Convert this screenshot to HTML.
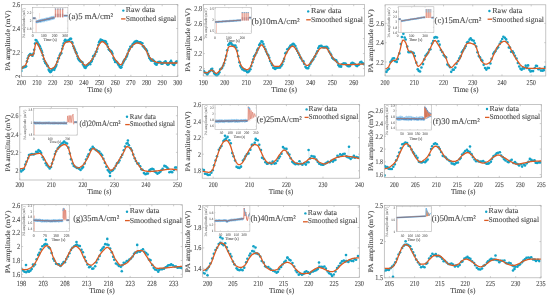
<!DOCTYPE html>
<html><head><meta charset="utf-8"><style>
html,body{margin:0;padding:0;background:#fff;width:550px;height:297px;overflow:hidden}
svg{display:block;will-change:transform}
text{font-family:"Liberation Serif",serif;stroke-width:0.1px;text-rendering:geometricPrecision}
</style></head><body>
<svg width="550" height="297" viewBox="0 0 550 297">
<rect width="550" height="297" fill="#fff"/>
<clipPath id="c1"><rect x="21.4" y="4.1" width="156.4" height="72.8"/></clipPath>
<path d="M21.4 76.4v-1.6M21.4 4.6v1.6M37.04 76.4v-1.6M37.04 4.6v1.6M52.68 76.4v-1.6M52.68 4.6v1.6M68.32 76.4v-1.6M68.32 4.6v1.6M83.96 76.4v-1.6M83.96 4.6v1.6M99.6 76.4v-1.6M99.6 4.6v1.6M115.24 76.4v-1.6M115.24 4.6v1.6M130.88 76.4v-1.6M130.88 4.6v1.6M146.52 76.4v-1.6M146.52 4.6v1.6M162.16 76.4v-1.6M162.16 4.6v1.6M177.8 76.4v-1.6M177.8 4.6v1.6M21.4 76.4h1.6M177.8 76.4h-1.6M21.4 52.47h1.6M177.8 52.47h-1.6M21.4 28.53h1.6M177.8 28.53h-1.6M21.4 4.6h1.6M177.8 4.6h-1.6" stroke="#adadad" stroke-width="0.6" fill="none"/>
<text x="21.4" y="84.7" font-size="7.52" text-anchor="middle" fill="#484848" stroke="#484848" textLength="9.21" lengthAdjust="spacingAndGlyphs">200</text>
<text x="37.04" y="84.7" font-size="7.52" text-anchor="middle" fill="#484848" stroke="#484848" textLength="9.21" lengthAdjust="spacingAndGlyphs">210</text>
<text x="52.68" y="84.7" font-size="7.52" text-anchor="middle" fill="#484848" stroke="#484848" textLength="9.21" lengthAdjust="spacingAndGlyphs">220</text>
<text x="68.32" y="84.7" font-size="7.52" text-anchor="middle" fill="#484848" stroke="#484848" textLength="9.21" lengthAdjust="spacingAndGlyphs">230</text>
<text x="83.96" y="84.7" font-size="7.52" text-anchor="middle" fill="#484848" stroke="#484848" textLength="9.21" lengthAdjust="spacingAndGlyphs">240</text>
<text x="99.6" y="84.7" font-size="7.52" text-anchor="middle" fill="#484848" stroke="#484848" textLength="9.21" lengthAdjust="spacingAndGlyphs">250</text>
<text x="115.24" y="84.7" font-size="7.52" text-anchor="middle" fill="#484848" stroke="#484848" textLength="9.21" lengthAdjust="spacingAndGlyphs">260</text>
<text x="130.88" y="84.7" font-size="7.52" text-anchor="middle" fill="#484848" stroke="#484848" textLength="9.21" lengthAdjust="spacingAndGlyphs">270</text>
<text x="146.52" y="84.7" font-size="7.52" text-anchor="middle" fill="#484848" stroke="#484848" textLength="9.21" lengthAdjust="spacingAndGlyphs">280</text>
<text x="162.16" y="84.7" font-size="7.52" text-anchor="middle" fill="#484848" stroke="#484848" textLength="9.21" lengthAdjust="spacingAndGlyphs">290</text>
<text x="177.8" y="84.7" font-size="7.52" text-anchor="middle" fill="#484848" stroke="#484848" textLength="9.21" lengthAdjust="spacingAndGlyphs">300</text>
<text x="20.2" y="76.4" font-size="6.77" text-anchor="middle" fill="#484848" stroke="#484848" transform="rotate(-90 20.2 76.4)">2</text>
<text x="20.1" y="55.03" font-size="7.52" text-anchor="end" fill="#484848" stroke="#484848" textLength="7.67" lengthAdjust="spacingAndGlyphs">2.2</text>
<text x="20.1" y="31.09" font-size="7.52" text-anchor="end" fill="#484848" stroke="#484848" textLength="7.67" lengthAdjust="spacingAndGlyphs">2.4</text>
<text x="20.1" y="7.16" font-size="7.52" text-anchor="end" fill="#484848" stroke="#484848" textLength="7.67" lengthAdjust="spacingAndGlyphs">2.6</text>
<text x="99.6" y="91.8" font-size="7.6" text-anchor="middle" fill="#484848" stroke="#484848" textLength="24.8" lengthAdjust="spacingAndGlyphs">Time (s)</text>
<text x="9.6" y="40.6" font-size="7" text-anchor="middle" fill="#484848" stroke="#484848" textLength="60.5" lengthAdjust="spacingAndGlyphs" transform="rotate(-90 9.6 40.6)">PA amplitude (mV)</text>
<g clip-path="url(#c1)"><polyline points="21.37,70.89 22.27,67.99 22.84,67.49 23.74,66.68 24.49,67.23 25.27,66.69 26.1,66.33 26.95,61.39 27.77,58.31 28.61,56.02 29.37,54.98 30.26,54.03 30.91,54.72 31.92,55.11 32.45,55.74 33.45,53.53 34.17,49.83 35.02,43.61 35.68,40.01 36.5,40.44 37.5,42.3 38.35,44.35 38.94,44.79 39.86,46.18 40.72,48.46 41.53,50.46 42.07,52.39 42.85,55.32 43.69,58.95 44.72,61.28 45.27,62.88 46.17,63.67 47.15,65.38 47.81,66.17 48.66,69.63 49.34,71.1 50.26,72.11 51.11,71.59 51.65,70.22 52.68,69.56 53.56,68.61 54.28,69.83 54.93,68.12 55.89,66.41 56.47,64.8 57.38,61.82 58.33,58.29 58.93,57.93 59.73,55.26 60.48,53.66 61.25,53.14 62.26,48.81 62.91,45.69 63.72,43.29 64.6,40.85 65.26,39.9 66.22,41.14 66.89,40.87 67.83,41.37 68.66,40.12 69.27,39.97 70.17,38.85 71.06,38.81 71.77,42.03 72.46,42.89 73.41,46.23 74.25,48.27 75,50.08 75.94,52.13 76.63,53.62 77.53,56.34 78.08,58.55 78.88,59.83 79.9,60.88 80.57,61.26 81.29,61.69 82.34,62.19 82.95,64.49 83.88,66.03 84.67,67.51 85.52,67.95 86.24,66.58 87.08,65.35 87.75,64.9 88.53,64.04 89.53,63.28 90.18,64.2 91.15,61.92 91.85,60.98 92.64,59 93.28,56.13 94.34,55.98 94.98,54.2 95.83,52.03 96.57,51.67 97.32,48.72 98.33,45.03 99.02,42.4 99.64,41.37 100.64,39.44 101.34,40.4 102.21,40.3 103.12,40.98 103.75,41.51 104.73,41.06 105.44,41.37 106.05,42.11 107.14,44.04 107.86,46.78 108.76,49.29 109.3,49.86 110.08,50.83 111.14,51.14 111.86,52.41 112.46,53.69 113.48,58.1 114.28,59.7 115.14,62 115.87,61.59 116.48,61.92 117.25,62.61 118.05,64.01 118.85,65.15 119.72,66.85 120.72,67.64 121.41,67.17 122.22,64.77 123.11,62.75 123.68,61.2 124.53,59.84 125.43,59.07 126.35,57.07 127.02,55.75 127.65,53.8 128.7,50.84 129.31,49.4 130.3,46.75 130.96,46.69 131.92,46.61 132.68,44.37 133.42,43.81 134.08,42.73 134.86,41.79 135.68,41.89 136.45,41.16 137.27,41.4 138.11,42.62 139.07,42.31 139.82,42.89 140.44,42.33 141.26,42.97 142.35,43.35 143.02,46.28 143.71,46.56 144.52,47.92 145.48,48.99 146.1,49.52 147.03,51.05 147.95,53.72 148.71,55.71 149.32,57.91 150.2,59.11 151.04,60.4 151.91,60.46 152.49,59.58 153.25,60.64 154.06,61 155,63.35 155.83,64.21 156.62,64.68 157.34,63.02 158.36,62.02 159.03,62.31 159.76,61.74 160.62,62.36 161.48,63.64 162.25,63.64 162.92,63.21 163.66,62.76 164.56,62.26 165.44,61.41 166.11,62.54 167.08,63.93 167.66,64.58 168.52,64.36 169.5,62.95 170.1,62.27 171.04,60.88 171.81,62.43 172.74,63.88 173.32,64.19 174.06,64.97 175.08,63.29 175.89,62.03 176.73,61.5 177.54,61.64" fill="none" stroke="#9dd6ea" stroke-width="0.35" opacity="0.7"/><g fill="#12a2c6"><circle cx="21.37" cy="70.89" r="1.3"/><circle cx="22.27" cy="67.99" r="1.3"/><circle cx="22.84" cy="67.49" r="1.3"/><circle cx="23.74" cy="66.68" r="1.3"/><circle cx="24.49" cy="67.23" r="1.3"/><circle cx="25.27" cy="66.69" r="1.3"/><circle cx="26.1" cy="66.33" r="1.3"/><circle cx="26.95" cy="61.39" r="1.3"/><circle cx="27.77" cy="58.31" r="1.3"/><circle cx="28.61" cy="56.02" r="1.3"/><circle cx="29.37" cy="54.98" r="1.3"/><circle cx="30.26" cy="54.03" r="1.3"/><circle cx="30.91" cy="54.72" r="1.3"/><circle cx="31.92" cy="55.11" r="1.3"/><circle cx="32.45" cy="55.74" r="1.3"/><circle cx="33.45" cy="53.53" r="1.3"/><circle cx="34.17" cy="49.83" r="1.3"/><circle cx="35.02" cy="43.61" r="1.3"/><circle cx="35.68" cy="40.01" r="1.3"/><circle cx="36.5" cy="40.44" r="1.3"/><circle cx="37.5" cy="42.3" r="1.3"/><circle cx="38.35" cy="44.35" r="1.3"/><circle cx="38.94" cy="44.79" r="1.3"/><circle cx="39.86" cy="46.18" r="1.3"/><circle cx="40.72" cy="48.46" r="1.3"/><circle cx="41.53" cy="50.46" r="1.3"/><circle cx="42.07" cy="52.39" r="1.3"/><circle cx="42.85" cy="55.32" r="1.3"/><circle cx="43.69" cy="58.95" r="1.3"/><circle cx="44.72" cy="61.28" r="1.3"/><circle cx="45.27" cy="62.88" r="1.3"/><circle cx="46.17" cy="63.67" r="1.3"/><circle cx="47.15" cy="65.38" r="1.3"/><circle cx="47.81" cy="66.17" r="1.3"/><circle cx="48.66" cy="69.63" r="1.3"/><circle cx="49.34" cy="71.1" r="1.3"/><circle cx="50.26" cy="72.11" r="1.3"/><circle cx="51.11" cy="71.59" r="1.3"/><circle cx="51.65" cy="70.22" r="1.3"/><circle cx="52.68" cy="69.56" r="1.3"/><circle cx="53.56" cy="68.61" r="1.3"/><circle cx="54.28" cy="69.83" r="1.3"/><circle cx="54.93" cy="68.12" r="1.3"/><circle cx="55.89" cy="66.41" r="1.3"/><circle cx="56.47" cy="64.8" r="1.3"/><circle cx="57.38" cy="61.82" r="1.3"/><circle cx="58.33" cy="58.29" r="1.3"/><circle cx="58.93" cy="57.93" r="1.3"/><circle cx="59.73" cy="55.26" r="1.3"/><circle cx="60.48" cy="53.66" r="1.3"/><circle cx="61.25" cy="53.14" r="1.3"/><circle cx="62.26" cy="48.81" r="1.3"/><circle cx="62.91" cy="45.69" r="1.3"/><circle cx="63.72" cy="43.29" r="1.3"/><circle cx="64.6" cy="40.85" r="1.3"/><circle cx="65.26" cy="39.9" r="1.3"/><circle cx="66.22" cy="41.14" r="1.3"/><circle cx="66.89" cy="40.87" r="1.3"/><circle cx="67.83" cy="41.37" r="1.3"/><circle cx="68.66" cy="40.12" r="1.3"/><circle cx="69.27" cy="39.97" r="1.3"/><circle cx="70.17" cy="38.85" r="1.3"/><circle cx="71.06" cy="38.81" r="1.3"/><circle cx="71.77" cy="42.03" r="1.3"/><circle cx="72.46" cy="42.89" r="1.3"/><circle cx="73.41" cy="46.23" r="1.3"/><circle cx="74.25" cy="48.27" r="1.3"/><circle cx="75" cy="50.08" r="1.3"/><circle cx="75.94" cy="52.13" r="1.3"/><circle cx="76.63" cy="53.62" r="1.3"/><circle cx="77.53" cy="56.34" r="1.3"/><circle cx="78.08" cy="58.55" r="1.3"/><circle cx="78.88" cy="59.83" r="1.3"/><circle cx="79.9" cy="60.88" r="1.3"/><circle cx="80.57" cy="61.26" r="1.3"/><circle cx="81.29" cy="61.69" r="1.3"/><circle cx="82.34" cy="62.19" r="1.3"/><circle cx="82.95" cy="64.49" r="1.3"/><circle cx="83.88" cy="66.03" r="1.3"/><circle cx="84.67" cy="67.51" r="1.3"/><circle cx="85.52" cy="67.95" r="1.3"/><circle cx="86.24" cy="66.58" r="1.3"/><circle cx="87.08" cy="65.35" r="1.3"/><circle cx="87.75" cy="64.9" r="1.3"/><circle cx="88.53" cy="64.04" r="1.3"/><circle cx="89.53" cy="63.28" r="1.3"/><circle cx="90.18" cy="64.2" r="1.3"/><circle cx="91.15" cy="61.92" r="1.3"/><circle cx="91.85" cy="60.98" r="1.3"/><circle cx="92.64" cy="59" r="1.3"/><circle cx="93.28" cy="56.13" r="1.3"/><circle cx="94.34" cy="55.98" r="1.3"/><circle cx="94.98" cy="54.2" r="1.3"/><circle cx="95.83" cy="52.03" r="1.3"/><circle cx="96.57" cy="51.67" r="1.3"/><circle cx="97.32" cy="48.72" r="1.3"/><circle cx="98.33" cy="45.03" r="1.3"/><circle cx="99.02" cy="42.4" r="1.3"/><circle cx="99.64" cy="41.37" r="1.3"/><circle cx="100.64" cy="39.44" r="1.3"/><circle cx="101.34" cy="40.4" r="1.3"/><circle cx="102.21" cy="40.3" r="1.3"/><circle cx="103.12" cy="40.98" r="1.3"/><circle cx="103.75" cy="41.51" r="1.3"/><circle cx="104.73" cy="41.06" r="1.3"/><circle cx="105.44" cy="41.37" r="1.3"/><circle cx="106.05" cy="42.11" r="1.3"/><circle cx="107.14" cy="44.04" r="1.3"/><circle cx="107.86" cy="46.78" r="1.3"/><circle cx="108.76" cy="49.29" r="1.3"/><circle cx="109.3" cy="49.86" r="1.3"/><circle cx="110.08" cy="50.83" r="1.3"/><circle cx="111.14" cy="51.14" r="1.3"/><circle cx="111.86" cy="52.41" r="1.3"/><circle cx="112.46" cy="53.69" r="1.3"/><circle cx="113.48" cy="58.1" r="1.3"/><circle cx="114.28" cy="59.7" r="1.3"/><circle cx="115.14" cy="62" r="1.3"/><circle cx="115.87" cy="61.59" r="1.3"/><circle cx="116.48" cy="61.92" r="1.3"/><circle cx="117.25" cy="62.61" r="1.3"/><circle cx="118.05" cy="64.01" r="1.3"/><circle cx="118.85" cy="65.15" r="1.3"/><circle cx="119.72" cy="66.85" r="1.3"/><circle cx="120.72" cy="67.64" r="1.3"/><circle cx="121.41" cy="67.17" r="1.3"/><circle cx="122.22" cy="64.77" r="1.3"/><circle cx="123.11" cy="62.75" r="1.3"/><circle cx="123.68" cy="61.2" r="1.3"/><circle cx="124.53" cy="59.84" r="1.3"/><circle cx="125.43" cy="59.07" r="1.3"/><circle cx="126.35" cy="57.07" r="1.3"/><circle cx="127.02" cy="55.75" r="1.3"/><circle cx="127.65" cy="53.8" r="1.3"/><circle cx="128.7" cy="50.84" r="1.3"/><circle cx="129.31" cy="49.4" r="1.3"/><circle cx="130.3" cy="46.75" r="1.3"/><circle cx="130.96" cy="46.69" r="1.3"/><circle cx="131.92" cy="46.61" r="1.3"/><circle cx="132.68" cy="44.37" r="1.3"/><circle cx="133.42" cy="43.81" r="1.3"/><circle cx="134.08" cy="42.73" r="1.3"/><circle cx="134.86" cy="41.79" r="1.3"/><circle cx="135.68" cy="41.89" r="1.3"/><circle cx="136.45" cy="41.16" r="1.3"/><circle cx="137.27" cy="41.4" r="1.3"/><circle cx="138.11" cy="42.62" r="1.3"/><circle cx="139.07" cy="42.31" r="1.3"/><circle cx="139.82" cy="42.89" r="1.3"/><circle cx="140.44" cy="42.33" r="1.3"/><circle cx="141.26" cy="42.97" r="1.3"/><circle cx="142.35" cy="43.35" r="1.3"/><circle cx="143.02" cy="46.28" r="1.3"/><circle cx="143.71" cy="46.56" r="1.3"/><circle cx="144.52" cy="47.92" r="1.3"/><circle cx="145.48" cy="48.99" r="1.3"/><circle cx="146.1" cy="49.52" r="1.3"/><circle cx="147.03" cy="51.05" r="1.3"/><circle cx="147.95" cy="53.72" r="1.3"/><circle cx="148.71" cy="55.71" r="1.3"/><circle cx="149.32" cy="57.91" r="1.3"/><circle cx="150.2" cy="59.11" r="1.3"/><circle cx="151.04" cy="60.4" r="1.3"/><circle cx="151.91" cy="60.46" r="1.3"/><circle cx="152.49" cy="59.58" r="1.3"/><circle cx="153.25" cy="60.64" r="1.3"/><circle cx="154.06" cy="61" r="1.3"/><circle cx="155" cy="63.35" r="1.3"/><circle cx="155.83" cy="64.21" r="1.3"/><circle cx="156.62" cy="64.68" r="1.3"/><circle cx="157.34" cy="63.02" r="1.3"/><circle cx="158.36" cy="62.02" r="1.3"/><circle cx="159.03" cy="62.31" r="1.3"/><circle cx="159.76" cy="61.74" r="1.3"/><circle cx="160.62" cy="62.36" r="1.3"/><circle cx="161.48" cy="63.64" r="1.3"/><circle cx="162.25" cy="63.64" r="1.3"/><circle cx="162.92" cy="63.21" r="1.3"/><circle cx="163.66" cy="62.76" r="1.3"/><circle cx="164.56" cy="62.26" r="1.3"/><circle cx="165.44" cy="61.41" r="1.3"/><circle cx="166.11" cy="62.54" r="1.3"/><circle cx="167.08" cy="63.93" r="1.3"/><circle cx="167.66" cy="64.58" r="1.3"/><circle cx="168.52" cy="64.36" r="1.3"/><circle cx="169.5" cy="62.95" r="1.3"/><circle cx="170.1" cy="62.27" r="1.3"/><circle cx="171.04" cy="60.88" r="1.3"/><circle cx="171.81" cy="62.43" r="1.3"/><circle cx="172.74" cy="63.88" r="1.3"/><circle cx="173.32" cy="64.19" r="1.3"/><circle cx="174.06" cy="64.97" r="1.3"/><circle cx="175.08" cy="63.29" r="1.3"/><circle cx="175.89" cy="62.03" r="1.3"/><circle cx="176.73" cy="61.5" r="1.3"/><circle cx="177.54" cy="61.64" r="1.3"/></g><polyline points="21.4,69.5 21.92,68.25 22.45,67.56 22.97,67.06 23.49,66.67 24.02,66.33 24.54,65.96 25.06,65.5 25.58,64.87 26.11,63.91 26.63,62.5 27.15,60.85 27.68,59.17 28.2,57.68 28.72,56.52 29.25,55.43 29.77,55 30.29,55 30.82,55 31.34,55 31.86,55 32.38,55 32.91,55 33.43,54.4 33.95,52.42 34.48,49.65 35,46.73 35.52,44.3 36.05,42.98 36.57,42.98 37.09,43.37 37.62,44.02 38.14,44.88 38.66,45.9 39.18,47.02 39.71,48.2 40.23,49.38 40.75,50.5 41.28,51.57 41.8,52.74 42.32,54.02 42.85,55.36 43.37,56.73 43.89,58.09 44.42,59.39 44.94,60.6 45.46,61.69 45.98,62.62 46.51,63.55 47.03,64.5 47.55,65.43 48.08,66.31 48.6,67.12 49.12,67.8 49.65,68.33 50.17,68.67 50.69,68.8 51.22,68.75 51.74,68.59 52.26,68.35 52.78,68.05 53.31,67.7 53.83,67.32 54.35,66.89 54.88,66.28 55.4,65.5 55.92,64.58 56.45,63.53 56.97,62.39 57.49,61.18 58.02,59.91 58.54,58.63 59.06,57.34 59.58,56.07 60.11,54.85 60.63,53.67 61.15,52.34 61.68,50.88 62.2,49.36 62.72,47.84 63.25,46.4 63.77,45.11 64.29,44.04 64.82,43.25 65.34,42.81 65.86,42.49 66.38,42.2 66.91,41.96 67.43,41.77 67.95,41.65 68.48,41.6 69,41.63 69.52,41.71 70.05,41.83 70.57,41.99 71.09,42.19 71.62,42.69 72.14,43.5 72.66,44.55 73.18,45.8 73.71,47.18 74.23,48.63 74.75,50.08 75.28,51.48 75.8,52.76 76.32,53.87 76.85,54.8 77.37,55.7 77.89,56.57 78.42,57.41 78.94,58.21 79.46,58.99 79.98,59.72 80.51,60.42 81.03,61.07 81.55,61.68 82.08,62.31 82.6,62.97 83.12,63.6 83.65,64.18 84.17,64.66 84.69,65.01 85.22,65.19 85.74,65.17 86.26,65 86.78,64.72 87.31,64.34 87.83,63.89 88.35,63.4 88.88,62.89 89.4,62.39 89.92,61.89 90.45,61.34 90.97,60.73 91.49,60.07 92.02,59.36 92.54,58.61 93.06,57.82 93.58,56.99 94.11,56.13 94.63,55.19 95.15,54.06 95.68,52.77 96.2,51.39 96.72,49.97 97.25,48.57 97.77,47.25 98.29,46.06 98.82,45.07 99.34,44.32 99.86,43.63 100.38,42.97 100.91,42.39 101.43,41.93 101.95,41.66 102.48,41.61 103,41.75 103.52,42.03 104.05,42.42 104.57,42.9 105.09,43.44 105.62,44.02 106.14,44.6 106.66,45.18 107.18,45.83 107.71,46.59 108.23,47.42 108.75,48.3 109.28,49.23 109.8,50.17 110.32,51.1 110.85,52.01 111.37,52.88 111.89,53.78 112.42,54.71 112.94,55.65 113.46,56.6 113.98,57.52 114.51,58.4 115.03,59.21 115.55,59.95 116.08,60.59 116.6,61.21 117.12,61.84 117.65,62.46 118.17,63.04 118.69,63.57 119.22,64.03 119.74,64.38 120.26,64.61 120.78,64.7 121.31,64.53 121.83,64.05 122.35,63.33 122.88,62.45 123.4,61.49 123.92,60.51 124.45,59.59 124.97,58.7 125.49,57.72 126.02,56.68 126.54,55.61 127.06,54.52 127.58,53.45 128.11,52.42 128.63,51.46 129.15,50.57 129.68,49.67 130.2,48.76 130.72,47.87 131.25,47.03 131.77,46.28 132.29,45.64 132.82,45.14 133.34,44.77 133.86,44.43 134.38,44.1 134.91,43.8 135.43,43.53 135.95,43.29 136.48,43.11 137,42.98 137.52,42.91 138.05,42.91 138.57,42.99 139.09,43.14 139.62,43.35 140.14,43.62 140.66,43.94 141.18,44.3 141.71,44.7 142.23,45.12 142.75,45.56 143.28,46.01 143.8,46.49 144.32,47.15 144.85,47.97 145.37,48.91 145.89,49.95 146.42,51.05 146.94,52.18 147.46,53.3 147.98,54.38 148.51,55.4 149.03,56.31 149.55,57.08 150.08,57.69 150.6,58.25 151.12,58.79 151.65,59.29 152.17,59.77 152.69,60.21 153.22,60.6 153.74,60.95 154.26,61.25 154.78,61.49 155.31,61.7 155.83,61.9 156.35,62.09 156.88,62.27 157.4,62.42 157.92,62.56 158.45,62.66 158.97,62.75 159.49,62.79 160.02,62.82 160.54,62.84 161.06,62.86 161.58,62.88 162.11,62.9 162.63,62.92 163.15,62.93 163.68,62.95 164.2,62.96 164.72,62.97 165.25,62.98 165.77,62.99 166.29,62.99 166.82,63 167.34,63 167.86,63 168.38,63 168.91,63 169.43,63 169.95,63 170.48,63 171,63 171.52,63 172.05,63 172.57,63 173.09,63 173.62,63 174.14,63 174.66,63 175.18,63 175.71,63 176.23,63 176.75,63 177.28,63 177.8,63" fill="none" stroke="#dc5a22" stroke-width="1.3" stroke-linejoin="round"/></g>
<rect x="21.4" y="4.6" width="156.4" height="71.8" fill="none" stroke="#adadad" stroke-width="0.7"/>
<circle cx="123.3" cy="10.6" r="1.2" fill="#12a2c6"/>
<path d="M121.1 18.9H125.5" stroke="#dc5a22" stroke-width="1.3"/>
<text x="125.7" y="12.2" font-size="7.6" text-anchor="start" fill="#484848" stroke="#484848" textLength="29.4" lengthAdjust="spacingAndGlyphs">Raw data</text>
<text x="125.7" y="20.7" font-size="7.6" text-anchor="start" fill="#484848" stroke="#484848" textLength="50.5" lengthAdjust="spacingAndGlyphs">Smoothed signal</text>
<text x="68.6" y="19.3" font-size="8.6" fill="#484848" stroke="#484848" textLength="44.5" lengthAdjust="spacingAndGlyphs">(a)5 mA/cm²</text>
<rect x="32.6" y="7.3" width="35.3" height="25.5" fill="#fff"/>
<clipPath id="ic1"><rect x="32.6" y="7.3" width="35.3" height="25.5"/></clipPath>
<text x="32.8" y="36.9" font-size="4.18" text-anchor="middle" fill="#6a6a6a" stroke="#6a6a6a" textLength="1.9" lengthAdjust="spacingAndGlyphs">0</text>
<text x="43.9" y="36.9" font-size="4.18" text-anchor="middle" fill="#6a6a6a" stroke="#6a6a6a" textLength="5.7" lengthAdjust="spacingAndGlyphs">100</text>
<text x="54.6" y="36.9" font-size="4.18" text-anchor="middle" fill="#6a6a6a" stroke="#6a6a6a" textLength="5.7" lengthAdjust="spacingAndGlyphs">200</text>
<text x="65.2" y="36.9" font-size="4.18" text-anchor="middle" fill="#6a6a6a" stroke="#6a6a6a" textLength="5.7" lengthAdjust="spacingAndGlyphs">300</text>
<text x="31.4" y="14.08" font-size="3.76" text-anchor="end" fill="#6a6a6a" stroke="#6a6a6a" textLength="4.28" lengthAdjust="spacingAndGlyphs">2.2</text>
<text x="31.4" y="22.38" font-size="3.76" text-anchor="end" fill="#6a6a6a" stroke="#6a6a6a" textLength="1.71" lengthAdjust="spacingAndGlyphs">2</text>
<text x="31.4" y="29.58" font-size="3.76" text-anchor="end" fill="#6a6a6a" stroke="#6a6a6a" textLength="4.28" lengthAdjust="spacingAndGlyphs">1.8</text>
<path d="M32.8 32.8v-1M32.8 7.3v1M43.9 32.8v-1M43.9 7.3v1M54.6 32.8v-1M54.6 7.3v1M65.2 32.8v-1M65.2 7.3v1M32.6 12.7h1M67.9 12.7h-1M32.6 21h1M67.9 21h-1M32.6 28.2h1M67.9 28.2h-1" stroke="#b0b0b0" stroke-width="0.4" fill="none"/>
<text x="50.1" y="41" font-size="4.2" text-anchor="middle" fill="#6a6a6a" stroke="#6a6a6a" textLength="13.4" lengthAdjust="spacingAndGlyphs">Time (s)</text>
<text x="24.7" y="23.05" font-size="3.6" text-anchor="middle" fill="#8a8a8a" stroke="#8a8a8a" textLength="30" lengthAdjust="spacingAndGlyphs" transform="rotate(-90 24.7 23.05)">PA amplitude (mV)</text>
<g clip-path="url(#ic1)"><polyline points="32.6,18.2 32.9,18.2 33.2,18.2 33.5,18.2 33.8,18.2 34.1,18.2 34.4,18.2 34.7,18.2 35,18.2 35.3,18.2 35.6,18.2" fill="none" stroke="#a6d2f0" stroke-width="2.46" stroke-linejoin="round"/><polyline points="32.6,18.2 32.9,18.2 33.2,18.2 33.5,18.2 33.8,18.2 34.1,18.2 34.4,18.2 34.7,18.2 35,18.2 35.3,18.2 35.6,18.2" fill="none" stroke="#5a9ad6" stroke-width="1.36" stroke-linejoin="round"/><polyline points="32.6,18.6 32.9,18.6 33.2,18.6 33.5,18.6 33.8,18.6 34.1,18.6 34.4,18.6 34.7,18.6 35,18.6 35.3,18.6 35.6,18.6" fill="none" stroke="#4d6688" stroke-width="0.3" opacity="0.5"/><polyline points="32.6,18.1 32.9,18.1 33.2,18.1 33.5,18.1 33.8,18.1 34.1,18.1 34.4,18.1 34.7,18.1 35,18.1 35.3,18.1 35.6,18.1" fill="none" stroke="#d46a42" stroke-width="0.7" opacity="0.9"/><path d="M36.1 18.2V32.5" stroke="#eaa898" stroke-width="0.6"/><path d="M39.6 13V18.5" stroke="#f0c0b0" stroke-width="0.4"/><polyline points="36,21.37 36.3,21.44 36.6,21.63 36.9,21.69 37.2,21.57 37.5,21.5 37.8,21.59 38.1,21.34 38.4,21.41 38.7,21.26 39,20.99 39.3,20.85 39.6,20.74 39.9,21.02 40.2,20.81 40.5,21.24 40.8,20.76 41.1,21.13 41.4,20.31 41.7,20.54 42,20.14 42.3,20.35 42.6,20.54 42.9,20.17 43.2,20.14 43.5,20.24 43.8,20.55 44.1,19.78 44.4,19.68 44.7,19.71 45,19.77 45.3,19.54 45.6,19.73 45.9,19.78 46.2,19.22 46.5,19.85 46.8,19.03 47.1,19.4 47.4,19.28 47.7,19.63 48,18.95 48.3,19.03 48.6,19.07 48.9,19.09 49.2,18.76 49.5,19.18 49.8,18.38 50.1,18.37 50.4,18.54 50.7,18.24 51,18.01 51.3,18.65 51.6,18.45 51.9,17.61 52.2,18.32 52.5,18.3 52.8,17.68 53.1,18.19 53.4,17.43 53.7,17.61 54,17.62 54.3,17.71 54.6,17.62" fill="none" stroke="#a6d2f0" stroke-width="3.19" stroke-linejoin="round"/><polyline points="36,21.83 36.3,21.6 36.6,21.89 36.9,21.69 37.2,21.44 37.5,21.37 37.8,21.6 38.1,21.41 38.4,21.11 38.7,21.12 39,21.26 39.3,20.75 39.6,20.84 39.9,21.01 40.2,20.65 40.5,21.01 40.8,20.53 41.1,20.42 41.4,20.36 41.7,20.5 42,20.36 42.3,20.24 42.6,20.3 42.9,20.09 43.2,20.18 43.5,20.17 43.8,20.06 44.1,19.78 44.4,20 44.7,19.82 45,19.86 45.3,19.81 45.6,19.53 45.9,19.64 46.2,19.35 46.5,19.47 46.8,19.07 47.1,19.35 47.4,19.18 47.7,18.86 48,19.09 48.3,18.89 48.6,19.22 48.9,18.86 49.2,19.11 49.5,18.81 49.8,18.5 50.1,18.6 50.4,18.53 50.7,18.55 51,18.12 51.3,18.24 51.6,18.13 51.9,18.18 52.2,18.1 52.5,18.06 52.8,18.04 53.1,17.84 53.4,17.92 53.7,17.67 54,17.6 54.3,17.64 54.6,17.55" fill="none" stroke="#5a9ad6" stroke-width="1.76" stroke-linejoin="round"/><polyline points="36,22.2 36.3,22.13 36.6,22.06 36.9,21.99 37.2,21.92 37.5,21.86 37.8,21.79 38.1,21.72 38.4,21.65 38.7,21.58 39,21.51 39.3,21.44 39.6,21.37 39.9,21.3 40.2,21.23 40.5,21.17 40.8,21.1 41.1,21.03 41.4,20.96 41.7,20.89 42,20.82 42.3,20.75 42.6,20.68 42.9,20.61 43.2,20.54 43.5,20.48 43.8,20.41 44.1,20.34 44.4,20.27 44.7,20.2 45,20.13 45.3,20.06 45.6,19.99 45.9,19.92 46.2,19.85 46.5,19.79 46.8,19.72 47.1,19.65 47.4,19.58 47.7,19.51 48,19.44 48.3,19.37 48.6,19.3 48.9,19.23 49.2,19.16 49.5,19.1 49.8,19.03 50.1,18.96 50.4,18.89 50.7,18.82 51,18.75 51.3,18.68 51.6,18.61 51.9,18.54 52.2,18.47 52.5,18.41 52.8,18.34 53.1,18.27 53.4,18.2 53.7,18.13 54,18.06 54.3,17.99 54.6,17.92" fill="none" stroke="#4d6688" stroke-width="0.3" opacity="0.5"/><polyline points="36,21.7 36.3,21.63 36.6,21.56 36.9,21.49 37.2,21.42 37.5,21.36 37.8,21.29 38.1,21.22 38.4,21.15 38.7,21.08 39,21.01 39.3,20.94 39.6,20.87 39.9,20.8 40.2,20.73 40.5,20.67 40.8,20.6 41.1,20.53 41.4,20.46 41.7,20.39 42,20.32 42.3,20.25 42.6,20.18 42.9,20.11 43.2,20.04 43.5,19.98 43.8,19.91 44.1,19.84 44.4,19.77 44.7,19.7 45,19.63 45.3,19.56 45.6,19.49 45.9,19.42 46.2,19.35 46.5,19.29 46.8,19.22 47.1,19.15 47.4,19.08 47.7,19.01 48,18.94 48.3,18.87 48.6,18.8 48.9,18.73 49.2,18.66 49.5,18.6 49.8,18.53 50.1,18.46 50.4,18.39 50.7,18.32 51,18.25 51.3,18.18 51.6,18.11 51.9,18.04 52.2,17.97 52.5,17.91 52.8,17.84 53.1,17.77 53.4,17.7 53.7,17.63 54,17.56 54.3,17.49 54.6,17.42" fill="none" stroke="#d46a42" stroke-width="0.7" opacity="0.9"/><polygon points="54.85,17.3 54.85,8.6 56.32,8.6 56.32,17.3" fill="#e69c8c" opacity="0.75"/><polygon points="54.85,17.3 54.85,13.82 56.32,13.82 56.32,17.3" fill="#9a6a78" opacity="0.54"/><path d="M55.37 8.6V17.3" stroke="#d9705e" stroke-width="0.45"/><path d="M55.59 8.5V9.5" stroke="#4aa6dc" stroke-width="0.9"/><polygon points="57.23,17.3 57.23,8.6 58.7,8.6 58.7,17.3" fill="#e69c8c" opacity="0.75"/><polygon points="57.23,17.3 57.23,13.82 58.7,13.82 58.7,17.3" fill="#9a6a78" opacity="0.54"/><path d="M57.74 8.6V17.3" stroke="#d9705e" stroke-width="0.45"/><path d="M57.96 8.5V9.5" stroke="#4aa6dc" stroke-width="0.9"/><polygon points="59.6,17.3 59.6,8.6 61.07,8.6 61.07,17.3" fill="#e69c8c" opacity="0.75"/><polygon points="59.6,17.3 59.6,13.82 61.07,13.82 61.07,17.3" fill="#9a6a78" opacity="0.54"/><path d="M60.12 8.6V17.3" stroke="#d9705e" stroke-width="0.45"/><path d="M60.34 8.5V9.5" stroke="#4aa6dc" stroke-width="0.9"/><polygon points="61.98,17.3 61.98,8.6 63.45,8.6 63.45,17.3" fill="#e69c8c" opacity="0.75"/><polygon points="61.98,17.3 61.98,13.82 63.45,13.82 63.45,17.3" fill="#9a6a78" opacity="0.54"/><path d="M62.49 8.6V17.3" stroke="#d9705e" stroke-width="0.45"/><path d="M62.71 8.5V9.5" stroke="#4aa6dc" stroke-width="0.9"/><polyline points="63.8,15.6 64.1,15.6 64.4,15.6 64.7,15.6 65,15.6 65.3,15.6 65.6,15.6 65.9,15.6 66.2,15.6 66.5,15.6 66.8,15.6 67.1,15.6 67.4,15.6 67.7,15.6" fill="none" stroke="#a6d2f0" stroke-width="2.32" stroke-linejoin="round"/><polyline points="63.8,15.6 64.1,15.6 64.4,15.6 64.7,15.6 65,15.6 65.3,15.6 65.6,15.6 65.9,15.6 66.2,15.6 66.5,15.6 66.8,15.6 67.1,15.6 67.4,15.6 67.7,15.6" fill="none" stroke="#5a9ad6" stroke-width="1.28" stroke-linejoin="round"/><polyline points="63.8,16 64.1,16 64.4,16 64.7,16 65,16 65.3,16 65.6,16 65.9,16 66.2,16 66.5,16 66.8,16 67.1,16 67.4,16 67.7,16" fill="none" stroke="#4d6688" stroke-width="0.3" opacity="0.5"/><polyline points="63.8,15.5 64.1,15.5 64.4,15.5 64.7,15.5 65,15.5 65.3,15.5 65.6,15.5 65.9,15.5 66.2,15.5 66.5,15.5 66.8,15.5 67.1,15.5 67.4,15.5 67.7,15.5" fill="none" stroke="#d46a42" stroke-width="0.7" opacity="0.9"/></g>
<rect x="32.6" y="7.3" width="35.3" height="25.5" fill="none" stroke="#a8a8a8" stroke-width="0.5"/>
<clipPath id="c2"><rect x="203.3" y="4.1" width="161.2" height="72.4"/></clipPath>
<path d="M203.3 76v-1.6M203.3 4.6v1.6M224.79 76v-1.6M224.79 4.6v1.6M246.28 76v-1.6M246.28 4.6v1.6M267.77 76v-1.6M267.77 4.6v1.6M289.26 76v-1.6M289.26 4.6v1.6M310.75 76v-1.6M310.75 4.6v1.6M332.24 76v-1.6M332.24 4.6v1.6M353.73 76v-1.6M353.73 4.6v1.6M203.3 68.6h1.6M364.5 68.6h-1.6M203.3 53.6h1.6M364.5 53.6h-1.6M203.3 38.6h1.6M364.5 38.6h-1.6M203.3 23.6h1.6M364.5 23.6h-1.6M203.3 8.6h1.6M364.5 8.6h-1.6" stroke="#adadad" stroke-width="0.6" fill="none"/>
<text x="203.3" y="84.7" font-size="7.52" text-anchor="middle" fill="#484848" stroke="#484848" textLength="9.21" lengthAdjust="spacingAndGlyphs">190</text>
<text x="224.79" y="84.7" font-size="7.52" text-anchor="middle" fill="#484848" stroke="#484848" textLength="9.21" lengthAdjust="spacingAndGlyphs">200</text>
<text x="246.28" y="84.7" font-size="7.52" text-anchor="middle" fill="#484848" stroke="#484848" textLength="9.21" lengthAdjust="spacingAndGlyphs">210</text>
<text x="267.77" y="84.7" font-size="7.52" text-anchor="middle" fill="#484848" stroke="#484848" textLength="9.21" lengthAdjust="spacingAndGlyphs">220</text>
<text x="289.26" y="84.7" font-size="7.52" text-anchor="middle" fill="#484848" stroke="#484848" textLength="9.21" lengthAdjust="spacingAndGlyphs">230</text>
<text x="310.75" y="84.7" font-size="7.52" text-anchor="middle" fill="#484848" stroke="#484848" textLength="9.21" lengthAdjust="spacingAndGlyphs">240</text>
<text x="332.24" y="84.7" font-size="7.52" text-anchor="middle" fill="#484848" stroke="#484848" textLength="9.21" lengthAdjust="spacingAndGlyphs">250</text>
<text x="353.73" y="84.7" font-size="7.52" text-anchor="middle" fill="#484848" stroke="#484848" textLength="9.21" lengthAdjust="spacingAndGlyphs">260</text>
<text x="202" y="71.16" font-size="7.52" text-anchor="end" fill="#484848" stroke="#484848" textLength="3.07" lengthAdjust="spacingAndGlyphs">2</text>
<text x="202" y="56.16" font-size="7.52" text-anchor="end" fill="#484848" stroke="#484848" textLength="7.67" lengthAdjust="spacingAndGlyphs">2.2</text>
<text x="202" y="41.16" font-size="7.52" text-anchor="end" fill="#484848" stroke="#484848" textLength="7.67" lengthAdjust="spacingAndGlyphs">2.4</text>
<text x="202" y="26.16" font-size="7.52" text-anchor="end" fill="#484848" stroke="#484848" textLength="7.67" lengthAdjust="spacingAndGlyphs">2.6</text>
<text x="202" y="11.16" font-size="7.52" text-anchor="end" fill="#484848" stroke="#484848" textLength="7.67" lengthAdjust="spacingAndGlyphs">2.8</text>
<text x="284.2" y="91.8" font-size="7.6" text-anchor="middle" fill="#484848" stroke="#484848" textLength="25.8" lengthAdjust="spacingAndGlyphs">Time (s)</text>
<text x="190.2" y="40" font-size="7" text-anchor="middle" fill="#484848" stroke="#484848" textLength="63.5" lengthAdjust="spacingAndGlyphs" transform="rotate(-90 190.2 40)">PA amplitude (mV)</text>
<g clip-path="url(#c2)"><polyline points="203.27,70.92 204.11,71.45 205.32,72.86 206.27,73.11 207.27,74.57 208.23,73.09 209.18,71.61 210.35,71.01 211.22,69.31 212.21,68.85 213.35,71.19 214.31,73.16 215.15,74.32 216.31,75.5 217.17,75.5 218.41,74 219.44,72.34 220.3,69.27 221.44,68.57 222.13,67.79 223.3,65.47 224.13,63.22 225.27,59.82 226.14,55.89 227.15,50.26 228.34,45.01 229.19,43.87 230.14,43.17 231.19,43.42 232.24,44.84 233.29,45.72 234.18,45.84 235.36,45.51 236.29,47.5 237.3,50.85 238.25,56.22 239.42,62.27 240.33,65.73 241.16,67.4 242.38,69.35 243.49,69.22 244.3,70.55 245.46,70.13 246.24,70.87 247.33,72.14 248.27,71.93 249.27,71.01 250.41,69.21 251.31,66.11 252.48,62.21 253.32,59.27 254.13,56.28 255.25,54.79 256.44,52.7 257.26,50.16 258.11,48.58 259.2,45.05 260.13,43.59 261.5,41.41 262.49,41.81 263.42,44.12 264.34,46.83 265.41,49.22 266.17,51.52 267.22,53.87 268.31,55.37 269.24,57.77 270.12,61.06 271.49,63.56 272.28,65.18 273.3,67.8 274.23,68.14 275.2,69.02 276.25,67.98 277.43,67.64 278.39,67.45 279.25,67.36 280.11,67.38 281.42,65.8 282.21,64.2 283.33,61.33 284.11,58.88 285.36,53.33 286.26,52.67 287.3,49.33 288.27,48.96 289.24,47.43 290.32,45.92 291.49,45.33 292.15,44.48 293.23,43.91 294.12,44.56 295.4,45.95 296.36,48.67 297.19,50.84 298.27,52.89 299.36,55.06 300.36,57.29 301.17,58.46 302.45,60.69 303.41,61.2 304.15,63.87 305.45,66.83 306.4,67.95 307.42,68.3 308.32,68.08 309.19,65.76 310.47,63.66 311.34,61.75 312.24,60.55 313.21,59.36 314.47,57.11 315.27,56.07 316.32,53.54 317.34,51.35 318.43,48.14 319.35,46.36 320.17,46 321.34,45.88 322.3,46.78 323.32,47.22 324.38,47.14 325.2,47.25 326.17,46.83 327.14,47.07 328.21,48.45 329.1,51.57 330.35,53.49 331.22,55.09 332.17,57.75 333.14,58.76 334.21,59.48 335.19,60.11 336.21,60.3 337.29,62.2 338.32,65.12 339.44,66.39 340.5,65.82 341.12,66.69 342.19,64.32 343.36,63.48 344.16,63.61 345.45,63.55 346.19,64.6 347.4,65.86 348.36,66.1 349.42,66.24 350.11,65.49 351.19,63.56 352.38,62.9 353.14,63.26 354.11,63.7 355.24,64.46 356.34,65.82 357.12,66.11 358.13,64.93 359.12,64.54 360.26,62.3 361.37,61.88 362.18,63.11 363.45,63.65 364.27,64.35" fill="none" stroke="#9dd6ea" stroke-width="0.35" opacity="0.7"/><g fill="#12a2c6"><circle cx="203.27" cy="70.92" r="1.3"/><circle cx="204.11" cy="71.45" r="1.3"/><circle cx="205.32" cy="72.86" r="1.3"/><circle cx="206.27" cy="73.11" r="1.3"/><circle cx="207.27" cy="74.57" r="1.3"/><circle cx="208.23" cy="73.09" r="1.3"/><circle cx="209.18" cy="71.61" r="1.3"/><circle cx="210.35" cy="71.01" r="1.3"/><circle cx="211.22" cy="69.31" r="1.3"/><circle cx="212.21" cy="68.85" r="1.3"/><circle cx="213.35" cy="71.19" r="1.3"/><circle cx="214.31" cy="73.16" r="1.3"/><circle cx="215.15" cy="74.32" r="1.3"/><circle cx="216.31" cy="75.5" r="1.3"/><circle cx="217.17" cy="75.5" r="1.3"/><circle cx="218.41" cy="74" r="1.3"/><circle cx="219.44" cy="72.34" r="1.3"/><circle cx="220.3" cy="69.27" r="1.3"/><circle cx="221.44" cy="68.57" r="1.3"/><circle cx="222.13" cy="67.79" r="1.3"/><circle cx="223.3" cy="65.47" r="1.3"/><circle cx="224.13" cy="63.22" r="1.3"/><circle cx="225.27" cy="59.82" r="1.3"/><circle cx="226.14" cy="55.89" r="1.3"/><circle cx="227.15" cy="50.26" r="1.3"/><circle cx="228.34" cy="45.01" r="1.3"/><circle cx="229.19" cy="43.87" r="1.3"/><circle cx="230.14" cy="43.17" r="1.3"/><circle cx="231.19" cy="43.42" r="1.3"/><circle cx="232.24" cy="44.84" r="1.3"/><circle cx="233.29" cy="45.72" r="1.3"/><circle cx="234.18" cy="45.84" r="1.3"/><circle cx="235.36" cy="45.51" r="1.3"/><circle cx="236.29" cy="47.5" r="1.3"/><circle cx="237.3" cy="50.85" r="1.3"/><circle cx="238.25" cy="56.22" r="1.3"/><circle cx="239.42" cy="62.27" r="1.3"/><circle cx="240.33" cy="65.73" r="1.3"/><circle cx="241.16" cy="67.4" r="1.3"/><circle cx="242.38" cy="69.35" r="1.3"/><circle cx="243.49" cy="69.22" r="1.3"/><circle cx="244.3" cy="70.55" r="1.3"/><circle cx="245.46" cy="70.13" r="1.3"/><circle cx="246.24" cy="70.87" r="1.3"/><circle cx="247.33" cy="72.14" r="1.3"/><circle cx="248.27" cy="71.93" r="1.3"/><circle cx="249.27" cy="71.01" r="1.3"/><circle cx="250.41" cy="69.21" r="1.3"/><circle cx="251.31" cy="66.11" r="1.3"/><circle cx="252.48" cy="62.21" r="1.3"/><circle cx="253.32" cy="59.27" r="1.3"/><circle cx="254.13" cy="56.28" r="1.3"/><circle cx="255.25" cy="54.79" r="1.3"/><circle cx="256.44" cy="52.7" r="1.3"/><circle cx="257.26" cy="50.16" r="1.3"/><circle cx="258.11" cy="48.58" r="1.3"/><circle cx="259.2" cy="45.05" r="1.3"/><circle cx="260.13" cy="43.59" r="1.3"/><circle cx="261.5" cy="41.41" r="1.3"/><circle cx="262.49" cy="41.81" r="1.3"/><circle cx="263.42" cy="44.12" r="1.3"/><circle cx="264.34" cy="46.83" r="1.3"/><circle cx="265.41" cy="49.22" r="1.3"/><circle cx="266.17" cy="51.52" r="1.3"/><circle cx="267.22" cy="53.87" r="1.3"/><circle cx="268.31" cy="55.37" r="1.3"/><circle cx="269.24" cy="57.77" r="1.3"/><circle cx="270.12" cy="61.06" r="1.3"/><circle cx="271.49" cy="63.56" r="1.3"/><circle cx="272.28" cy="65.18" r="1.3"/><circle cx="273.3" cy="67.8" r="1.3"/><circle cx="274.23" cy="68.14" r="1.3"/><circle cx="275.2" cy="69.02" r="1.3"/><circle cx="276.25" cy="67.98" r="1.3"/><circle cx="277.43" cy="67.64" r="1.3"/><circle cx="278.39" cy="67.45" r="1.3"/><circle cx="279.25" cy="67.36" r="1.3"/><circle cx="280.11" cy="67.38" r="1.3"/><circle cx="281.42" cy="65.8" r="1.3"/><circle cx="282.21" cy="64.2" r="1.3"/><circle cx="283.33" cy="61.33" r="1.3"/><circle cx="284.11" cy="58.88" r="1.3"/><circle cx="285.36" cy="53.33" r="1.3"/><circle cx="286.26" cy="52.67" r="1.3"/><circle cx="287.3" cy="49.33" r="1.3"/><circle cx="288.27" cy="48.96" r="1.3"/><circle cx="289.24" cy="47.43" r="1.3"/><circle cx="290.32" cy="45.92" r="1.3"/><circle cx="291.49" cy="45.33" r="1.3"/><circle cx="292.15" cy="44.48" r="1.3"/><circle cx="293.23" cy="43.91" r="1.3"/><circle cx="294.12" cy="44.56" r="1.3"/><circle cx="295.4" cy="45.95" r="1.3"/><circle cx="296.36" cy="48.67" r="1.3"/><circle cx="297.19" cy="50.84" r="1.3"/><circle cx="298.27" cy="52.89" r="1.3"/><circle cx="299.36" cy="55.06" r="1.3"/><circle cx="300.36" cy="57.29" r="1.3"/><circle cx="301.17" cy="58.46" r="1.3"/><circle cx="302.45" cy="60.69" r="1.3"/><circle cx="303.41" cy="61.2" r="1.3"/><circle cx="304.15" cy="63.87" r="1.3"/><circle cx="305.45" cy="66.83" r="1.3"/><circle cx="306.4" cy="67.95" r="1.3"/><circle cx="307.42" cy="68.3" r="1.3"/><circle cx="308.32" cy="68.08" r="1.3"/><circle cx="309.19" cy="65.76" r="1.3"/><circle cx="310.47" cy="63.66" r="1.3"/><circle cx="311.34" cy="61.75" r="1.3"/><circle cx="312.24" cy="60.55" r="1.3"/><circle cx="313.21" cy="59.36" r="1.3"/><circle cx="314.47" cy="57.11" r="1.3"/><circle cx="315.27" cy="56.07" r="1.3"/><circle cx="316.32" cy="53.54" r="1.3"/><circle cx="317.34" cy="51.35" r="1.3"/><circle cx="318.43" cy="48.14" r="1.3"/><circle cx="319.35" cy="46.36" r="1.3"/><circle cx="320.17" cy="46" r="1.3"/><circle cx="321.34" cy="45.88" r="1.3"/><circle cx="322.3" cy="46.78" r="1.3"/><circle cx="323.32" cy="47.22" r="1.3"/><circle cx="324.38" cy="47.14" r="1.3"/><circle cx="325.2" cy="47.25" r="1.3"/><circle cx="326.17" cy="46.83" r="1.3"/><circle cx="327.14" cy="47.07" r="1.3"/><circle cx="328.21" cy="48.45" r="1.3"/><circle cx="329.1" cy="51.57" r="1.3"/><circle cx="330.35" cy="53.49" r="1.3"/><circle cx="331.22" cy="55.09" r="1.3"/><circle cx="332.17" cy="57.75" r="1.3"/><circle cx="333.14" cy="58.76" r="1.3"/><circle cx="334.21" cy="59.48" r="1.3"/><circle cx="335.19" cy="60.11" r="1.3"/><circle cx="336.21" cy="60.3" r="1.3"/><circle cx="337.29" cy="62.2" r="1.3"/><circle cx="338.32" cy="65.12" r="1.3"/><circle cx="339.44" cy="66.39" r="1.3"/><circle cx="340.5" cy="65.82" r="1.3"/><circle cx="341.12" cy="66.69" r="1.3"/><circle cx="342.19" cy="64.32" r="1.3"/><circle cx="343.36" cy="63.48" r="1.3"/><circle cx="344.16" cy="63.61" r="1.3"/><circle cx="345.45" cy="63.55" r="1.3"/><circle cx="346.19" cy="64.6" r="1.3"/><circle cx="347.4" cy="65.86" r="1.3"/><circle cx="348.36" cy="66.1" r="1.3"/><circle cx="349.42" cy="66.24" r="1.3"/><circle cx="350.11" cy="65.49" r="1.3"/><circle cx="351.19" cy="63.56" r="1.3"/><circle cx="352.38" cy="62.9" r="1.3"/><circle cx="353.14" cy="63.26" r="1.3"/><circle cx="354.11" cy="63.7" r="1.3"/><circle cx="355.24" cy="64.46" r="1.3"/><circle cx="356.34" cy="65.82" r="1.3"/><circle cx="357.12" cy="66.11" r="1.3"/><circle cx="358.13" cy="64.93" r="1.3"/><circle cx="359.12" cy="64.54" r="1.3"/><circle cx="360.26" cy="62.3" r="1.3"/><circle cx="361.37" cy="61.88" r="1.3"/><circle cx="362.18" cy="63.11" r="1.3"/><circle cx="363.45" cy="63.65" r="1.3"/><circle cx="364.27" cy="64.35" r="1.3"/></g><polyline points="203.3,71.7 203.84,72.09 204.38,72.38 204.92,72.57 205.46,72.7 206,72.77 206.53,72.8 207.07,72.77 207.61,72.54 208.15,72.18 208.69,71.76 209.23,71.36 209.77,71.04 210.31,70.69 210.85,70.36 211.39,70.14 211.93,70.14 212.47,70.48 213,71.04 213.54,71.62 214.08,72.05 214.62,72.43 215.16,72.79 215.7,73.1 216.24,73.28 216.78,73.27 217.32,73.02 217.86,72.6 218.4,72.05 218.93,71.42 219.47,70.78 220.01,70.16 220.55,69.5 221.09,68.77 221.63,67.96 222.17,67.07 222.71,66.08 223.25,64.96 223.79,63.59 224.33,62.01 224.87,60.28 225.4,58.47 225.94,56.65 226.48,54.78 227.02,52.47 227.56,50.1 228.1,48.13 228.64,47.05 229.18,46.73 229.72,46.49 230.26,46.31 230.8,46.21 231.33,46.21 231.87,46.25 232.41,46.35 232.95,46.49 233.49,46.67 234.03,46.88 234.57,47.17 235.11,47.8 235.65,48.71 236.19,49.83 236.73,51.06 237.27,52.78 237.8,55.07 238.34,57.51 238.88,59.7 239.42,61.3 239.96,62.71 240.5,64.02 241.04,65.2 241.58,66.18 242.12,66.92 242.66,67.41 243.2,67.84 243.73,68.24 244.27,68.59 244.81,68.91 245.35,69.17 245.89,69.38 246.43,69.52 246.97,69.59 247.51,69.57 248.05,69.36 248.59,69 249.13,68.55 249.67,68.03 250.2,67.32 250.74,66.24 251.28,64.92 251.82,63.47 252.36,62.03 252.9,60.7 253.44,59.46 253.98,58.2 254.52,56.95 255.06,55.71 255.6,54.49 256.13,53.33 256.67,52.16 257.21,51.01 257.75,49.91 258.29,48.94 258.83,48.07 259.37,47.17 259.91,46.31 260.45,45.58 260.99,45.08 261.53,44.9 262.07,45.1 262.6,45.59 263.14,46.27 263.68,47.05 264.22,47.83 264.76,48.68 265.3,49.68 265.84,50.8 266.38,51.97 266.92,53.16 267.46,54.32 268,55.53 268.53,56.82 269.07,58.13 269.61,59.38 270.15,60.52 270.69,61.49 271.23,62.36 271.77,63.25 272.31,64.11 272.85,64.89 273.39,65.54 273.93,66.02 274.47,66.27 275,66.3 275.54,66.3 276.08,66.3 276.62,66.3 277.16,66.3 277.7,66.3 278.24,66.3 278.78,66.3 279.32,66.13 279.86,65.73 280.4,65.16 280.93,64.46 281.47,63.68 282.01,62.87 282.55,62.07 283.09,61.08 283.63,59.88 284.17,58.55 284.71,57.15 285.25,55.76 285.79,54.46 286.33,53.32 286.87,52.4 287.4,51.58 287.94,50.75 288.48,49.92 289.02,49.13 289.56,48.4 290.1,47.73 290.64,47.16 291.18,46.71 291.72,46.38 292.26,46.22 292.8,46.23 293.33,46.42 293.87,46.78 294.41,47.28 294.95,47.89 295.49,48.59 296.03,49.35 296.57,50.16 297.11,50.98 297.65,51.8 298.19,52.58 298.73,53.42 299.27,54.39 299.8,55.46 300.34,56.58 300.88,57.72 301.42,58.82 301.96,59.86 302.5,60.78 303.04,61.55 303.58,62.27 304.12,63.01 304.66,63.72 305.2,64.37 305.73,64.9 306.27,65.29 306.81,65.49 307.35,65.46 307.89,65.27 308.43,64.95 308.97,64.51 309.51,64 310.05,63.44 310.59,62.85 311.13,62.27 311.67,61.6 312.2,60.78 312.74,59.85 313.28,58.85 313.82,57.81 314.36,56.77 314.9,55.78 315.44,54.88 315.98,54.09 316.52,53.33 317.06,52.52 317.6,51.7 318.13,50.9 318.67,50.14 319.21,49.44 319.75,48.83 320.29,48.34 320.83,48 321.37,47.82 321.91,47.8 322.45,47.8 322.99,47.8 323.53,47.8 324.07,47.8 324.6,47.8 325.14,47.8 325.68,47.8 326.22,47.99 326.76,48.43 327.3,49.06 327.84,49.85 328.38,50.73 328.92,51.66 329.46,52.59 330,53.47 330.53,54.25 331.07,54.99 331.61,55.76 332.15,56.56 332.69,57.35 333.23,58.13 333.77,58.88 334.31,59.59 334.85,60.22 335.39,60.79 335.93,61.33 336.47,61.87 337,62.38 337.54,62.86 338.08,63.28 338.62,63.61 339.16,63.84 339.7,63.96 340.24,64.07 340.78,64.16 341.32,64.26 341.86,64.34 342.4,64.41 342.93,64.48 343.47,64.54 344.01,64.59 344.55,64.63 345.09,64.66 345.63,64.68 346.17,64.7 346.71,64.7 347.25,64.7 347.79,64.69 348.33,64.68 348.87,64.67 349.4,64.65 349.94,64.63 350.48,64.61 351.02,64.58 351.56,64.56 352.1,64.54 352.64,64.51 353.18,64.48 353.72,64.46 354.26,64.43 354.8,64.41 355.33,64.39 355.87,64.36 356.41,64.34 356.95,64.31 357.49,64.29 358.03,64.26 358.57,64.23 359.11,64.21 359.65,64.18 360.19,64.15 360.73,64.12 361.27,64.09 361.8,64.06 362.34,64.03 362.88,64 363.42,63.97 363.96,63.93 364.5,63.9" fill="none" stroke="#dc5a22" stroke-width="1.3" stroke-linejoin="round"/></g>
<rect x="203.3" y="4.6" width="161.2" height="71.4" fill="none" stroke="#adadad" stroke-width="0.7"/>
<circle cx="308.2" cy="11.4" r="1.2" fill="#12a2c6"/>
<path d="M306.2 19.8H310.8" stroke="#dc5a22" stroke-width="1.3"/>
<text x="311" y="13" font-size="7.6" text-anchor="start" fill="#484848" stroke="#484848" textLength="30.4" lengthAdjust="spacingAndGlyphs">Raw data</text>
<text x="311" y="22.2" font-size="7.6" text-anchor="start" fill="#484848" stroke="#484848" textLength="52" lengthAdjust="spacingAndGlyphs">Smoothed signal</text>
<text x="251.6" y="24.2" font-size="8.6" fill="#484848" stroke="#484848" textLength="48" lengthAdjust="spacingAndGlyphs">(b)10mA/cm²</text>
<rect x="215" y="7.5" width="36.4" height="25.7" fill="#fff"/>
<clipPath id="ic2"><rect x="215" y="7.5" width="36.4" height="25.7"/></clipPath>
<text x="214.9" y="38.5" font-size="3.96" text-anchor="middle" fill="#6a6a6a" stroke="#6a6a6a" textLength="1.8" lengthAdjust="spacingAndGlyphs">0</text>
<text x="228.8" y="38.5" font-size="3.96" text-anchor="middle" fill="#6a6a6a" stroke="#6a6a6a" textLength="5.4" lengthAdjust="spacingAndGlyphs">100</text>
<text x="242.4" y="38.5" font-size="3.96" text-anchor="middle" fill="#6a6a6a" stroke="#6a6a6a" textLength="5.4" lengthAdjust="spacingAndGlyphs">200</text>
<text x="213.8" y="9.81" font-size="3.56" text-anchor="end" fill="#6a6a6a" stroke="#6a6a6a" textLength="4.05" lengthAdjust="spacingAndGlyphs">2.5</text>
<text x="213.8" y="20.91" font-size="3.56" text-anchor="end" fill="#6a6a6a" stroke="#6a6a6a" textLength="1.62" lengthAdjust="spacingAndGlyphs">2</text>
<text x="213.8" y="32.41" font-size="3.56" text-anchor="end" fill="#6a6a6a" stroke="#6a6a6a" textLength="4.05" lengthAdjust="spacingAndGlyphs">1.5</text>
<path d="M214.9 33.2v-1M214.9 7.5v1M228.8 33.2v-1M228.8 7.5v1M242.4 33.2v-1M242.4 7.5v1M215 8.5h1M251.4 8.5h-1M215 19.6h1M251.4 19.6h-1M215 31.1h1M251.4 31.1h-1" stroke="#b0b0b0" stroke-width="0.4" fill="none"/>
<text x="233.2" y="42.4" font-size="4.2" text-anchor="middle" fill="#6a6a6a" stroke="#6a6a6a" textLength="13.4" lengthAdjust="spacingAndGlyphs">Time (s)</text>
<text x="207.1" y="23.35" font-size="3.6" text-anchor="middle" fill="#8a8a8a" stroke="#8a8a8a" textLength="30" lengthAdjust="spacingAndGlyphs" transform="rotate(-90 207.1 23.35)">PA amplitude (mV)</text>
<g clip-path="url(#ic2)"><path d="M216.5 22V33.2" stroke="#eaa898" stroke-width="0.6"/><polyline points="215,22 215.3,21.98 215.6,21.96 215.9,21.94 216.2,21.92 216.5,21.9 216.8,21.88 217.1,21.86 217.4,21.84 217.7,21.82 218,21.79 218.3,21.77 218.6,21.75 218.9,21.73 219.2,21.71 219.5,21.69 219.8,21.67 220.1,21.65 220.4,21.63 220.7,21.61 221,21.59 221.3,21.57 221.6,21.55 221.9,21.53 222.2,21.51 222.5,21.49 222.8,21.47 223.1,21.45 223.4,21.43 223.7,21.4 224,21.38 224.3,21.36 224.6,21.34 224.9,21.32 225.2,21.3 225.5,21.28 225.8,21.26 226.1,21.24 226.4,21.22 226.7,21.2 227,21.18 227.3,21.16 227.6,21.14 227.9,21.12 228.2,21.1 228.5,21.08 228.8,21.06 229.1,21.03 229.4,21.01 229.7,20.99 230,20.97 230.3,20.95 230.6,20.93 230.9,20.91 231.2,20.89 231.5,20.87 231.8,20.85 232.1,20.83 232.4,20.81 232.7,20.79 233,20.77 233.3,20.75 233.6,20.73 233.9,20.71 234.2,20.69 234.5,20.67 234.8,20.64 235.1,20.62 235.4,20.6 235.7,20.58 236,20.56 236.3,20.54 236.6,20.52 236.9,20.5 237.2,20.48 237.5,20.46 237.8,20.44 238.1,20.42 238.4,20.4 238.7,20.38 239,20.36 239.3,20.34 239.6,20.32 239.9,20.3 240.2,20.28 240.5,20.25 240.8,20.23 241.1,20.21" fill="none" stroke="#a6d2f0" stroke-width="2.32" stroke-linejoin="round"/><polyline points="215,22 215.3,21.98 215.6,21.96 215.9,21.94 216.2,21.92 216.5,21.9 216.8,21.88 217.1,21.86 217.4,21.84 217.7,21.82 218,21.79 218.3,21.77 218.6,21.75 218.9,21.73 219.2,21.71 219.5,21.69 219.8,21.67 220.1,21.65 220.4,21.63 220.7,21.61 221,21.59 221.3,21.57 221.6,21.55 221.9,21.53 222.2,21.51 222.5,21.49 222.8,21.47 223.1,21.45 223.4,21.43 223.7,21.4 224,21.38 224.3,21.36 224.6,21.34 224.9,21.32 225.2,21.3 225.5,21.28 225.8,21.26 226.1,21.24 226.4,21.22 226.7,21.2 227,21.18 227.3,21.16 227.6,21.14 227.9,21.12 228.2,21.1 228.5,21.08 228.8,21.06 229.1,21.03 229.4,21.01 229.7,20.99 230,20.97 230.3,20.95 230.6,20.93 230.9,20.91 231.2,20.89 231.5,20.87 231.8,20.85 232.1,20.83 232.4,20.81 232.7,20.79 233,20.77 233.3,20.75 233.6,20.73 233.9,20.71 234.2,20.69 234.5,20.67 234.8,20.64 235.1,20.62 235.4,20.6 235.7,20.58 236,20.56 236.3,20.54 236.6,20.52 236.9,20.5 237.2,20.48 237.5,20.46 237.8,20.44 238.1,20.42 238.4,20.4 238.7,20.38 239,20.36 239.3,20.34 239.6,20.32 239.9,20.3 240.2,20.28 240.5,20.25 240.8,20.23 241.1,20.21" fill="none" stroke="#5a9ad6" stroke-width="1.28" stroke-linejoin="round"/><polyline points="215,22.4 215.3,22.38 215.6,22.36 215.9,22.34 216.2,22.32 216.5,22.3 216.8,22.28 217.1,22.26 217.4,22.24 217.7,22.22 218,22.19 218.3,22.17 218.6,22.15 218.9,22.13 219.2,22.11 219.5,22.09 219.8,22.07 220.1,22.05 220.4,22.03 220.7,22.01 221,21.99 221.3,21.97 221.6,21.95 221.9,21.93 222.2,21.91 222.5,21.89 222.8,21.87 223.1,21.85 223.4,21.83 223.7,21.8 224,21.78 224.3,21.76 224.6,21.74 224.9,21.72 225.2,21.7 225.5,21.68 225.8,21.66 226.1,21.64 226.4,21.62 226.7,21.6 227,21.58 227.3,21.56 227.6,21.54 227.9,21.52 228.2,21.5 228.5,21.48 228.8,21.46 229.1,21.43 229.4,21.41 229.7,21.39 230,21.37 230.3,21.35 230.6,21.33 230.9,21.31 231.2,21.29 231.5,21.27 231.8,21.25 232.1,21.23 232.4,21.21 232.7,21.19 233,21.17 233.3,21.15 233.6,21.13 233.9,21.11 234.2,21.09 234.5,21.07 234.8,21.04 235.1,21.02 235.4,21 235.7,20.98 236,20.96 236.3,20.94 236.6,20.92 236.9,20.9 237.2,20.88 237.5,20.86 237.8,20.84 238.1,20.82 238.4,20.8 238.7,20.78 239,20.76 239.3,20.74 239.6,20.72 239.9,20.7 240.2,20.68 240.5,20.65 240.8,20.63 241.1,20.61" fill="none" stroke="#4d6688" stroke-width="0.3" opacity="0.5"/><polyline points="215,21.9 215.3,21.88 215.6,21.86 215.9,21.84 216.2,21.82 216.5,21.8 216.8,21.78 217.1,21.76 217.4,21.74 217.7,21.72 218,21.69 218.3,21.67 218.6,21.65 218.9,21.63 219.2,21.61 219.5,21.59 219.8,21.57 220.1,21.55 220.4,21.53 220.7,21.51 221,21.49 221.3,21.47 221.6,21.45 221.9,21.43 222.2,21.41 222.5,21.39 222.8,21.37 223.1,21.35 223.4,21.33 223.7,21.3 224,21.28 224.3,21.26 224.6,21.24 224.9,21.22 225.2,21.2 225.5,21.18 225.8,21.16 226.1,21.14 226.4,21.12 226.7,21.1 227,21.08 227.3,21.06 227.6,21.04 227.9,21.02 228.2,21 228.5,20.98 228.8,20.96 229.1,20.93 229.4,20.91 229.7,20.89 230,20.87 230.3,20.85 230.6,20.83 230.9,20.81 231.2,20.79 231.5,20.77 231.8,20.75 232.1,20.73 232.4,20.71 232.7,20.69 233,20.67 233.3,20.65 233.6,20.63 233.9,20.61 234.2,20.59 234.5,20.57 234.8,20.54 235.1,20.52 235.4,20.5 235.7,20.48 236,20.46 236.3,20.44 236.6,20.42 236.9,20.4 237.2,20.38 237.5,20.36 237.8,20.34 238.1,20.32 238.4,20.3 238.7,20.28 239,20.26 239.3,20.24 239.6,20.22 239.9,20.2 240.2,20.18 240.5,20.15 240.8,20.13 241.1,20.11" fill="none" stroke="#d46a42" stroke-width="0.7" opacity="0.9"/><polygon points="241.68,20.5 241.68,12.2 242.9,12.2 242.9,20.5" fill="#e69c8c" opacity="0.75"/><polygon points="241.68,20.5 241.68,17.18 242.9,17.18 242.9,20.5" fill="#9a6a78" opacity="0.54"/><path d="M242.1 12.2V20.5" stroke="#d9705e" stroke-width="0.45"/><path d="M242.29 12.1V13.1" stroke="#4aa6dc" stroke-width="0.9"/><polygon points="243.65,20.5 243.65,12.2 244.87,12.2 244.87,20.5" fill="#e69c8c" opacity="0.75"/><polygon points="243.65,20.5 243.65,17.18 244.87,17.18 244.87,20.5" fill="#9a6a78" opacity="0.54"/><path d="M244.08 12.2V20.5" stroke="#d9705e" stroke-width="0.45"/><path d="M244.26 12.1V13.1" stroke="#4aa6dc" stroke-width="0.9"/><polygon points="245.63,20.5 245.63,12.2 246.85,12.2 246.85,20.5" fill="#e69c8c" opacity="0.75"/><polygon points="245.63,20.5 245.63,17.18 246.85,17.18 246.85,20.5" fill="#9a6a78" opacity="0.54"/><path d="M246.05 12.2V20.5" stroke="#d9705e" stroke-width="0.45"/><path d="M246.24 12.1V13.1" stroke="#4aa6dc" stroke-width="0.9"/><polygon points="247.6,20.5 247.6,12.2 248.82,12.2 248.82,20.5" fill="#e69c8c" opacity="0.75"/><polygon points="247.6,20.5 247.6,17.18 248.82,17.18 248.82,20.5" fill="#9a6a78" opacity="0.54"/><path d="M248.03 12.2V20.5" stroke="#d9705e" stroke-width="0.45"/><path d="M248.21 12.1V13.1" stroke="#4aa6dc" stroke-width="0.9"/><polyline points="248.9,17.6 249.2,17.6 249.5,17.6 249.8,17.6 250.1,17.6 250.4,17.6 250.7,17.6 251,17.6 251.3,17.6" fill="none" stroke="#a6d2f0" stroke-width="2.32" stroke-linejoin="round"/><polyline points="248.9,17.6 249.2,17.6 249.5,17.6 249.8,17.6 250.1,17.6 250.4,17.6 250.7,17.6 251,17.6 251.3,17.6" fill="none" stroke="#5a9ad6" stroke-width="1.28" stroke-linejoin="round"/><polyline points="248.9,18 249.2,18 249.5,18 249.8,18 250.1,18 250.4,18 250.7,18 251,18 251.3,18" fill="none" stroke="#4d6688" stroke-width="0.3" opacity="0.5"/><polyline points="248.9,17.5 249.2,17.5 249.5,17.5 249.8,17.5 250.1,17.5 250.4,17.5 250.7,17.5 251,17.5 251.3,17.5" fill="none" stroke="#d46a42" stroke-width="0.7" opacity="0.9"/></g>
<rect x="215" y="7.5" width="36.4" height="25.7" fill="none" stroke="#a8a8a8" stroke-width="0.5"/>
<clipPath id="c3"><rect x="385.1" y="4.3" width="160.7" height="72.2"/></clipPath>
<path d="M385.1 76v-1.6M385.1 4.8v1.6M414.32 76v-1.6M414.32 4.8v1.6M443.54 76v-1.6M443.54 4.8v1.6M472.76 76v-1.6M472.76 4.8v1.6M501.98 76v-1.6M501.98 4.8v1.6M531.2 76v-1.6M531.2 4.8v1.6M385.1 62h1.6M545.8 62h-1.6M385.1 42.7h1.6M545.8 42.7h-1.6M385.1 23.4h1.6M545.8 23.4h-1.6" stroke="#adadad" stroke-width="0.6" fill="none"/>
<text x="385.1" y="84.7" font-size="7.52" text-anchor="middle" fill="#484848" stroke="#484848" textLength="9.21" lengthAdjust="spacingAndGlyphs">200</text>
<text x="414.32" y="84.7" font-size="7.52" text-anchor="middle" fill="#484848" stroke="#484848" textLength="9.21" lengthAdjust="spacingAndGlyphs">210</text>
<text x="443.54" y="84.7" font-size="7.52" text-anchor="middle" fill="#484848" stroke="#484848" textLength="9.21" lengthAdjust="spacingAndGlyphs">220</text>
<text x="472.76" y="84.7" font-size="7.52" text-anchor="middle" fill="#484848" stroke="#484848" textLength="9.21" lengthAdjust="spacingAndGlyphs">230</text>
<text x="501.98" y="84.7" font-size="7.52" text-anchor="middle" fill="#484848" stroke="#484848" textLength="9.21" lengthAdjust="spacingAndGlyphs">240</text>
<text x="531.2" y="84.7" font-size="7.52" text-anchor="middle" fill="#484848" stroke="#484848" textLength="9.21" lengthAdjust="spacingAndGlyphs">250</text>
<text x="383.8" y="64.56" font-size="7.52" text-anchor="end" fill="#484848" stroke="#484848" textLength="7.67" lengthAdjust="spacingAndGlyphs">2.2</text>
<text x="383.8" y="45.26" font-size="7.52" text-anchor="end" fill="#484848" stroke="#484848" textLength="7.67" lengthAdjust="spacingAndGlyphs">2.4</text>
<text x="383.8" y="25.96" font-size="7.52" text-anchor="end" fill="#484848" stroke="#484848" textLength="7.67" lengthAdjust="spacingAndGlyphs">2.6</text>
<text x="465.8" y="91.8" font-size="7.6" text-anchor="middle" fill="#484848" stroke="#484848" textLength="25.6" lengthAdjust="spacingAndGlyphs">Time (s)</text>
<text x="373.2" y="41" font-size="7" text-anchor="middle" fill="#484848" stroke="#484848" textLength="63.2" lengthAdjust="spacingAndGlyphs" transform="rotate(-90 373.2 41)">PA amplitude (mV)</text>
<g clip-path="url(#c3)"><polyline points="385.13,71.73 386.51,71.87 387.59,69.93 389.01,68.76 390.5,61.95 391.81,60.33 392.71,58.47 394.05,58.18 395.27,61.3 396.77,61.92 397.86,59.1 399.38,53.39 400.78,44.09 401.88,37.02 403.39,33.8 404.65,37.56 405.65,39.55 407.23,46.62 408.37,52.09 409.76,52.3 410.99,51.87 412.5,52.44 413.67,53.17 414.82,56.05 416.32,62.65 417.75,69.37 418.8,70.88 420.06,71.46 421.44,67.46 423.03,64.12 424.35,59.37 425.49,55.71 426.91,54.15 428.18,52.44 429.24,49.79 430.39,49.27 431.98,43.58 433.23,40.98 434.43,37.64 435.66,36.95 437.05,37.57 438.38,41.2 439.58,44.67 440.89,49.96 442.28,51.98 443.79,55.3 444.94,56.44 446.09,57.39 447.38,64.45 448.78,65.54 449.95,67.12 451.24,71.84 452.71,69.64 453.79,69.77 455.29,67.6 456.53,63.79 458.01,60.96 459.33,58.4 460.6,56.17 461.9,52.14 463.03,50.41 464.49,48.27 465.62,46.13 467.04,42.43 468.21,41.86 469.57,39.62 470.67,38.42 472.07,40.11 473.75,40.81 474.66,43.24 476.2,46.53 477.48,52.25 478.82,55.99 479.99,57.25 481.35,59.91 482.37,60.74 483.68,64.83 485.04,68.06 486.32,69.6 487.59,67.91 488.91,68.05 490.43,63.5 491.54,58.76 493.24,53.71 494.39,52.17 495.62,50.9 497.01,48.54 498.08,47.22 499.72,43.91 500.98,41.47 502.22,38.94 503.39,36.72 504.88,37.81 506.13,39.41 507.38,42.24 508.82,47.44 509.97,47.59 511.13,51.81 512.53,51.34 513.64,52.98 514.94,55.73 516.52,58.6 517.85,62.93 519.25,66.5 520.48,68.77 521.62,69.71 522.69,68.42 524.19,68.39 525.72,65.65 526.95,67.91 528.09,65.41 529.38,69.77 530.55,71.52 531.83,70.98 533.08,71.11 534.8,68.01 535.97,65.75 537.01,66.01 538.46,69.22 539.57,68.57 540.95,70.61 542.52,70.66 543.78,70.16 544.99,67.04" fill="none" stroke="#9dd6ea" stroke-width="0.35" opacity="0.7"/><g fill="#12a2c6"><circle cx="385.13" cy="71.73" r="1.3"/><circle cx="386.51" cy="71.87" r="1.3"/><circle cx="387.59" cy="69.93" r="1.3"/><circle cx="389.01" cy="68.76" r="1.3"/><circle cx="390.5" cy="61.95" r="1.3"/><circle cx="391.81" cy="60.33" r="1.3"/><circle cx="392.71" cy="58.47" r="1.3"/><circle cx="394.05" cy="58.18" r="1.3"/><circle cx="395.27" cy="61.3" r="1.3"/><circle cx="396.77" cy="61.92" r="1.3"/><circle cx="397.86" cy="59.1" r="1.3"/><circle cx="399.38" cy="53.39" r="1.3"/><circle cx="400.78" cy="44.09" r="1.3"/><circle cx="401.88" cy="37.02" r="1.3"/><circle cx="403.39" cy="33.8" r="1.3"/><circle cx="404.65" cy="37.56" r="1.3"/><circle cx="405.65" cy="39.55" r="1.3"/><circle cx="407.23" cy="46.62" r="1.3"/><circle cx="408.37" cy="52.09" r="1.3"/><circle cx="409.76" cy="52.3" r="1.3"/><circle cx="410.99" cy="51.87" r="1.3"/><circle cx="412.5" cy="52.44" r="1.3"/><circle cx="413.67" cy="53.17" r="1.3"/><circle cx="414.82" cy="56.05" r="1.3"/><circle cx="416.32" cy="62.65" r="1.3"/><circle cx="417.75" cy="69.37" r="1.3"/><circle cx="418.8" cy="70.88" r="1.3"/><circle cx="420.06" cy="71.46" r="1.3"/><circle cx="421.44" cy="67.46" r="1.3"/><circle cx="423.03" cy="64.12" r="1.3"/><circle cx="424.35" cy="59.37" r="1.3"/><circle cx="425.49" cy="55.71" r="1.3"/><circle cx="426.91" cy="54.15" r="1.3"/><circle cx="428.18" cy="52.44" r="1.3"/><circle cx="429.24" cy="49.79" r="1.3"/><circle cx="430.39" cy="49.27" r="1.3"/><circle cx="431.98" cy="43.58" r="1.3"/><circle cx="433.23" cy="40.98" r="1.3"/><circle cx="434.43" cy="37.64" r="1.3"/><circle cx="435.66" cy="36.95" r="1.3"/><circle cx="437.05" cy="37.57" r="1.3"/><circle cx="438.38" cy="41.2" r="1.3"/><circle cx="439.58" cy="44.67" r="1.3"/><circle cx="440.89" cy="49.96" r="1.3"/><circle cx="442.28" cy="51.98" r="1.3"/><circle cx="443.79" cy="55.3" r="1.3"/><circle cx="444.94" cy="56.44" r="1.3"/><circle cx="446.09" cy="57.39" r="1.3"/><circle cx="447.38" cy="64.45" r="1.3"/><circle cx="448.78" cy="65.54" r="1.3"/><circle cx="449.95" cy="67.12" r="1.3"/><circle cx="451.24" cy="71.84" r="1.3"/><circle cx="452.71" cy="69.64" r="1.3"/><circle cx="453.79" cy="69.77" r="1.3"/><circle cx="455.29" cy="67.6" r="1.3"/><circle cx="456.53" cy="63.79" r="1.3"/><circle cx="458.01" cy="60.96" r="1.3"/><circle cx="459.33" cy="58.4" r="1.3"/><circle cx="460.6" cy="56.17" r="1.3"/><circle cx="461.9" cy="52.14" r="1.3"/><circle cx="463.03" cy="50.41" r="1.3"/><circle cx="464.49" cy="48.27" r="1.3"/><circle cx="465.62" cy="46.13" r="1.3"/><circle cx="467.04" cy="42.43" r="1.3"/><circle cx="468.21" cy="41.86" r="1.3"/><circle cx="469.57" cy="39.62" r="1.3"/><circle cx="470.67" cy="38.42" r="1.3"/><circle cx="472.07" cy="40.11" r="1.3"/><circle cx="473.75" cy="40.81" r="1.3"/><circle cx="474.66" cy="43.24" r="1.3"/><circle cx="476.2" cy="46.53" r="1.3"/><circle cx="477.48" cy="52.25" r="1.3"/><circle cx="478.82" cy="55.99" r="1.3"/><circle cx="479.99" cy="57.25" r="1.3"/><circle cx="481.35" cy="59.91" r="1.3"/><circle cx="482.37" cy="60.74" r="1.3"/><circle cx="483.68" cy="64.83" r="1.3"/><circle cx="485.04" cy="68.06" r="1.3"/><circle cx="486.32" cy="69.6" r="1.3"/><circle cx="487.59" cy="67.91" r="1.3"/><circle cx="488.91" cy="68.05" r="1.3"/><circle cx="490.43" cy="63.5" r="1.3"/><circle cx="491.54" cy="58.76" r="1.3"/><circle cx="493.24" cy="53.71" r="1.3"/><circle cx="494.39" cy="52.17" r="1.3"/><circle cx="495.62" cy="50.9" r="1.3"/><circle cx="497.01" cy="48.54" r="1.3"/><circle cx="498.08" cy="47.22" r="1.3"/><circle cx="499.72" cy="43.91" r="1.3"/><circle cx="500.98" cy="41.47" r="1.3"/><circle cx="502.22" cy="38.94" r="1.3"/><circle cx="503.39" cy="36.72" r="1.3"/><circle cx="504.88" cy="37.81" r="1.3"/><circle cx="506.13" cy="39.41" r="1.3"/><circle cx="507.38" cy="42.24" r="1.3"/><circle cx="508.82" cy="47.44" r="1.3"/><circle cx="509.97" cy="47.59" r="1.3"/><circle cx="511.13" cy="51.81" r="1.3"/><circle cx="512.53" cy="51.34" r="1.3"/><circle cx="513.64" cy="52.98" r="1.3"/><circle cx="514.94" cy="55.73" r="1.3"/><circle cx="516.52" cy="58.6" r="1.3"/><circle cx="517.85" cy="62.93" r="1.3"/><circle cx="519.25" cy="66.5" r="1.3"/><circle cx="520.48" cy="68.77" r="1.3"/><circle cx="521.62" cy="69.71" r="1.3"/><circle cx="522.69" cy="68.42" r="1.3"/><circle cx="524.19" cy="68.39" r="1.3"/><circle cx="525.72" cy="65.65" r="1.3"/><circle cx="526.95" cy="67.91" r="1.3"/><circle cx="528.09" cy="65.41" r="1.3"/><circle cx="529.38" cy="69.77" r="1.3"/><circle cx="530.55" cy="71.52" r="1.3"/><circle cx="531.83" cy="70.98" r="1.3"/><circle cx="533.08" cy="71.11" r="1.3"/><circle cx="534.8" cy="68.01" r="1.3"/><circle cx="535.97" cy="65.75" r="1.3"/><circle cx="537.01" cy="66.01" r="1.3"/><circle cx="538.46" cy="69.22" r="1.3"/><circle cx="539.57" cy="68.57" r="1.3"/><circle cx="540.95" cy="70.61" r="1.3"/><circle cx="542.52" cy="70.66" r="1.3"/><circle cx="543.78" cy="70.16" r="1.3"/><circle cx="544.99" cy="67.04" r="1.3"/></g><polyline points="385.1,68.79 385.64,68.69 386.17,68.51 386.71,68.27 387.25,67.98 387.79,67.64 388.32,67.18 388.86,66.29 389.4,65.16 389.94,64.03 390.47,63.13 391.01,62.45 391.55,61.81 392.09,61.25 392.62,60.84 393.16,60.6 393.7,60.46 394.24,60.36 394.77,60.27 395.31,60.16 395.85,60 396.39,59.69 396.92,58.92 397.46,57.75 398,56.33 398.54,54.78 399.07,53.22 399.61,51.65 400.15,49.62 400.69,47.29 401.22,44.92 401.76,42.77 402.3,41.09 402.84,40.13 403.37,40.04 403.91,40.35 404.45,40.91 404.99,41.63 405.52,42.46 406.06,43.45 406.6,45.17 407.14,47.24 407.67,49.11 408.21,50.21 408.75,50.68 409.29,51.02 409.82,51.27 410.36,51.48 410.9,51.69 411.44,51.95 411.97,52.31 412.51,52.85 413.05,53.84 413.59,55.22 414.12,56.8 414.66,58.44 415.2,59.96 415.74,61.27 416.27,62.71 416.81,64.17 417.35,65.4 417.88,66.16 418.42,66.28 418.96,66.07 419.5,65.68 420.03,65.16 420.57,64.58 421.11,64 421.65,63.38 422.18,62.63 422.72,61.77 423.26,60.85 423.8,59.9 424.33,58.95 424.87,58.03 425.41,57.18 425.95,56.38 426.48,55.6 427.02,54.82 427.56,54.01 428.1,53.13 428.63,52.16 429.17,51.02 429.71,49.76 430.25,48.47 430.78,47.2 431.32,46.03 431.86,45.01 432.4,43.96 432.93,42.88 433.47,41.89 434.01,41.09 434.55,40.6 435.08,40.52 435.62,40.84 436.16,41.43 436.7,42.22 437.23,43.11 437.77,44 438.31,44.81 438.85,45.67 439.38,46.6 439.92,47.57 440.46,48.54 441,49.51 441.53,50.42 442.07,51.28 442.61,52.1 443.15,52.91 443.68,53.73 444.22,54.58 444.76,55.5 445.3,56.49 445.83,57.66 446.37,59.08 446.91,60.6 447.45,62.12 447.98,63.48 448.52,64.57 449.06,65.44 449.59,66.28 450.13,66.98 450.67,67.42 451.21,67.48 451.74,67.29 452.28,66.92 452.82,66.42 453.36,65.84 453.89,65.21 454.43,64.59 454.97,64.03 455.51,63.53 456.04,63.05 456.58,62.58 457.12,62.1 457.66,61.58 458.19,61.01 458.73,60.38 459.27,59.66 459.81,58.74 460.34,57.64 460.88,56.42 461.42,55.13 461.96,53.81 462.49,52.54 463.03,51.35 463.57,50.22 464.11,48.98 464.64,47.69 465.18,46.44 465.72,45.31 466.26,44.38 466.79,43.74 467.33,43.46 467.87,43.31 468.41,43.18 468.94,43.08 469.48,43.02 470.02,43 470.56,43.08 471.09,43.26 471.63,43.5 472.17,43.73 472.71,43.93 473.24,44.13 473.78,44.35 474.32,44.62 474.86,44.96 475.39,45.39 475.93,46.3 476.47,47.72 477.01,49.46 477.54,51.3 478.08,53.04 478.62,54.49 479.16,55.88 479.69,57.28 480.23,58.63 480.77,59.84 481.31,60.84 481.84,61.54 482.38,62.1 482.92,62.63 483.45,63.1 483.99,63.52 484.53,63.85 485.07,64.08 485.6,64.19 486.14,64.18 486.68,64.08 487.22,63.9 487.75,63.66 488.29,63.35 488.83,63.01 489.37,62.63 489.9,62.21 490.44,61.59 490.98,60.7 491.52,59.62 492.05,58.41 492.59,57.14 493.13,55.87 493.67,54.68 494.2,53.58 494.74,52.4 495.28,51.18 495.82,49.96 496.35,48.79 496.89,47.73 497.43,46.83 497.97,46.12 498.5,45.52 499.04,44.92 499.58,44.34 500.12,43.79 500.65,43.27 501.19,42.79 501.73,42.37 502.27,42 502.8,41.71 503.34,41.48 503.88,41.35 504.42,41.3 504.95,41.39 505.49,41.64 506.03,42.01 506.57,42.49 507.1,43.04 507.64,43.63 508.18,44.25 508.72,44.9 509.25,45.76 509.79,46.78 510.33,47.93 510.87,49.13 511.4,50.34 511.94,51.5 512.48,52.56 513.02,53.54 513.55,54.52 514.09,55.49 514.63,56.45 515.16,57.38 515.7,58.28 516.24,59.14 516.78,59.96 517.31,60.72 517.85,61.46 518.39,62.21 518.93,62.95 519.46,63.66 520,64.34 520.54,64.95 521.08,65.49 521.61,65.93 522.15,66.28 522.69,66.54 523.23,66.8 523.76,67.05 524.3,67.28 524.84,67.5 525.38,67.69 525.91,67.87 526.45,68.02 526.99,68.14 527.53,68.23 528.06,68.28 528.6,68.3 529.14,68.3 529.68,68.3 530.21,68.3 530.75,68.3 531.29,68.3 531.83,68.3 532.36,68.3 532.9,68.3 533.44,68.3 533.98,68.3 534.51,68.3 535.05,68.3 535.59,68.3 536.13,68.3 536.66,68.3 537.2,68.3 537.74,68.3 538.28,68.3 538.81,68.3 539.35,68.3 539.89,68.3 540.43,68.3 540.96,68.3 541.5,68.3 542.04,68.3 542.58,68.3 543.11,68.3 543.65,68.3 544.19,68.3 544.73,68.3 545.26,68.3 545.8,68.3" fill="none" stroke="#dc5a22" stroke-width="1.3" stroke-linejoin="round"/></g>
<rect x="385.1" y="4.8" width="160.7" height="71.2" fill="none" stroke="#adadad" stroke-width="0.7"/>
<circle cx="489.4" cy="11" r="1.2" fill="#12a2c6"/>
<path d="M487.6 19.2H492.2" stroke="#dc5a22" stroke-width="1.3"/>
<text x="492.2" y="12.6" font-size="7.6" text-anchor="start" fill="#484848" stroke="#484848" textLength="30.2" lengthAdjust="spacingAndGlyphs">Raw data</text>
<text x="492.2" y="21.6" font-size="7.6" text-anchor="start" fill="#484848" stroke="#484848" textLength="51.8" lengthAdjust="spacingAndGlyphs">Smoothed signal</text>
<text x="434.6" y="23.1" font-size="8.6" fill="#484848" stroke="#484848" textLength="46.7" lengthAdjust="spacingAndGlyphs">(c)15mA/cm²</text>
<rect x="398.3" y="6.8" width="35.6" height="25.5" fill="#fff"/>
<clipPath id="ic3"><rect x="398.3" y="6.8" width="35.6" height="25.5"/></clipPath>
<text x="397.7" y="37.1" font-size="3.96" text-anchor="middle" fill="#6a6a6a" stroke="#6a6a6a" textLength="1.8" lengthAdjust="spacingAndGlyphs">0</text>
<text x="411.7" y="37.1" font-size="3.96" text-anchor="middle" fill="#6a6a6a" stroke="#6a6a6a" textLength="5.4" lengthAdjust="spacingAndGlyphs">100</text>
<text x="425.1" y="37.1" font-size="3.96" text-anchor="middle" fill="#6a6a6a" stroke="#6a6a6a" textLength="5.4" lengthAdjust="spacingAndGlyphs">200</text>
<text x="397.1" y="13.01" font-size="3.56" text-anchor="end" fill="#6a6a6a" stroke="#6a6a6a" textLength="4.05" lengthAdjust="spacingAndGlyphs">2.4</text>
<text x="397.1" y="18.11" font-size="3.56" text-anchor="end" fill="#6a6a6a" stroke="#6a6a6a" textLength="4.05" lengthAdjust="spacingAndGlyphs">2.2</text>
<text x="397.1" y="23.21" font-size="3.56" text-anchor="end" fill="#6a6a6a" stroke="#6a6a6a" textLength="1.62" lengthAdjust="spacingAndGlyphs">2</text>
<text x="397.1" y="28.61" font-size="3.56" text-anchor="end" fill="#6a6a6a" stroke="#6a6a6a" textLength="4.05" lengthAdjust="spacingAndGlyphs">1.8</text>
<text x="397.1" y="33.51" font-size="3.56" text-anchor="end" fill="#6a6a6a" stroke="#6a6a6a" textLength="4.05" lengthAdjust="spacingAndGlyphs">1.6</text>
<path d="M397.7 32.3v-1M397.7 6.8v1M411.7 32.3v-1M411.7 6.8v1M425.1 32.3v-1M425.1 6.8v1M398.3 11.7h1M433.9 11.7h-1M398.3 16.8h1M433.9 16.8h-1M398.3 21.9h1M433.9 21.9h-1M398.3 27.3h1M433.9 27.3h-1M398.3 32.2h1M433.9 32.2h-1" stroke="#b0b0b0" stroke-width="0.4" fill="none"/>
<text x="415.6" y="41.1" font-size="4.2" text-anchor="middle" fill="#6a6a6a" stroke="#6a6a6a" textLength="13.4" lengthAdjust="spacingAndGlyphs">Time (s)</text>
<text x="390.4" y="22.55" font-size="3.6" text-anchor="middle" fill="#8a8a8a" stroke="#8a8a8a" textLength="30" lengthAdjust="spacingAndGlyphs" transform="rotate(-90 390.4 22.55)">PA amplitude (mV)</text>
<g clip-path="url(#ic3)"><path d="M401 19.5V32.3" stroke="#eaa898" stroke-width="0.6"/><polyline points="398.3,19.1 398.6,19.1 398.9,19.1 399.2,19.1 399.5,19.1 399.8,19.1 400.1,19.1 400.4,19.1 400.7,19.1" fill="none" stroke="#a6d2f0" stroke-width="2.17" stroke-linejoin="round"/><polyline points="398.3,19.1 398.6,19.1 398.9,19.1 399.2,19.1 399.5,19.1 399.8,19.1 400.1,19.1 400.4,19.1 400.7,19.1" fill="none" stroke="#5a9ad6" stroke-width="1.2" stroke-linejoin="round"/><polyline points="398.3,19.5 398.6,19.5 398.9,19.5 399.2,19.5 399.5,19.5 399.8,19.5 400.1,19.5 400.4,19.5 400.7,19.5" fill="none" stroke="#4d6688" stroke-width="0.3" opacity="0.5"/><polyline points="398.3,19 398.6,19 398.9,19 399.2,19 399.5,19 399.8,19 400.1,19 400.4,19 400.7,19" fill="none" stroke="#d46a42" stroke-width="0.7" opacity="0.9"/><polyline points="401,21.14 401.3,21.22 401.6,21.16 401.9,20.5 402.2,20.93 402.5,21.06 402.8,20.67 403.1,20.5 403.4,20.43 403.7,20.61 404,20.4 404.3,20.44 404.6,20.18 404.9,20.43 405.2,20.14 405.5,19.91 405.8,20.39 406.1,20.03 406.4,20.05 406.7,20.09 407,19.99 407.3,20.02 407.6,20.07 407.9,20.23 408.2,20.06 408.5,19.85 408.8,19.58 409.1,19.72 409.4,19.7 409.7,19.95 410,19.48 410.3,19.09 410.6,19.34 410.9,19.31 411.2,18.92 411.5,19.23 411.8,19.21 412.1,19.27 412.4,19.08 412.7,19.21 413,18.87 413.3,19.06 413.6,19.1 413.9,18.87 414.2,18.7 414.5,18.69 414.8,18.99 415.1,19.04 415.4,18.79 415.7,18.98 416,18.6 416.3,18.71 416.6,18.48 416.9,18.65 417.2,18.5 417.5,18.27 417.8,18.28 418.1,18.63 418.4,18.34 418.7,17.88 419,18 419.3,18.01 419.6,17.91 419.9,18.06 420.2,17.73 420.5,17.86 420.8,17.84 421.1,17.98 421.4,17.48 421.7,17.66 422,17.29 422.3,17.71 422.6,17.61 422.9,17.5 423.2,17.55 423.5,17.04 423.8,17.42 424.1,17.17 424.4,17.57 424.7,17.25 425,17.5 425.3,17.45" fill="none" stroke="#a6d2f0" stroke-width="1.89" stroke-linejoin="round"/><polyline points="401,20.94 401.3,20.88 401.6,20.83 401.9,20.91 402.2,21 402.5,20.68 402.8,20.69 403.1,20.45 403.4,20.78 403.7,20.61 404,20.89 404.3,20.4 404.6,20.41 404.9,20.29 405.2,20.36 405.5,20.27 405.8,20.35 406.1,20.18 406.4,20.09 406.7,19.97 407,20 407.3,19.9 407.6,19.9 407.9,19.83 408.2,19.93 408.5,19.94 408.8,19.65 409.1,19.77 409.4,19.7 409.7,19.48 410,19.42 410.3,19.73 410.6,19.62 410.9,19.2 411.2,19.28 411.5,19.37 411.8,19.26 412.1,19.08 412.4,19.23 412.7,19.07 413,19.3 413.3,19.23 413.6,18.81 413.9,18.91 414.2,18.81 414.5,18.58 414.8,18.69 415.1,18.76 415.4,18.53 415.7,18.7 416,18.59 416.3,18.53 416.6,18.69 416.9,18.33 417.2,18.31 417.5,18.42 417.8,18.27 418.1,18.32 418.4,18.11 418.7,18.2 419,18.31 419.3,17.94 419.6,17.92 419.9,18.06 420.2,17.95 420.5,17.77 420.8,17.74 421.1,17.71 421.4,17.77 421.7,17.68 422,17.44 422.3,17.49 422.6,17.4 422.9,17.42 423.2,17.32 423.5,17.53 423.8,17.44 424.1,17.58 424.4,17.33 424.7,17.37 425,16.93 425.3,17.1" fill="none" stroke="#5a9ad6" stroke-width="1.04" stroke-linejoin="round"/><polyline points="401,21.4 401.3,21.35 401.6,21.3 401.9,21.26 402.2,21.21 402.5,21.16 402.8,21.11 403.1,21.06 403.4,21.01 403.7,20.97 404,20.92 404.3,20.87 404.6,20.82 404.9,20.77 405.2,20.73 405.5,20.68 405.8,20.63 406.1,20.58 406.4,20.53 406.7,20.49 407,20.44 407.3,20.39 407.6,20.34 407.9,20.29 408.2,20.24 408.5,20.2 408.8,20.15 409.1,20.1 409.4,20.05 409.7,20 410,19.96 410.3,19.91 410.6,19.86 410.9,19.81 411.2,19.76 411.5,19.71 411.8,19.67 412.1,19.62 412.4,19.57 412.7,19.52 413,19.47 413.3,19.43 413.6,19.38 413.9,19.33 414.2,19.28 414.5,19.23 414.8,19.19 415.1,19.14 415.4,19.09 415.7,19.04 416,18.99 416.3,18.94 416.6,18.9 416.9,18.85 417.2,18.8 417.5,18.75 417.8,18.7 418.1,18.66 418.4,18.61 418.7,18.56 419,18.51 419.3,18.46 419.6,18.41 419.9,18.37 420.2,18.32 420.5,18.27 420.8,18.22 421.1,18.17 421.4,18.13 421.7,18.08 422,18.03 422.3,17.98 422.6,17.93 422.9,17.89 423.2,17.84 423.5,17.79 423.8,17.74 424.1,17.69 424.4,17.64 424.7,17.6 425,17.55 425.3,17.5" fill="none" stroke="#4d6688" stroke-width="0.3" opacity="0.5"/><polyline points="401,20.9 401.3,20.85 401.6,20.8 401.9,20.76 402.2,20.71 402.5,20.66 402.8,20.61 403.1,20.56 403.4,20.51 403.7,20.47 404,20.42 404.3,20.37 404.6,20.32 404.9,20.27 405.2,20.23 405.5,20.18 405.8,20.13 406.1,20.08 406.4,20.03 406.7,19.99 407,19.94 407.3,19.89 407.6,19.84 407.9,19.79 408.2,19.74 408.5,19.7 408.8,19.65 409.1,19.6 409.4,19.55 409.7,19.5 410,19.46 410.3,19.41 410.6,19.36 410.9,19.31 411.2,19.26 411.5,19.21 411.8,19.17 412.1,19.12 412.4,19.07 412.7,19.02 413,18.97 413.3,18.93 413.6,18.88 413.9,18.83 414.2,18.78 414.5,18.73 414.8,18.69 415.1,18.64 415.4,18.59 415.7,18.54 416,18.49 416.3,18.44 416.6,18.4 416.9,18.35 417.2,18.3 417.5,18.25 417.8,18.2 418.1,18.16 418.4,18.11 418.7,18.06 419,18.01 419.3,17.96 419.6,17.91 419.9,17.87 420.2,17.82 420.5,17.77 420.8,17.72 421.1,17.67 421.4,17.63 421.7,17.58 422,17.53 422.3,17.48 422.6,17.43 422.9,17.39 423.2,17.34 423.5,17.29 423.8,17.24 424.1,17.19 424.4,17.14 424.7,17.1 425,17.05 425.3,17" fill="none" stroke="#d46a42" stroke-width="0.7" opacity="0.9"/><polygon points="425.3,18.1 425.3,9 431.4,9 431.4,18.1" fill="#f0bfb0" opacity="0.84"/><polygon points="425.3,12.5 425.3,9 431.4,9 431.4,12.5" fill="#a9d8f0" opacity="0.9"/><path d="M426.5 9V18" stroke="#d9705e" stroke-width="0.5"/><path d="M428.3 9V18" stroke="#d9705e" stroke-width="0.5"/><path d="M430.1 9V18" stroke="#d9705e" stroke-width="0.5"/><polyline points="431.4,17.6 431.7,17.6 432,17.6 432.3,17.6 432.6,17.6 432.9,17.6 433.2,17.6 433.5,17.6 433.8,17.6" fill="none" stroke="#a6d2f0" stroke-width="2.32" stroke-linejoin="round"/><polyline points="431.4,17.6 431.7,17.6 432,17.6 432.3,17.6 432.6,17.6 432.9,17.6 433.2,17.6 433.5,17.6 433.8,17.6" fill="none" stroke="#5a9ad6" stroke-width="1.28" stroke-linejoin="round"/><polyline points="431.4,18 431.7,18 432,18 432.3,18 432.6,18 432.9,18 433.2,18 433.5,18 433.8,18" fill="none" stroke="#4d6688" stroke-width="0.3" opacity="0.5"/><polyline points="431.4,17.5 431.7,17.5 432,17.5 432.3,17.5 432.6,17.5 432.9,17.5 433.2,17.5 433.5,17.5 433.8,17.5" fill="none" stroke="#d46a42" stroke-width="0.7" opacity="0.9"/></g>
<rect x="398.3" y="6.8" width="35.6" height="25.5" fill="none" stroke="#a8a8a8" stroke-width="0.5"/>
<clipPath id="c4"><rect x="19.8" y="106" width="157.7" height="74.5"/></clipPath>
<path d="M19.8 180v-1.6M19.8 106.5v1.6M51.34 180v-1.6M51.34 106.5v1.6M82.88 180v-1.6M82.88 106.5v1.6M114.42 180v-1.6M114.42 106.5v1.6M145.96 180v-1.6M145.96 106.5v1.6M177.5 180v-1.6M177.5 106.5v1.6M19.8 170.8h1.6M177.5 170.8h-1.6M19.8 152.4h1.6M177.5 152.4h-1.6M19.8 134.1h1.6M177.5 134.1h-1.6M19.8 115.7h1.6M177.5 115.7h-1.6" stroke="#adadad" stroke-width="0.6" fill="none"/>
<text x="19.8" y="187" font-size="7.23" text-anchor="middle" fill="#484848" stroke="#484848" textLength="8.85" lengthAdjust="spacingAndGlyphs">200</text>
<text x="51.34" y="187" font-size="7.23" text-anchor="middle" fill="#484848" stroke="#484848" textLength="8.85" lengthAdjust="spacingAndGlyphs">210</text>
<text x="82.88" y="187" font-size="7.23" text-anchor="middle" fill="#484848" stroke="#484848" textLength="8.85" lengthAdjust="spacingAndGlyphs">220</text>
<text x="114.42" y="187" font-size="7.23" text-anchor="middle" fill="#484848" stroke="#484848" textLength="8.85" lengthAdjust="spacingAndGlyphs">230</text>
<text x="145.96" y="187" font-size="7.23" text-anchor="middle" fill="#484848" stroke="#484848" textLength="8.85" lengthAdjust="spacingAndGlyphs">240</text>
<text x="177.5" y="187" font-size="7.23" text-anchor="middle" fill="#484848" stroke="#484848" textLength="8.85" lengthAdjust="spacingAndGlyphs">250</text>
<text x="18.5" y="173.26" font-size="7.23" text-anchor="end" fill="#484848" stroke="#484848" textLength="2.95" lengthAdjust="spacingAndGlyphs">2</text>
<text x="18.5" y="154.86" font-size="7.23" text-anchor="end" fill="#484848" stroke="#484848" textLength="7.38" lengthAdjust="spacingAndGlyphs">2.2</text>
<text x="18.5" y="136.56" font-size="7.23" text-anchor="end" fill="#484848" stroke="#484848" textLength="7.38" lengthAdjust="spacingAndGlyphs">2.4</text>
<text x="18.5" y="118.16" font-size="7.23" text-anchor="end" fill="#484848" stroke="#484848" textLength="7.38" lengthAdjust="spacingAndGlyphs">2.6</text>
<text x="99.3" y="193.6" font-size="7.6" text-anchor="middle" fill="#484848" stroke="#484848" textLength="24.2" lengthAdjust="spacingAndGlyphs">Time (s)</text>
<text x="9.6" y="143.2" font-size="7" text-anchor="middle" fill="#484848" stroke="#484848" textLength="56.5" lengthAdjust="spacingAndGlyphs" transform="rotate(-90 9.6 143.2)">PA amplitude (mV)</text>
<g clip-path="url(#c4)"><polyline points="20.05,170.28 21.18,171.43 22.76,170.08 23.97,169.07 25.31,164.5 26.4,161.78 28.16,157.97 28.98,155 30.47,154.57 31.91,154.17 33.45,154.53 34.49,154.03 36.2,151.82 37.61,152.34 38.52,150.14 40.1,151.25 41.13,153 42.69,157.22 43.85,159.5 45.7,163.31 46.77,165.13 48.39,166.7 49.65,168.39 51.05,167.06 52.02,163.56 53.32,159.62 54.95,154.12 56.07,151.3 57.73,148.67 58.9,147.24 60.32,145.35 61.89,143.53 63.01,142.73 64.14,141.54 65.52,142.8 67.07,143.45 68.41,147.64 69.82,153.55 71.05,159.33 72.53,163.46 73.74,166.01 75.22,166.8 76.64,167.85 77.68,168.01 79.13,168.78 80.55,170.05 82,168.34 83.12,167.04 84.63,163.56 86.02,159.53 87.51,156.5 88.58,154.22 90.07,150.02 91.18,148.72 92.7,146.79 93.88,148.29 95.63,149.86 96.71,150.21 98.28,151.22 99.41,151.69 101.02,153.75 102.1,155.19 103.41,158.76 104.89,162.74 106.39,166.74 107.74,169.93 108.95,171.41 110,176 110.03,172.76 111.65,170.9 112.81,170.21 114.43,168.38 115.86,165.7 117.01,163.18 118.41,162.57 119.47,160.48 121.07,157.32 122.2,154.75 123.81,150.31 125.03,146.54 126.59,143.48 127.56,143.24 127.9,140.5 128.94,145.31 130.6,148.33 131.86,150.45 133.24,154.58 134.74,158.24 135.89,161.05 137.42,163.61 138.61,163.63 140.18,166.22 141.39,169.25 142.46,169.76 143.93,173.08 145.55,174.19 146.62,173.47 147.88,173.49 149.39,170.41 150.69,169.41 152.16,168.9 153.42,169.23 154.67,171.51 156.1,172.54 157.46,173.66 159.07,172.81 160.46,171.62 161.62,170.01 162.67,168.9 164.38,165.89 165.7,166.4 167.13,167.58 168.22,168.79 169.41,172.18 171.06,171.83 172.15,172.22 173.84,170.01 175.21,167.48 176.35,167.49" fill="none" stroke="#9dd6ea" stroke-width="0.35" opacity="0.7"/><g fill="#12a2c6"><circle cx="20.05" cy="170.28" r="1.3"/><circle cx="21.18" cy="171.43" r="1.3"/><circle cx="22.76" cy="170.08" r="1.3"/><circle cx="23.97" cy="169.07" r="1.3"/><circle cx="25.31" cy="164.5" r="1.3"/><circle cx="26.4" cy="161.78" r="1.3"/><circle cx="28.16" cy="157.97" r="1.3"/><circle cx="28.98" cy="155" r="1.3"/><circle cx="30.47" cy="154.57" r="1.3"/><circle cx="31.91" cy="154.17" r="1.3"/><circle cx="33.45" cy="154.53" r="1.3"/><circle cx="34.49" cy="154.03" r="1.3"/><circle cx="36.2" cy="151.82" r="1.3"/><circle cx="37.61" cy="152.34" r="1.3"/><circle cx="38.52" cy="150.14" r="1.3"/><circle cx="40.1" cy="151.25" r="1.3"/><circle cx="41.13" cy="153" r="1.3"/><circle cx="42.69" cy="157.22" r="1.3"/><circle cx="43.85" cy="159.5" r="1.3"/><circle cx="45.7" cy="163.31" r="1.3"/><circle cx="46.77" cy="165.13" r="1.3"/><circle cx="48.39" cy="166.7" r="1.3"/><circle cx="49.65" cy="168.39" r="1.3"/><circle cx="51.05" cy="167.06" r="1.3"/><circle cx="52.02" cy="163.56" r="1.3"/><circle cx="53.32" cy="159.62" r="1.3"/><circle cx="54.95" cy="154.12" r="1.3"/><circle cx="56.07" cy="151.3" r="1.3"/><circle cx="57.73" cy="148.67" r="1.3"/><circle cx="58.9" cy="147.24" r="1.3"/><circle cx="60.32" cy="145.35" r="1.3"/><circle cx="61.89" cy="143.53" r="1.3"/><circle cx="63.01" cy="142.73" r="1.3"/><circle cx="64.14" cy="141.54" r="1.3"/><circle cx="65.52" cy="142.8" r="1.3"/><circle cx="67.07" cy="143.45" r="1.3"/><circle cx="68.41" cy="147.64" r="1.3"/><circle cx="69.82" cy="153.55" r="1.3"/><circle cx="71.05" cy="159.33" r="1.3"/><circle cx="72.53" cy="163.46" r="1.3"/><circle cx="73.74" cy="166.01" r="1.3"/><circle cx="75.22" cy="166.8" r="1.3"/><circle cx="76.64" cy="167.85" r="1.3"/><circle cx="77.68" cy="168.01" r="1.3"/><circle cx="79.13" cy="168.78" r="1.3"/><circle cx="80.55" cy="170.05" r="1.3"/><circle cx="82" cy="168.34" r="1.3"/><circle cx="83.12" cy="167.04" r="1.3"/><circle cx="84.63" cy="163.56" r="1.3"/><circle cx="86.02" cy="159.53" r="1.3"/><circle cx="87.51" cy="156.5" r="1.3"/><circle cx="88.58" cy="154.22" r="1.3"/><circle cx="90.07" cy="150.02" r="1.3"/><circle cx="91.18" cy="148.72" r="1.3"/><circle cx="92.7" cy="146.79" r="1.3"/><circle cx="93.88" cy="148.29" r="1.3"/><circle cx="95.63" cy="149.86" r="1.3"/><circle cx="96.71" cy="150.21" r="1.3"/><circle cx="98.28" cy="151.22" r="1.3"/><circle cx="99.41" cy="151.69" r="1.3"/><circle cx="101.02" cy="153.75" r="1.3"/><circle cx="102.1" cy="155.19" r="1.3"/><circle cx="103.41" cy="158.76" r="1.3"/><circle cx="104.89" cy="162.74" r="1.3"/><circle cx="106.39" cy="166.74" r="1.3"/><circle cx="107.74" cy="169.93" r="1.3"/><circle cx="108.95" cy="171.41" r="1.3"/><circle cx="110" cy="176" r="1.3"/><circle cx="110.03" cy="172.76" r="1.3"/><circle cx="111.65" cy="170.9" r="1.3"/><circle cx="112.81" cy="170.21" r="1.3"/><circle cx="114.43" cy="168.38" r="1.3"/><circle cx="115.86" cy="165.7" r="1.3"/><circle cx="117.01" cy="163.18" r="1.3"/><circle cx="118.41" cy="162.57" r="1.3"/><circle cx="119.47" cy="160.48" r="1.3"/><circle cx="121.07" cy="157.32" r="1.3"/><circle cx="122.2" cy="154.75" r="1.3"/><circle cx="123.81" cy="150.31" r="1.3"/><circle cx="125.03" cy="146.54" r="1.3"/><circle cx="126.59" cy="143.48" r="1.3"/><circle cx="127.56" cy="143.24" r="1.3"/><circle cx="127.9" cy="140.5" r="1.3"/><circle cx="128.94" cy="145.31" r="1.3"/><circle cx="130.6" cy="148.33" r="1.3"/><circle cx="131.86" cy="150.45" r="1.3"/><circle cx="133.24" cy="154.58" r="1.3"/><circle cx="134.74" cy="158.24" r="1.3"/><circle cx="135.89" cy="161.05" r="1.3"/><circle cx="137.42" cy="163.61" r="1.3"/><circle cx="138.61" cy="163.63" r="1.3"/><circle cx="140.18" cy="166.22" r="1.3"/><circle cx="141.39" cy="169.25" r="1.3"/><circle cx="142.46" cy="169.76" r="1.3"/><circle cx="143.93" cy="173.08" r="1.3"/><circle cx="145.55" cy="174.19" r="1.3"/><circle cx="146.62" cy="173.47" r="1.3"/><circle cx="147.88" cy="173.49" r="1.3"/><circle cx="149.39" cy="170.41" r="1.3"/><circle cx="150.69" cy="169.41" r="1.3"/><circle cx="152.16" cy="168.9" r="1.3"/><circle cx="153.42" cy="169.23" r="1.3"/><circle cx="154.67" cy="171.51" r="1.3"/><circle cx="156.1" cy="172.54" r="1.3"/><circle cx="157.46" cy="173.66" r="1.3"/><circle cx="159.07" cy="172.81" r="1.3"/><circle cx="160.46" cy="171.62" r="1.3"/><circle cx="161.62" cy="170.01" r="1.3"/><circle cx="162.67" cy="168.9" r="1.3"/><circle cx="164.38" cy="165.89" r="1.3"/><circle cx="165.7" cy="166.4" r="1.3"/><circle cx="167.13" cy="167.58" r="1.3"/><circle cx="168.22" cy="168.79" r="1.3"/><circle cx="169.41" cy="172.18" r="1.3"/><circle cx="171.06" cy="171.83" r="1.3"/><circle cx="172.15" cy="172.22" r="1.3"/><circle cx="173.84" cy="170.01" r="1.3"/><circle cx="175.21" cy="167.48" r="1.3"/><circle cx="176.35" cy="167.49" r="1.3"/></g><polyline points="19.8,168.7 20.33,168.68 20.85,168.65 21.38,168.6 21.91,168.54 22.44,168.46 22.96,168.36 23.49,168.25 24.02,168.01 24.55,167.27 25.07,166.14 25.6,164.78 26.13,163.36 26.66,162.03 27.18,160.88 27.71,159.58 28.24,158.22 28.77,156.94 29.29,155.88 29.82,155.18 30.35,154.91 30.88,154.76 31.4,154.63 31.93,154.53 32.46,154.45 32.99,154.38 33.51,154.3 34.04,154.23 34.57,154.14 35.1,154.04 35.62,153.94 36.15,153.84 36.68,153.74 37.21,153.65 37.73,153.57 38.26,153.5 38.79,153.44 39.31,153.41 39.84,153.4 40.37,153.56 40.9,153.96 41.42,154.52 41.95,155.2 42.48,155.91 43.01,156.61 43.53,157.37 44.06,158.28 44.59,159.27 45.12,160.28 45.64,161.25 46.17,162.11 46.7,162.89 47.23,163.73 47.75,164.58 48.28,165.38 48.81,166.09 49.34,166.65 49.86,167 50.39,167.08 50.92,166.47 51.45,165.21 51.97,163.62 52.5,162.03 53.03,160.63 53.56,159.1 54.08,157.45 54.61,155.77 55.14,154.14 55.66,152.63 56.19,151.34 56.72,150.32 57.25,149.56 57.77,148.86 58.3,148.23 58.83,147.66 59.36,147.16 59.88,146.72 60.41,146.34 60.94,146.02 61.47,145.72 61.99,145.42 62.52,145.14 63.05,144.9 63.58,144.71 64.1,144.57 64.63,144.5 65.16,144.55 65.69,144.81 66.21,145.24 66.74,145.81 67.27,146.49 67.8,147.25 68.32,148.1 68.85,149.46 69.38,151.25 69.91,153.28 70.43,155.32 70.96,157.19 71.49,158.71 72.02,160.15 72.54,161.57 73.07,162.9 73.6,164.06 74.12,165 74.65,165.67 75.18,166.24 75.71,166.77 76.23,167.22 76.76,167.58 77.29,167.82 77.82,167.9 78.34,167.86 78.87,167.73 79.4,167.54 79.93,167.3 80.45,167 80.98,166.67 81.51,166.3 82.04,165.92 82.56,165.53 83.09,165.07 83.62,164.48 84.15,163.77 84.67,162.98 85.2,162.12 85.73,161.22 86.26,160.3 86.78,159.39 87.31,158.51 87.84,157.62 88.37,156.59 88.89,155.44 89.42,154.24 89.95,153.02 90.47,151.85 91,150.78 91.53,149.85 92.06,149.13 92.58,148.66 93.11,148.5 93.64,148.58 94.17,148.79 94.69,149.11 95.22,149.51 95.75,149.97 96.28,150.46 96.8,150.95 97.33,151.42 97.86,151.91 98.39,152.44 98.91,153.02 99.44,153.64 99.97,154.29 100.5,154.97 101.02,155.67 101.55,156.4 102.08,157.15 102.61,157.92 103.13,158.71 103.66,159.62 104.19,160.59 104.72,161.61 105.24,162.63 105.77,163.62 106.3,164.56 106.83,165.39 107.35,166.18 107.88,167.02 108.41,167.87 108.93,168.67 109.46,169.36 109.99,169.9 110.52,170.22 111.04,170.29 111.57,170.15 112.1,169.85 112.63,169.44 113.15,168.95 113.68,168.42 114.21,167.89 114.74,167.29 115.26,166.56 115.79,165.72 116.32,164.82 116.85,163.88 117.37,162.93 117.9,162 118.43,161.12 118.96,160.25 119.48,159.36 120.01,158.47 120.54,157.57 121.07,156.68 121.59,155.78 122.12,154.88 122.65,153.99 123.18,153.1 123.7,152.06 124.23,150.92 124.76,149.76 125.28,148.67 125.81,147.73 126.34,147.02 126.87,146.64 127.39,146.62 127.92,146.75 128.45,146.99 128.98,147.32 129.5,147.73 130.03,148.2 130.56,148.72 131.09,149.29 131.61,150.11 132.14,151.35 132.67,152.85 133.2,154.45 133.72,155.98 134.25,157.3 134.78,158.39 135.31,159.45 135.83,160.46 136.36,161.42 136.89,162.34 137.42,163.21 137.94,164.03 138.47,164.8 139,165.57 139.53,166.35 140.05,167.12 140.58,167.86 141.11,168.54 141.64,169.15 142.16,169.67 142.69,170.06 143.22,170.31 143.74,170.48 144.27,170.63 144.8,170.78 145.33,170.92 145.85,171.04 146.38,171.16 146.91,171.25 147.44,171.33 147.96,171.4 148.49,171.45 149.02,171.48 149.55,171.5 150.07,171.5 150.6,171.48 151.13,171.46 151.66,171.43 152.18,171.4 152.71,171.35 153.24,171.3 153.77,171.25 154.29,171.19 154.82,171.13 155.35,171.07 155.88,171.01 156.4,170.95 156.93,170.89 157.46,170.84 157.99,170.78 158.51,170.72 159.04,170.66 159.57,170.59 160.09,170.51 160.62,170.43 161.15,170.35 161.68,170.26 162.2,170.18 162.73,170.09 163.26,170 163.79,169.91 164.31,169.83 164.84,169.74 165.37,169.66 165.9,169.59 166.42,169.52 166.95,169.45 167.48,169.39 168.01,169.34 168.53,169.29 169.06,169.25 169.59,169.22 170.12,169.21 170.64,169.2 171.17,169.2 171.7,169.22 172.23,169.24 172.75,169.27 173.28,169.32 173.81,169.37 174.34,169.42 174.86,169.49 175.39,169.56 175.92,169.64 176.45,169.72 176.97,169.81 177.5,169.9" fill="none" stroke="#dc5a22" stroke-width="1.3" stroke-linejoin="round"/></g>
<rect x="19.8" y="106.5" width="157.7" height="73.5" fill="none" stroke="#adadad" stroke-width="0.7"/>
<circle cx="127" cy="116.8" r="1.2" fill="#12a2c6"/>
<path d="M125.2 124.6H129.8" stroke="#dc5a22" stroke-width="1.3"/>
<text x="129.8" y="118.6" font-size="7.4" text-anchor="start" fill="#484848" stroke="#484848" textLength="26" lengthAdjust="spacingAndGlyphs">Raw data</text>
<text x="129.8" y="126.2" font-size="7.4" text-anchor="start" fill="#484848" stroke="#484848" textLength="45.2" lengthAdjust="spacingAndGlyphs">Smoothed signal</text>
<text x="79.6" y="126.2" font-size="8.2" fill="#484848" stroke="#484848" textLength="41" lengthAdjust="spacingAndGlyphs">(d)20mA/cm²</text>
<rect x="33.4" y="108.4" width="43.8" height="26.7" fill="#fff"/>
<clipPath id="ic4"><rect x="33.4" y="108.4" width="43.8" height="26.7"/></clipPath>
<text x="33.8" y="139.6" font-size="3.63" text-anchor="middle" fill="#6a6a6a" stroke="#6a6a6a" textLength="1.65" lengthAdjust="spacingAndGlyphs">0</text>
<text x="50.3" y="139.6" font-size="3.63" text-anchor="middle" fill="#6a6a6a" stroke="#6a6a6a" textLength="4.95" lengthAdjust="spacingAndGlyphs">100</text>
<text x="67.8" y="139.6" font-size="3.63" text-anchor="middle" fill="#6a6a6a" stroke="#6a6a6a" textLength="4.95" lengthAdjust="spacingAndGlyphs">200</text>
<text x="32.2" y="111.2" font-size="3.27" text-anchor="end" fill="#6a6a6a" stroke="#6a6a6a" textLength="3.71" lengthAdjust="spacingAndGlyphs">2.5</text>
<text x="32.2" y="124" font-size="3.27" text-anchor="end" fill="#6a6a6a" stroke="#6a6a6a" textLength="1.48" lengthAdjust="spacingAndGlyphs">2</text>
<text x="32.2" y="135.9" font-size="3.27" text-anchor="end" fill="#6a6a6a" stroke="#6a6a6a" textLength="3.71" lengthAdjust="spacingAndGlyphs">1.5</text>
<path d="M33.8 135.1v-1M33.8 108.4v1M50.3 135.1v-1M50.3 108.4v1M67.8 135.1v-1M67.8 108.4v1M33.4 110h1M77.2 110h-1M33.4 122.8h1M77.2 122.8h-1M33.4 134.7h1M77.2 134.7h-1" stroke="#b0b0b0" stroke-width="0.4" fill="none"/>
<text x="55.3" y="143.2" font-size="3.8" text-anchor="middle" fill="#6a6a6a" stroke="#6a6a6a" textLength="11.5" lengthAdjust="spacingAndGlyphs">Time (s)</text>
<text x="25.5" y="124.75" font-size="3.6" text-anchor="middle" fill="#8a8a8a" stroke="#8a8a8a" textLength="30" lengthAdjust="spacingAndGlyphs" transform="rotate(-90 25.5 124.75)">PA amplitude (mV)</text>
<g clip-path="url(#ic4)"><path d="M34.3 123V135.1" stroke="#eaa898" stroke-width="0.6"/><polyline points="33.4,122.22 33.7,122.32 34,122.44 34.3,122.88 34.6,122.94 34.9,122.83 35.2,123.44 35.5,122.96 35.8,122.94 36.1,123.02 36.4,123.21 36.7,122.9 37,122.71 37.3,122.95 37.6,123.16 37.9,122.99 38.2,123.12 38.5,122.89 38.8,123.1 39.1,122.87 39.4,123.23 39.7,123.29 40,122.71 40.3,122.94 40.6,122.91 40.9,122.91 41.2,122.85 41.5,123.05 41.8,123.29 42.1,123.37 42.4,123.01 42.7,123.11 43,123.36 43.3,123.28 43.6,122.95 43.9,123.01 44.2,123.21 44.5,123.15 44.8,122.86 45.1,122.91 45.4,123.26 45.7,122.92 46,122.93 46.3,123.05 46.6,123.01 46.9,122.9 47.2,122.96 47.5,123.03 47.8,122.94 48.1,123.16 48.4,122.63 48.7,123.2 49,123.27 49.3,123.2 49.6,122.65 49.9,122.96 50.2,123.11 50.5,123.29 50.8,123.14 51.1,123.09 51.4,122.99 51.7,123.14 52,123.17 52.3,122.84 52.6,123.01 52.9,123.4 53.2,122.95 53.5,123.3 53.8,123.4 54.1,123.26 54.4,123.01 54.7,123.28 55,123.07 55.3,123.05 55.6,122.99 55.9,122.93 56.2,123.19 56.5,123.09 56.8,123.18 57.1,123.12 57.4,123.23 57.7,122.97 58,123.34 58.3,122.94 58.6,123.22 58.9,123.1 59.2,123.03 59.5,123.07 59.8,123.2 60.1,122.98 60.4,123.01 60.7,123.37 61,123.14 61.3,123.15 61.6,122.85 61.9,122.98 62.2,123.22 62.5,123.04 62.8,123.34 63.1,123.2 63.4,122.87 63.7,123.29 64,123.14 64.3,122.72 64.6,123.35 64.9,123.46 65.2,123.36 65.5,123.29 65.8,123.12 66.1,123.32 66.4,123.24 66.7,123.44 67,123.3" fill="none" stroke="#a6d2f0" stroke-width="2.75" stroke-linejoin="round"/><polyline points="33.4,122.33 33.7,122.48 34,122.52 34.3,122.69 34.6,123.23 34.9,123.01 35.2,122.77 35.5,122.84 35.8,123.12 36.1,122.98 36.4,122.98 36.7,122.96 37,122.92 37.3,122.86 37.6,123.2 37.9,123.12 38.2,122.96 38.5,123.18 38.8,123.2 39.1,122.9 39.4,122.81 39.7,122.96 40,123.04 40.3,123.21 40.6,123.14 40.9,123.07 41.2,123.14 41.5,123.17 41.8,122.96 42.1,122.97 42.4,123.07 42.7,122.93 43,122.96 43.3,123.1 43.6,123.19 43.9,123.07 44.2,122.96 44.5,123.06 44.8,123.14 45.1,122.88 45.4,123.01 45.7,123.3 46,122.97 46.3,123 46.6,122.81 46.9,122.91 47.2,123.27 47.5,123 47.8,122.95 48.1,122.98 48.4,122.87 48.7,123.14 49,122.99 49.3,122.96 49.6,122.92 49.9,123.01 50.2,122.99 50.5,123.22 50.8,123.17 51.1,123.15 51.4,123.19 51.7,123.17 52,123.12 52.3,123.19 52.6,123.1 52.9,123.29 53.2,123.23 53.5,123.14 53.8,122.9 54.1,123 54.4,123.14 54.7,122.96 55,123.12 55.3,123.22 55.6,123.02 55.9,122.96 56.2,123.23 56.5,123.11 56.8,123.18 57.1,123.04 57.4,123.35 57.7,123.29 58,123.13 58.3,123.35 58.6,123.14 58.9,123.26 59.2,123.23 59.5,122.96 59.8,123.14 60.1,123.11 60.4,123.06 60.7,123.1 61,123.25 61.3,123.19 61.6,123.09 61.9,123.02 62.2,123.26 62.5,123.15 62.8,123.19 63.1,123.27 63.4,123.28 63.7,123.18 64,123.17 64.3,123.04 64.6,122.97 64.9,123.25 65.2,123.27 65.5,123.26 65.8,123.14 66.1,123.17 66.4,123.16 66.7,122.99 67,123.19" fill="none" stroke="#5a9ad6" stroke-width="1.52" stroke-linejoin="round"/><polyline points="33.4,122.7 33.7,122.83 34,122.96 34.3,123.09 34.6,123.22 34.9,123.36 35.2,123.4 35.5,123.4 35.8,123.4 36.1,123.41 36.4,123.41 36.7,123.41 37,123.41 37.3,123.41 37.6,123.42 37.9,123.42 38.2,123.42 38.5,123.42 38.8,123.42 39.1,123.43 39.4,123.43 39.7,123.43 40,123.43 40.3,123.43 40.6,123.43 40.9,123.44 41.2,123.44 41.5,123.44 41.8,123.44 42.1,123.44 42.4,123.45 42.7,123.45 43,123.45 43.3,123.45 43.6,123.45 43.9,123.46 44.2,123.46 44.5,123.46 44.8,123.46 45.1,123.46 45.4,123.46 45.7,123.47 46,123.47 46.3,123.47 46.6,123.47 46.9,123.47 47.2,123.48 47.5,123.48 47.8,123.48 48.1,123.48 48.4,123.48 48.7,123.49 49,123.49 49.3,123.49 49.6,123.49 49.9,123.49 50.2,123.49 50.5,123.5 50.8,123.5 51.1,123.5 51.4,123.5 51.7,123.5 52,123.51 52.3,123.51 52.6,123.51 52.9,123.51 53.2,123.51 53.5,123.51 53.8,123.52 54.1,123.52 54.4,123.52 54.7,123.52 55,123.52 55.3,123.53 55.6,123.53 55.9,123.53 56.2,123.53 56.5,123.53 56.8,123.54 57.1,123.54 57.4,123.54 57.7,123.54 58,123.54 58.3,123.54 58.6,123.55 58.9,123.55 59.2,123.55 59.5,123.55 59.8,123.55 60.1,123.56 60.4,123.56 60.7,123.56 61,123.56 61.3,123.56 61.6,123.57 61.9,123.57 62.2,123.57 62.5,123.57 62.8,123.57 63.1,123.57 63.4,123.58 63.7,123.58 64,123.58 64.3,123.58 64.6,123.58 64.9,123.59 65.2,123.59 65.5,123.59 65.8,123.59 66.1,123.59 66.4,123.6 66.7,123.6 67,123.6" fill="none" stroke="#4d6688" stroke-width="0.3" opacity="0.5"/><polyline points="33.4,122.2 33.7,122.33 34,122.46 34.3,122.59 34.6,122.72 34.9,122.86 35.2,122.9 35.5,122.9 35.8,122.9 36.1,122.91 36.4,122.91 36.7,122.91 37,122.91 37.3,122.91 37.6,122.92 37.9,122.92 38.2,122.92 38.5,122.92 38.8,122.92 39.1,122.93 39.4,122.93 39.7,122.93 40,122.93 40.3,122.93 40.6,122.93 40.9,122.94 41.2,122.94 41.5,122.94 41.8,122.94 42.1,122.94 42.4,122.95 42.7,122.95 43,122.95 43.3,122.95 43.6,122.95 43.9,122.96 44.2,122.96 44.5,122.96 44.8,122.96 45.1,122.96 45.4,122.96 45.7,122.97 46,122.97 46.3,122.97 46.6,122.97 46.9,122.97 47.2,122.98 47.5,122.98 47.8,122.98 48.1,122.98 48.4,122.98 48.7,122.99 49,122.99 49.3,122.99 49.6,122.99 49.9,122.99 50.2,122.99 50.5,123 50.8,123 51.1,123 51.4,123 51.7,123 52,123.01 52.3,123.01 52.6,123.01 52.9,123.01 53.2,123.01 53.5,123.01 53.8,123.02 54.1,123.02 54.4,123.02 54.7,123.02 55,123.02 55.3,123.03 55.6,123.03 55.9,123.03 56.2,123.03 56.5,123.03 56.8,123.04 57.1,123.04 57.4,123.04 57.7,123.04 58,123.04 58.3,123.04 58.6,123.05 58.9,123.05 59.2,123.05 59.5,123.05 59.8,123.05 60.1,123.06 60.4,123.06 60.7,123.06 61,123.06 61.3,123.06 61.6,123.07 61.9,123.07 62.2,123.07 62.5,123.07 62.8,123.07 63.1,123.07 63.4,123.08 63.7,123.08 64,123.08 64.3,123.08 64.6,123.08 64.9,123.09 65.2,123.09 65.5,123.09 65.8,123.09 66.1,123.09 66.4,123.1 66.7,123.1 67,123.1" fill="none" stroke="#d46a42" stroke-width="0.7" opacity="0.9"/><polygon points="67.2,123.2 67.2,115.2 72,115.2 73.1,114 74.2,123.2" fill="#f0c4b8" opacity="0.48"/><polyline points="67.2,122.5 67.6,116 68.4,122 69.2,115.5 70,122.5 70.8,115.5 71.6,122.5 72.3,116 73.1,114 73.7,124.3 74.2,122.2" fill="none" stroke="#d9705e" stroke-width="0.5" stroke-linejoin="round"/><polyline points="74.2,122.2 74.5,122.2 74.8,122.2 75.1,122.2 75.4,122.2 75.7,122.2 76,122.2 76.3,122.2 76.6,122.2 76.9,122.2 77.2,122.2" fill="none" stroke="#a6d2f0" stroke-width="2.32" stroke-linejoin="round"/><polyline points="74.2,122.2 74.5,122.2 74.8,122.2 75.1,122.2 75.4,122.2 75.7,122.2 76,122.2 76.3,122.2 76.6,122.2 76.9,122.2 77.2,122.2" fill="none" stroke="#5a9ad6" stroke-width="1.28" stroke-linejoin="round"/><polyline points="74.2,122.6 74.5,122.6 74.8,122.6 75.1,122.6 75.4,122.6 75.7,122.6 76,122.6 76.3,122.6 76.6,122.6 76.9,122.6 77.2,122.6" fill="none" stroke="#4d6688" stroke-width="0.3" opacity="0.5"/><polyline points="74.2,122.1 74.5,122.1 74.8,122.1 75.1,122.1 75.4,122.1 75.7,122.1 76,122.1 76.3,122.1 76.6,122.1 76.9,122.1 77.2,122.1" fill="none" stroke="#d46a42" stroke-width="0.7" opacity="0.9"/></g>
<rect x="33.4" y="108.4" width="43.8" height="26.7" fill="none" stroke="#a8a8a8" stroke-width="0.5"/>
<clipPath id="c5"><rect x="202.2" y="104" width="157.4" height="74.7"/></clipPath>
<path d="M213.18 178.2v-1.6M213.18 104.5v1.6M249.78 178.2v-1.6M249.78 104.5v1.6M286.38 178.2v-1.6M286.38 104.5v1.6M322.98 178.2v-1.6M322.98 104.5v1.6M359.58 178.2v-1.6M359.58 104.5v1.6M202.2 170.8h1.6M359.6 170.8h-1.6M202.2 154.2h1.6M359.6 154.2h-1.6M202.2 137.7h1.6M359.6 137.7h-1.6M202.2 121.2h1.6M359.6 121.2h-1.6M202.2 104.6h1.6M359.6 104.6h-1.6" stroke="#adadad" stroke-width="0.6" fill="none"/>
<text x="213.18" y="187" font-size="7.23" text-anchor="middle" fill="#484848" stroke="#484848" textLength="8.85" lengthAdjust="spacingAndGlyphs">200</text>
<text x="249.78" y="187" font-size="7.23" text-anchor="middle" fill="#484848" stroke="#484848" textLength="8.85" lengthAdjust="spacingAndGlyphs">210</text>
<text x="286.38" y="187" font-size="7.23" text-anchor="middle" fill="#484848" stroke="#484848" textLength="8.85" lengthAdjust="spacingAndGlyphs">220</text>
<text x="322.98" y="187" font-size="7.23" text-anchor="middle" fill="#484848" stroke="#484848" textLength="8.85" lengthAdjust="spacingAndGlyphs">230</text>
<text x="359.58" y="187" font-size="7.23" text-anchor="middle" fill="#484848" stroke="#484848" textLength="8.85" lengthAdjust="spacingAndGlyphs">240</text>
<text x="200.9" y="173.26" font-size="7.23" text-anchor="end" fill="#484848" stroke="#484848" textLength="7.38" lengthAdjust="spacingAndGlyphs">1.8</text>
<text x="200.9" y="156.66" font-size="7.23" text-anchor="end" fill="#484848" stroke="#484848" textLength="2.95" lengthAdjust="spacingAndGlyphs">2</text>
<text x="200.9" y="140.16" font-size="7.23" text-anchor="end" fill="#484848" stroke="#484848" textLength="7.38" lengthAdjust="spacingAndGlyphs">2.2</text>
<text x="200.9" y="123.66" font-size="7.23" text-anchor="end" fill="#484848" stroke="#484848" textLength="7.38" lengthAdjust="spacingAndGlyphs">2.4</text>
<text x="200.9" y="107.06" font-size="7.23" text-anchor="end" fill="#484848" stroke="#484848" textLength="7.38" lengthAdjust="spacingAndGlyphs">2.6</text>
<text x="281" y="193.6" font-size="7.6" text-anchor="middle" fill="#484848" stroke="#484848" textLength="24.6" lengthAdjust="spacingAndGlyphs">Time (s)</text>
<text x="190.2" y="141.4" font-size="7" text-anchor="middle" fill="#484848" stroke="#484848" textLength="60" lengthAdjust="spacingAndGlyphs" transform="rotate(-90 190.2 141.4)">PA amplitude (mV)</text>
<g clip-path="url(#c5)"><polyline points="202.03,169.16 203.92,170.07 205.02,173.82 206.95,174.25 208.19,175.01 209.77,174.82 211.36,172.7 212.71,170.24 214.08,165.21 215.51,160.55 216.95,156.19 218.84,149.79 220.16,147.68 221.49,145.95 223.43,140.98 224.56,139.91 225,135.7 226.15,138.66 227.58,136.9 229.28,140.21 230.75,143.23 232.26,153.12 233.56,156.25 235.07,160.46 236.55,166.87 238.1,167.65 239.49,167.91 241,166.65 242.98,160.48 244.48,158.86 245.51,156.33 246.91,154.3 248.52,153.39 250.32,149.64 251.87,144.88 252.91,144.92 254.75,142.75 255.7,138.9 255.9,139.69 257.71,140.28 259.28,144.78 260.99,150.03 262.06,157.71 263.88,158.95 265.42,162.16 266.95,163.69 267.9,163.5 269.68,162.88 271.49,163.92 272.64,161.6 274.39,163.6 275.73,163.19 277.36,160.86 278.69,158.23 279.92,156.48 281.45,153.66 282.97,147.12 284.55,148.43 286.48,148.91 287.78,152.9 289.39,154.61 290.74,158.32 292.28,161.87 293.89,163.26 295.46,164.21 296.95,163.55 298.39,164.25 299.46,161.31 301.12,163.87 302.42,164.77 304.23,163.34 305.88,164.59 306.93,162.19 308.51,162.22 308.6,150 310.12,158.39 311.55,155.95 313.38,156.5 314.61,156.88 316.28,159.53 317.7,161.84 319.25,163.69 320.96,164.45 322.47,164.82 323.47,164.69 325.41,163.47 326.61,162.77 327.96,161.92 329.63,162.22 331.21,160.85 332.98,161.58 334.12,159.97 335.41,159.96 337.42,155.79 338.47,156.82 340.19,154.42 341.91,155.42 343.21,154.07 344.67,153.7 346.38,156.35 347.41,157.08 349,146.8 349.24,157.77 350.65,159 352.49,157.46 353.88,155.7 354.93,157.64 356.51,157.03 358.17,157.55" fill="none" stroke="#9dd6ea" stroke-width="0.35" opacity="0.7"/><g fill="#12a2c6"><circle cx="202.03" cy="169.16" r="1.3"/><circle cx="203.92" cy="170.07" r="1.3"/><circle cx="205.02" cy="173.82" r="1.3"/><circle cx="206.95" cy="174.25" r="1.3"/><circle cx="208.19" cy="175.01" r="1.3"/><circle cx="209.77" cy="174.82" r="1.3"/><circle cx="211.36" cy="172.7" r="1.3"/><circle cx="212.71" cy="170.24" r="1.3"/><circle cx="214.08" cy="165.21" r="1.3"/><circle cx="215.51" cy="160.55" r="1.3"/><circle cx="216.95" cy="156.19" r="1.3"/><circle cx="218.84" cy="149.79" r="1.3"/><circle cx="220.16" cy="147.68" r="1.3"/><circle cx="221.49" cy="145.95" r="1.3"/><circle cx="223.43" cy="140.98" r="1.3"/><circle cx="224.56" cy="139.91" r="1.3"/><circle cx="225" cy="135.7" r="1.3"/><circle cx="226.15" cy="138.66" r="1.3"/><circle cx="227.58" cy="136.9" r="1.3"/><circle cx="229.28" cy="140.21" r="1.3"/><circle cx="230.75" cy="143.23" r="1.3"/><circle cx="232.26" cy="153.12" r="1.3"/><circle cx="233.56" cy="156.25" r="1.3"/><circle cx="235.07" cy="160.46" r="1.3"/><circle cx="236.55" cy="166.87" r="1.3"/><circle cx="238.1" cy="167.65" r="1.3"/><circle cx="239.49" cy="167.91" r="1.3"/><circle cx="241" cy="166.65" r="1.3"/><circle cx="242.98" cy="160.48" r="1.3"/><circle cx="244.48" cy="158.86" r="1.3"/><circle cx="245.51" cy="156.33" r="1.3"/><circle cx="246.91" cy="154.3" r="1.3"/><circle cx="248.52" cy="153.39" r="1.3"/><circle cx="250.32" cy="149.64" r="1.3"/><circle cx="251.87" cy="144.88" r="1.3"/><circle cx="252.91" cy="144.92" r="1.3"/><circle cx="254.75" cy="142.75" r="1.3"/><circle cx="255.7" cy="138.9" r="1.3"/><circle cx="255.9" cy="139.69" r="1.3"/><circle cx="257.71" cy="140.28" r="1.3"/><circle cx="259.28" cy="144.78" r="1.3"/><circle cx="260.99" cy="150.03" r="1.3"/><circle cx="262.06" cy="157.71" r="1.3"/><circle cx="263.88" cy="158.95" r="1.3"/><circle cx="265.42" cy="162.16" r="1.3"/><circle cx="266.95" cy="163.69" r="1.3"/><circle cx="267.9" cy="163.5" r="1.3"/><circle cx="269.68" cy="162.88" r="1.3"/><circle cx="271.49" cy="163.92" r="1.3"/><circle cx="272.64" cy="161.6" r="1.3"/><circle cx="274.39" cy="163.6" r="1.3"/><circle cx="275.73" cy="163.19" r="1.3"/><circle cx="277.36" cy="160.86" r="1.3"/><circle cx="278.69" cy="158.23" r="1.3"/><circle cx="279.92" cy="156.48" r="1.3"/><circle cx="281.45" cy="153.66" r="1.3"/><circle cx="282.97" cy="147.12" r="1.3"/><circle cx="284.55" cy="148.43" r="1.3"/><circle cx="286.48" cy="148.91" r="1.3"/><circle cx="287.78" cy="152.9" r="1.3"/><circle cx="289.39" cy="154.61" r="1.3"/><circle cx="290.74" cy="158.32" r="1.3"/><circle cx="292.28" cy="161.87" r="1.3"/><circle cx="293.89" cy="163.26" r="1.3"/><circle cx="295.46" cy="164.21" r="1.3"/><circle cx="296.95" cy="163.55" r="1.3"/><circle cx="298.39" cy="164.25" r="1.3"/><circle cx="299.46" cy="161.31" r="1.3"/><circle cx="301.12" cy="163.87" r="1.3"/><circle cx="302.42" cy="164.77" r="1.3"/><circle cx="304.23" cy="163.34" r="1.3"/><circle cx="305.88" cy="164.59" r="1.3"/><circle cx="306.93" cy="162.19" r="1.3"/><circle cx="308.51" cy="162.22" r="1.3"/><circle cx="308.6" cy="150" r="1.3"/><circle cx="310.12" cy="158.39" r="1.3"/><circle cx="311.55" cy="155.95" r="1.3"/><circle cx="313.38" cy="156.5" r="1.3"/><circle cx="314.61" cy="156.88" r="1.3"/><circle cx="316.28" cy="159.53" r="1.3"/><circle cx="317.7" cy="161.84" r="1.3"/><circle cx="319.25" cy="163.69" r="1.3"/><circle cx="320.96" cy="164.45" r="1.3"/><circle cx="322.47" cy="164.82" r="1.3"/><circle cx="323.47" cy="164.69" r="1.3"/><circle cx="325.41" cy="163.47" r="1.3"/><circle cx="326.61" cy="162.77" r="1.3"/><circle cx="327.96" cy="161.92" r="1.3"/><circle cx="329.63" cy="162.22" r="1.3"/><circle cx="331.21" cy="160.85" r="1.3"/><circle cx="332.98" cy="161.58" r="1.3"/><circle cx="334.12" cy="159.97" r="1.3"/><circle cx="335.41" cy="159.96" r="1.3"/><circle cx="337.42" cy="155.79" r="1.3"/><circle cx="338.47" cy="156.82" r="1.3"/><circle cx="340.19" cy="154.42" r="1.3"/><circle cx="341.91" cy="155.42" r="1.3"/><circle cx="343.21" cy="154.07" r="1.3"/><circle cx="344.67" cy="153.7" r="1.3"/><circle cx="346.38" cy="156.35" r="1.3"/><circle cx="347.41" cy="157.08" r="1.3"/><circle cx="349" cy="146.8" r="1.3"/><circle cx="349.24" cy="157.77" r="1.3"/><circle cx="350.65" cy="159" r="1.3"/><circle cx="352.49" cy="157.46" r="1.3"/><circle cx="353.88" cy="155.7" r="1.3"/><circle cx="354.93" cy="157.64" r="1.3"/><circle cx="356.51" cy="157.03" r="1.3"/><circle cx="358.17" cy="157.55" r="1.3"/></g><polyline points="202.2,171.3 202.73,171.38 203.25,171.46 203.78,171.54 204.31,171.62 204.83,171.7 205.36,171.79 205.88,171.89 206.41,172 206.94,172.09 207.46,172.18 207.99,172.25 208.52,172.29 209.04,172.29 209.57,172.19 210.1,171.97 210.62,171.65 211.15,171.25 211.68,170.8 212.2,170.29 212.73,169.48 213.25,168.3 213.78,166.84 214.31,165.18 214.83,163.43 215.36,161.68 215.89,160.01 216.41,158.5 216.94,156.94 217.47,155.33 217.99,153.72 218.52,152.13 219.05,150.62 219.57,149.24 220.1,148.01 220.62,146.92 221.15,145.82 221.68,144.76 222.2,143.77 222.73,142.88 223.26,142.14 223.78,141.59 224.31,141.24 224.84,140.99 225.36,140.77 225.89,140.61 226.42,140.51 226.94,140.54 227.47,140.83 227.99,141.38 228.52,142.12 229.05,142.99 229.57,143.92 230.1,144.89 230.63,146.19 231.15,147.8 231.68,149.57 232.21,151.39 232.73,153.12 233.26,154.64 233.79,156.17 234.31,157.71 234.84,159.18 235.36,160.52 235.89,161.64 236.42,162.46 236.94,163.18 237.47,163.84 238,164.36 238.52,164.66 239.05,164.69 239.58,164.57 240.1,164.36 240.63,164.07 241.16,163.73 241.68,163.34 242.21,162.92 242.73,162.27 243.26,161.41 243.79,160.4 244.31,159.29 244.84,158.15 245.37,157.03 245.89,155.99 246.42,155.03 246.95,154.04 247.47,153.04 248,152.04 248.53,151.08 249.05,150.17 249.58,149.33 250.1,148.59 250.63,147.89 251.16,147.15 251.68,146.43 252.21,145.77 252.74,145.21 253.26,144.78 253.79,144.54 254.32,144.5 254.84,144.55 255.37,144.64 255.89,144.76 256.42,144.92 256.95,145.11 257.47,145.34 258,145.82 258.53,146.64 259.05,147.68 259.58,148.83 260.11,149.99 260.63,151.06 261.16,152.12 261.69,153.27 262.21,154.46 262.74,155.64 263.26,156.78 263.79,157.81 264.32,158.7 264.84,159.43 265.37,160.14 265.9,160.85 266.42,161.51 266.95,162.1 267.48,162.58 268,162.92 268.53,163.09 269.06,163.1 269.58,163.1 270.11,163.1 270.63,163.1 271.16,163.1 271.69,163.1 272.21,163.07 272.74,162.88 273.27,162.55 273.79,162.11 274.32,161.59 274.85,161.03 275.37,160.46 275.9,159.9 276.43,159.31 276.95,158.61 277.48,157.85 278,157.04 278.53,156.23 279.06,155.45 279.58,154.72 280.11,154.07 280.64,153.4 281.16,152.7 281.69,152.01 282.22,151.36 282.74,150.82 283.27,150.43 283.8,150.22 284.32,150.22 284.85,150.31 285.37,150.46 285.9,150.76 286.43,151.4 286.95,152.26 287.48,153.19 288.01,154.06 288.53,154.83 289.06,155.64 289.59,156.46 290.11,157.28 290.64,158.06 291.17,158.8 291.69,159.45 292.22,160.02 292.74,160.55 293.27,161.07 293.8,161.56 294.32,162.02 294.85,162.42 295.38,162.75 295.9,163 296.43,163.16 296.96,163.3 297.48,163.43 298.01,163.55 298.54,163.66 299.06,163.74 299.59,163.81 300.11,163.87 300.64,163.89 301.17,163.89 301.69,163.81 302.22,163.64 302.75,163.41 303.27,163.12 303.8,162.79 304.33,162.44 304.85,162.09 305.38,161.75 305.91,161.44 306.43,161.08 306.96,160.67 307.48,160.22 308.01,159.76 308.54,159.32 309.06,158.93 309.59,158.61 310.12,158.39 310.64,158.3 311.17,158.31 311.7,158.34 312.22,158.39 312.75,158.45 313.27,158.53 313.8,158.62 314.33,158.72 314.85,158.84 315.38,159.05 315.91,159.37 316.43,159.77 316.96,160.23 317.49,160.71 318.01,161.18 318.54,161.62 319.07,162 319.59,162.3 320.12,162.54 320.64,162.78 321.17,163.02 321.7,163.25 322.22,163.46 322.75,163.63 323.28,163.77 323.8,163.86 324.33,163.9 324.86,163.87 325.38,163.76 325.91,163.58 326.44,163.36 326.96,163.1 327.49,162.82 328.01,162.55 328.54,162.28 329.07,161.99 329.59,161.66 330.12,161.29 330.65,160.9 331.17,160.51 331.7,160.12 332.23,159.75 332.75,159.41 333.28,159.11 333.81,158.84 334.33,158.58 334.86,158.33 335.38,158.08 335.91,157.85 336.44,157.64 336.96,157.45 337.49,157.28 338.02,157.14 338.54,157.03 339.07,156.92 339.6,156.81 340.12,156.7 340.65,156.61 341.18,156.52 341.7,156.43 342.23,156.36 342.75,156.3 343.28,156.25 343.81,156.22 344.33,156.2 344.86,156.2 345.39,156.21 345.91,156.23 346.44,156.25 346.97,156.29 347.49,156.33 348.02,156.37 348.55,156.42 349.07,156.47 349.6,156.53 350.12,156.59 350.65,156.65 351.18,156.71 351.7,156.78 352.23,156.85 352.76,156.94 353.28,157.04 353.81,157.15 354.34,157.26 354.86,157.39 355.39,157.52 355.92,157.66 356.44,157.8 356.97,157.95 357.49,158.11 358.02,158.28 358.55,158.45 359.07,158.62 359.6,158.8" fill="none" stroke="#dc5a22" stroke-width="1.3" stroke-linejoin="round"/></g>
<rect x="202.2" y="104.5" width="157.4" height="73.7" fill="none" stroke="#adadad" stroke-width="0.7"/>
<circle cx="306.6" cy="109.4" r="1.2" fill="#12a2c6"/>
<path d="M304.6 117.4H308.6" stroke="#dc5a22" stroke-width="1.3"/>
<text x="308.6" y="111" font-size="7.6" text-anchor="start" fill="#484848" stroke="#484848" textLength="28.6" lengthAdjust="spacingAndGlyphs">Raw data</text>
<text x="308.6" y="119.2" font-size="7.6" text-anchor="start" fill="#484848" stroke="#484848" textLength="49.6" lengthAdjust="spacingAndGlyphs">Smoothed signal</text>
<text x="256.7" y="122.4" font-size="8.6" fill="#484848" stroke="#484848" textLength="45" lengthAdjust="spacingAndGlyphs">(e)25mA/cm²</text>
<rect x="215" y="104.8" width="41.4" height="24.7" fill="#fff"/>
<clipPath id="ic5"><rect x="215" y="104.8" width="41.4" height="24.7"/></clipPath>
<text x="221.5" y="133.6" font-size="3.81" text-anchor="middle" fill="#6a6a6a" stroke="#6a6a6a" textLength="3.46" lengthAdjust="spacingAndGlyphs">50</text>
<text x="230.2" y="133.6" font-size="3.81" text-anchor="middle" fill="#6a6a6a" stroke="#6a6a6a" textLength="5.19" lengthAdjust="spacingAndGlyphs">100</text>
<text x="238.4" y="133.6" font-size="3.81" text-anchor="middle" fill="#6a6a6a" stroke="#6a6a6a" textLength="5.19" lengthAdjust="spacingAndGlyphs">150</text>
<text x="246.6" y="133.6" font-size="3.81" text-anchor="middle" fill="#6a6a6a" stroke="#6a6a6a" textLength="5.19" lengthAdjust="spacingAndGlyphs">200</text>
<text x="255.9" y="133.6" font-size="3.81" text-anchor="middle" fill="#6a6a6a" stroke="#6a6a6a" textLength="5.19" lengthAdjust="spacingAndGlyphs">250</text>
<text x="213.8" y="109.16" font-size="3.43" text-anchor="end" fill="#6a6a6a" stroke="#6a6a6a" textLength="3.89" lengthAdjust="spacingAndGlyphs">2.2</text>
<text x="213.8" y="115.26" font-size="3.43" text-anchor="end" fill="#6a6a6a" stroke="#6a6a6a" textLength="1.56" lengthAdjust="spacingAndGlyphs">2</text>
<text x="213.8" y="121.36" font-size="3.43" text-anchor="end" fill="#6a6a6a" stroke="#6a6a6a" textLength="3.89" lengthAdjust="spacingAndGlyphs">1.8</text>
<text x="213.8" y="127.46" font-size="3.43" text-anchor="end" fill="#6a6a6a" stroke="#6a6a6a" textLength="3.89" lengthAdjust="spacingAndGlyphs">1.6</text>
<path d="M221.5 129.5v-1M221.5 104.8v1M230.2 129.5v-1M230.2 104.8v1M238.4 129.5v-1M238.4 104.8v1M246.6 129.5v-1M246.6 104.8v1M255.9 129.5v-1M255.9 104.8v1M215 107.9h1M256.4 107.9h-1M215 114h1M256.4 114h-1M215 120.1h1M256.4 120.1h-1M215 126.2h1M256.4 126.2h-1" stroke="#b0b0b0" stroke-width="0.4" fill="none"/>
<text x="239.4" y="137.6" font-size="3.9" text-anchor="middle" fill="#6a6a6a" stroke="#6a6a6a" textLength="11.5" lengthAdjust="spacingAndGlyphs">Time (s)</text>
<text x="207.1" y="120.15" font-size="3.6" text-anchor="middle" fill="#8a8a8a" stroke="#8a8a8a" textLength="30" lengthAdjust="spacingAndGlyphs" transform="rotate(-90 207.1 120.15)">PA amplitude (mV)</text>
<g clip-path="url(#ic5)"><polyline points="215,121.13 215.3,121.01 215.6,120.97 215.9,121.2 216.2,121.48 216.5,121.14 216.8,120.71 217.1,121.31 217.4,121 217.7,121.1 218,121.67 218.3,121.92 218.6,121.31 218.9,121.43 219.2,120.71 219.5,121.56 219.8,120.74 220.1,121.17 220.4,121.32 220.7,121.02 221,120.64 221.3,121.19 221.6,121.37 221.9,120.58 222.2,121.06 222.5,121.52 222.8,121.63 223.1,121.54 223.4,121.26 223.7,121.27 224,121.11 224.3,121.69 224.6,120.67 224.9,121.09 225.2,121.23 225.5,121.12 225.8,120.63 226.1,121.08 226.4,121.07 226.7,120.77 227,120.91 227.3,121.11 227.6,120.8 227.9,121.08 228.2,121.58 228.5,120.67 228.8,120.94 229.1,121.45 229.4,120.69 229.7,120.73 230,121.04 230.3,120.86 230.6,121.39 230.9,120.99 231.2,121.23 231.5,120.5 231.8,120.23 232.1,121.3 232.4,120.75 232.7,120.54 233,121 233.3,120.67 233.6,120.29 233.9,120.39 234.2,120.8 234.5,120.32 234.8,120.47 235.1,121.67 235.4,120.88 235.7,121.07 236,121.14 236.3,120.42 236.6,120.28 236.9,120.92 237.2,120.34 237.5,121.56 237.8,121.48 238.1,120.76 238.4,120.45 238.7,120.81 239,121.33 239.3,121.29 239.6,121.26 239.9,120.99 240.2,120.73 240.5,120.74 240.8,120.51 241.1,120.82 241.4,120.32 241.7,120.44 242,120.56 242.3,121.04 242.6,120.82 242.9,120.75 243.2,120.43 243.5,120.64 243.8,120.53 244.1,120.48 244.4,120.55 244.7,121.22 245,120.84 245.3,121.03 245.6,120.21 245.9,120.84 246.2,120.54 246.5,120.41 246.8,120.57 247.1,120.56 247.4,120.77 247.7,120.97" fill="none" stroke="#a6d2f0" stroke-width="2.75" stroke-linejoin="round"/><polyline points="215,121.11 215.3,121.44 215.6,121.3 215.9,121.19 216.2,121.47 216.5,121.3 216.8,121.37 217.1,121.06 217.4,121.29 217.7,121.48 218,121.12 218.3,121.1 218.6,120.82 218.9,121.21 219.2,121.43 219.5,121.12 219.8,120.99 220.1,120.98 220.4,121.03 220.7,121.47 221,121.18 221.3,121.26 221.6,120.69 221.9,121.12 222.2,121.17 222.5,121.11 222.8,121.09 223.1,121.35 223.4,121.06 223.7,120.86 224,121.29 224.3,121 224.6,121.14 224.9,121.28 225.2,120.96 225.5,121.1 225.8,120.76 226.1,121.01 226.4,120.83 226.7,121.2 227,121.22 227.3,120.85 227.6,120.67 227.9,120.69 228.2,120.95 228.5,121.16 228.8,121.19 229.1,121.09 229.4,121.08 229.7,120.94 230,121.21 230.3,121.05 230.6,121.27 230.9,120.98 231.2,120.77 231.5,120.97 231.8,121.2 232.1,121.13 232.4,121.11 232.7,121.17 233,121.08 233.3,120.81 233.6,120.83 233.9,120.82 234.2,120.84 234.5,120.61 234.8,120.87 235.1,121 235.4,120.85 235.7,121.07 236,121.19 236.3,120.52 236.6,120.83 236.9,121.23 237.2,120.99 237.5,120.98 237.8,121.02 238.1,121.06 238.4,120.78 238.7,121 239,120.96 239.3,120.95 239.6,120.82 239.9,120.84 240.2,120.62 240.5,120.65 240.8,121.1 241.1,120.99 241.4,120.62 241.7,120.52 242,121.03 242.3,120.93 242.6,120.82 242.9,120.99 243.2,120.59 243.5,120.73 243.8,120.69 244.1,120.7 244.4,120.55 244.7,120.83 245,120.57 245.3,120.61 245.6,120.98 245.9,120.54 246.2,120.83 246.5,120.8 246.8,121.17 247.1,120.67 247.4,120.61 247.7,120.48" fill="none" stroke="#5a9ad6" stroke-width="1.52" stroke-linejoin="round"/><polyline points="215,121.6 215.3,121.6 215.6,121.59 215.9,121.59 216.2,121.58 216.5,121.58 216.8,121.57 217.1,121.57 217.4,121.56 217.7,121.56 218,121.55 218.3,121.55 218.6,121.55 218.9,121.54 219.2,121.54 219.5,121.53 219.8,121.53 220.1,121.52 220.4,121.52 220.7,121.51 221,121.51 221.3,121.5 221.6,121.5 221.9,121.5 222.2,121.49 222.5,121.49 222.8,121.48 223.1,121.48 223.4,121.47 223.7,121.47 224,121.46 224.3,121.46 224.6,121.45 224.9,121.45 225.2,121.44 225.5,121.44 225.8,121.44 226.1,121.43 226.4,121.43 226.7,121.42 227,121.42 227.3,121.41 227.6,121.41 227.9,121.4 228.2,121.4 228.5,121.39 228.8,121.39 229.1,121.39 229.4,121.38 229.7,121.38 230,121.37 230.3,121.37 230.6,121.36 230.9,121.36 231.2,121.35 231.5,121.35 231.8,121.34 232.1,121.34 232.4,121.34 232.7,121.33 233,121.33 233.3,121.32 233.6,121.32 233.9,121.31 234.2,121.31 234.5,121.3 234.8,121.3 235.1,121.29 235.4,121.29 235.7,121.29 236,121.28 236.3,121.28 236.6,121.27 236.9,121.27 237.2,121.26 237.5,121.26 237.8,121.25 238.1,121.25 238.4,121.24 238.7,121.24 239,121.24 239.3,121.23 239.6,121.23 239.9,121.22 240.2,121.22 240.5,121.21 240.8,121.21 241.1,121.2 241.4,121.2 241.7,121.19 242,121.19 242.3,121.19 242.6,121.18 242.9,121.18 243.2,121.17 243.5,121.17 243.8,121.16 244.1,121.16 244.4,121.15 244.7,121.15 245,121.14 245.3,121.14 245.6,121.13 245.9,121.13 246.2,121.13 246.5,121.12 246.8,121.12 247.1,121.11 247.4,121.11 247.7,121.1" fill="none" stroke="#4d6688" stroke-width="0.3" opacity="0.5"/><polyline points="215,121.1 215.3,121.1 215.6,121.09 215.9,121.09 216.2,121.08 216.5,121.08 216.8,121.07 217.1,121.07 217.4,121.06 217.7,121.06 218,121.05 218.3,121.05 218.6,121.05 218.9,121.04 219.2,121.04 219.5,121.03 219.8,121.03 220.1,121.02 220.4,121.02 220.7,121.01 221,121.01 221.3,121 221.6,121 221.9,121 222.2,120.99 222.5,120.99 222.8,120.98 223.1,120.98 223.4,120.97 223.7,120.97 224,120.96 224.3,120.96 224.6,120.95 224.9,120.95 225.2,120.94 225.5,120.94 225.8,120.94 226.1,120.93 226.4,120.93 226.7,120.92 227,120.92 227.3,120.91 227.6,120.91 227.9,120.9 228.2,120.9 228.5,120.89 228.8,120.89 229.1,120.89 229.4,120.88 229.7,120.88 230,120.87 230.3,120.87 230.6,120.86 230.9,120.86 231.2,120.85 231.5,120.85 231.8,120.84 232.1,120.84 232.4,120.84 232.7,120.83 233,120.83 233.3,120.82 233.6,120.82 233.9,120.81 234.2,120.81 234.5,120.8 234.8,120.8 235.1,120.79 235.4,120.79 235.7,120.79 236,120.78 236.3,120.78 236.6,120.77 236.9,120.77 237.2,120.76 237.5,120.76 237.8,120.75 238.1,120.75 238.4,120.74 238.7,120.74 239,120.74 239.3,120.73 239.6,120.73 239.9,120.72 240.2,120.72 240.5,120.71 240.8,120.71 241.1,120.7 241.4,120.7 241.7,120.69 242,120.69 242.3,120.69 242.6,120.68 242.9,120.68 243.2,120.67 243.5,120.67 243.8,120.66 244.1,120.66 244.4,120.65 244.7,120.65 245,120.64 245.3,120.64 245.6,120.63 245.9,120.63 246.2,120.63 246.5,120.62 246.8,120.62 247.1,120.61 247.4,120.61 247.7,120.6" fill="none" stroke="#d46a42" stroke-width="0.7" opacity="0.9"/><polygon points="247.9,121.5 247.9,106.5 249.5,108 252,111.5 254.5,113.8 256.4,114.6 256.4,116.5 252,119 249.5,121.5" fill="#f0c0b2" opacity="0.36"/><polyline points="247.9,121 248.3,106.5 249,120 249.7,108.5 250.4,119 251.1,110.5 251.8,118.5 252.6,112 253.4,117.5 254.3,113.5 255.2,116.5 256.4,115.1" fill="none" stroke="#d9705e" stroke-width="0.5" stroke-linejoin="round"/><polyline points="247.9,107.5 249,107.5 250.2,109.5" fill="none" stroke="#69b2e2" stroke-width="1.2" stroke-linejoin="round"/></g>
<rect x="215" y="104.8" width="41.4" height="24.7" fill="none" stroke="#a8a8a8" stroke-width="0.5"/>
<clipPath id="c6"><rect x="384.3" y="104.1" width="157" height="73.9"/></clipPath>
<path d="M394.3 177.5v-1.6M394.3 104.6v1.6M415.3 177.5v-1.6M415.3 104.6v1.6M436.3 177.5v-1.6M436.3 104.6v1.6M457.3 177.5v-1.6M457.3 104.6v1.6M478.3 177.5v-1.6M478.3 104.6v1.6M499.3 177.5v-1.6M499.3 104.6v1.6M520.3 177.5v-1.6M520.3 104.6v1.6M541.3 177.5v-1.6M541.3 104.6v1.6M384.3 174.6h1.6M541.3 174.6h-1.6M384.3 161.9h1.6M541.3 161.9h-1.6M384.3 149.1h1.6M541.3 149.1h-1.6M384.3 136.4h1.6M541.3 136.4h-1.6M384.3 123.6h1.6M541.3 123.6h-1.6M384.3 110.9h1.6M541.3 110.9h-1.6" stroke="#adadad" stroke-width="0.6" fill="none"/>
<text x="394.3" y="187" font-size="7.23" text-anchor="middle" fill="#484848" stroke="#484848" textLength="8.85" lengthAdjust="spacingAndGlyphs">200</text>
<text x="415.3" y="187" font-size="7.23" text-anchor="middle" fill="#484848" stroke="#484848" textLength="8.85" lengthAdjust="spacingAndGlyphs">205</text>
<text x="436.3" y="187" font-size="7.23" text-anchor="middle" fill="#484848" stroke="#484848" textLength="8.85" lengthAdjust="spacingAndGlyphs">210</text>
<text x="457.3" y="187" font-size="7.23" text-anchor="middle" fill="#484848" stroke="#484848" textLength="8.85" lengthAdjust="spacingAndGlyphs">215</text>
<text x="478.3" y="187" font-size="7.23" text-anchor="middle" fill="#484848" stroke="#484848" textLength="8.85" lengthAdjust="spacingAndGlyphs">220</text>
<text x="499.3" y="187" font-size="7.23" text-anchor="middle" fill="#484848" stroke="#484848" textLength="8.85" lengthAdjust="spacingAndGlyphs">225</text>
<text x="520.3" y="187" font-size="7.23" text-anchor="middle" fill="#484848" stroke="#484848" textLength="8.85" lengthAdjust="spacingAndGlyphs">230</text>
<text x="541.3" y="187" font-size="7.23" text-anchor="middle" fill="#484848" stroke="#484848" textLength="8.85" lengthAdjust="spacingAndGlyphs">235</text>
<text x="383" y="177.06" font-size="7.23" text-anchor="end" fill="#484848" stroke="#484848" textLength="7.38" lengthAdjust="spacingAndGlyphs">1.6</text>
<text x="383" y="164.36" font-size="7.23" text-anchor="end" fill="#484848" stroke="#484848" textLength="7.38" lengthAdjust="spacingAndGlyphs">1.8</text>
<text x="383" y="151.56" font-size="7.23" text-anchor="end" fill="#484848" stroke="#484848" textLength="2.95" lengthAdjust="spacingAndGlyphs">2</text>
<text x="383" y="138.86" font-size="7.23" text-anchor="end" fill="#484848" stroke="#484848" textLength="7.38" lengthAdjust="spacingAndGlyphs">2.2</text>
<text x="383" y="126.06" font-size="7.23" text-anchor="end" fill="#484848" stroke="#484848" textLength="7.38" lengthAdjust="spacingAndGlyphs">2.4</text>
<text x="383" y="113.36" font-size="7.23" text-anchor="end" fill="#484848" stroke="#484848" textLength="7.38" lengthAdjust="spacingAndGlyphs">2.6</text>
<text x="463.2" y="193.6" font-size="7.6" text-anchor="middle" fill="#484848" stroke="#484848" textLength="24.6" lengthAdjust="spacingAndGlyphs">Time (s)</text>
<text x="373" y="141" font-size="7" text-anchor="middle" fill="#484848" stroke="#484848" textLength="60" lengthAdjust="spacingAndGlyphs" transform="rotate(-90 373 141)">PA amplitude (mV)</text>
<g clip-path="url(#c6)"><polyline points="384.5,175.5 384.54,165.97 385.7,166.91 387.49,166.97 388.53,168.82 390.06,168.88 391.86,168.96 393.32,166.82 394.75,164.33 396.2,160.34 397.87,156.35 399.26,152.55 400.94,148.28 402.31,144.19 403.85,143.71 405.39,142.56 407.09,142.96 408.49,145.73 409.75,146.31 411.53,149.43 412.99,152.05 414.03,153.6 415.93,155.84 417.48,157.84 418.94,161.69 420.43,162.14 421.82,162.41 423.07,161.71 425.07,162.32 426.24,160.92 427.63,159.61 429.43,155.02 431.1,148.96 432.15,146.22 433.9,143.96 435.36,143.18 436.93,144.22 438.56,147.13 439.71,149.09 441.15,152.03 442.74,155.87 444.45,156.55 445.93,157.52 447.24,159.28 449.09,160.53 450.27,161.2 451.72,163.39 453.43,163.88 454.55,164.35 456.24,162.89 457.96,162.57 459.46,159.19 460.67,157.98 462.11,154.62 463.78,152.9 465.2,151.04 466.94,149.78 468.11,151.19 469.7,151.98 470,146.5 471.51,154.15 472.87,157.1 474.53,159.48 476.09,161.21 477.5,160.53 478.61,161.54 480.37,161.55 481.79,161.51 483.24,161.15 484.95,162.61 486.5,163.74 487.91,163.63 489.08,163.29 490.92,161.66 492.04,158.85 493.62,156.16 495.55,154.85 496.74,153.21 498.09,152.85 499.91,152.22 501.1,155.45 502.89,157.18 504.15,159.26 505.52,160.5 507.58,161.72 508.54,162.31 510.31,160.92 511.7,159.78 513.4,162.98 515.01,161.99 516.36,163.44 517.85,164.22 519.07,165.44 520.93,164.3 522.12,166.61 523.79,164.46 525.02,165.51 526.69,163.35 528.52,161.76 529.84,158.89 531.33,159.91 532.72,160.73 534.5,160.32 535.67,162.82 537.08,162.94 538.84,162.36 540.16,162.43" fill="none" stroke="#9dd6ea" stroke-width="0.35" opacity="0.7"/><g fill="#12a2c6"><circle cx="384.5" cy="175.5" r="1.3"/><circle cx="384.54" cy="165.97" r="1.3"/><circle cx="385.7" cy="166.91" r="1.3"/><circle cx="387.49" cy="166.97" r="1.3"/><circle cx="388.53" cy="168.82" r="1.3"/><circle cx="390.06" cy="168.88" r="1.3"/><circle cx="391.86" cy="168.96" r="1.3"/><circle cx="393.32" cy="166.82" r="1.3"/><circle cx="394.75" cy="164.33" r="1.3"/><circle cx="396.2" cy="160.34" r="1.3"/><circle cx="397.87" cy="156.35" r="1.3"/><circle cx="399.26" cy="152.55" r="1.3"/><circle cx="400.94" cy="148.28" r="1.3"/><circle cx="402.31" cy="144.19" r="1.3"/><circle cx="403.85" cy="143.71" r="1.3"/><circle cx="405.39" cy="142.56" r="1.3"/><circle cx="407.09" cy="142.96" r="1.3"/><circle cx="408.49" cy="145.73" r="1.3"/><circle cx="409.75" cy="146.31" r="1.3"/><circle cx="411.53" cy="149.43" r="1.3"/><circle cx="412.99" cy="152.05" r="1.3"/><circle cx="414.03" cy="153.6" r="1.3"/><circle cx="415.93" cy="155.84" r="1.3"/><circle cx="417.48" cy="157.84" r="1.3"/><circle cx="418.94" cy="161.69" r="1.3"/><circle cx="420.43" cy="162.14" r="1.3"/><circle cx="421.82" cy="162.41" r="1.3"/><circle cx="423.07" cy="161.71" r="1.3"/><circle cx="425.07" cy="162.32" r="1.3"/><circle cx="426.24" cy="160.92" r="1.3"/><circle cx="427.63" cy="159.61" r="1.3"/><circle cx="429.43" cy="155.02" r="1.3"/><circle cx="431.1" cy="148.96" r="1.3"/><circle cx="432.15" cy="146.22" r="1.3"/><circle cx="433.9" cy="143.96" r="1.3"/><circle cx="435.36" cy="143.18" r="1.3"/><circle cx="436.93" cy="144.22" r="1.3"/><circle cx="438.56" cy="147.13" r="1.3"/><circle cx="439.71" cy="149.09" r="1.3"/><circle cx="441.15" cy="152.03" r="1.3"/><circle cx="442.74" cy="155.87" r="1.3"/><circle cx="444.45" cy="156.55" r="1.3"/><circle cx="445.93" cy="157.52" r="1.3"/><circle cx="447.24" cy="159.28" r="1.3"/><circle cx="449.09" cy="160.53" r="1.3"/><circle cx="450.27" cy="161.2" r="1.3"/><circle cx="451.72" cy="163.39" r="1.3"/><circle cx="453.43" cy="163.88" r="1.3"/><circle cx="454.55" cy="164.35" r="1.3"/><circle cx="456.24" cy="162.89" r="1.3"/><circle cx="457.96" cy="162.57" r="1.3"/><circle cx="459.46" cy="159.19" r="1.3"/><circle cx="460.67" cy="157.98" r="1.3"/><circle cx="462.11" cy="154.62" r="1.3"/><circle cx="463.78" cy="152.9" r="1.3"/><circle cx="465.2" cy="151.04" r="1.3"/><circle cx="466.94" cy="149.78" r="1.3"/><circle cx="468.11" cy="151.19" r="1.3"/><circle cx="469.7" cy="151.98" r="1.3"/><circle cx="470" cy="146.5" r="1.3"/><circle cx="471.51" cy="154.15" r="1.3"/><circle cx="472.87" cy="157.1" r="1.3"/><circle cx="474.53" cy="159.48" r="1.3"/><circle cx="476.09" cy="161.21" r="1.3"/><circle cx="477.5" cy="160.53" r="1.3"/><circle cx="478.61" cy="161.54" r="1.3"/><circle cx="480.37" cy="161.55" r="1.3"/><circle cx="481.79" cy="161.51" r="1.3"/><circle cx="483.24" cy="161.15" r="1.3"/><circle cx="484.95" cy="162.61" r="1.3"/><circle cx="486.5" cy="163.74" r="1.3"/><circle cx="487.91" cy="163.63" r="1.3"/><circle cx="489.08" cy="163.29" r="1.3"/><circle cx="490.92" cy="161.66" r="1.3"/><circle cx="492.04" cy="158.85" r="1.3"/><circle cx="493.62" cy="156.16" r="1.3"/><circle cx="495.55" cy="154.85" r="1.3"/><circle cx="496.74" cy="153.21" r="1.3"/><circle cx="498.09" cy="152.85" r="1.3"/><circle cx="499.91" cy="152.22" r="1.3"/><circle cx="501.1" cy="155.45" r="1.3"/><circle cx="502.89" cy="157.18" r="1.3"/><circle cx="504.15" cy="159.26" r="1.3"/><circle cx="505.52" cy="160.5" r="1.3"/><circle cx="507.58" cy="161.72" r="1.3"/><circle cx="508.54" cy="162.31" r="1.3"/><circle cx="510.31" cy="160.92" r="1.3"/><circle cx="511.7" cy="159.78" r="1.3"/><circle cx="513.4" cy="162.98" r="1.3"/><circle cx="515.01" cy="161.99" r="1.3"/><circle cx="516.36" cy="163.44" r="1.3"/><circle cx="517.85" cy="164.22" r="1.3"/><circle cx="519.07" cy="165.44" r="1.3"/><circle cx="520.93" cy="164.3" r="1.3"/><circle cx="522.12" cy="166.61" r="1.3"/><circle cx="523.79" cy="164.46" r="1.3"/><circle cx="525.02" cy="165.51" r="1.3"/><circle cx="526.69" cy="163.35" r="1.3"/><circle cx="528.52" cy="161.76" r="1.3"/><circle cx="529.84" cy="158.89" r="1.3"/><circle cx="531.33" cy="159.91" r="1.3"/><circle cx="532.72" cy="160.73" r="1.3"/><circle cx="534.5" cy="160.32" r="1.3"/><circle cx="535.67" cy="162.82" r="1.3"/><circle cx="537.08" cy="162.94" r="1.3"/><circle cx="538.84" cy="162.36" r="1.3"/><circle cx="540.16" cy="162.43" r="1.3"/></g><polyline points="384.3,168.78 384.83,168.73 385.35,168.64 385.88,168.53 386.4,168.4 386.93,168.26 387.45,168.11 387.98,167.94 388.5,167.74 389.03,167.48 389.55,167.17 390.08,166.82 390.6,166.44 391.13,166.03 391.65,165.6 392.18,165.15 392.7,164.7 393.23,164.22 393.75,163.7 394.28,163.13 394.8,162.51 395.33,161.85 395.85,161.15 396.38,160.39 396.9,159.57 397.43,158.61 397.95,157.5 398.48,156.3 399,155.05 399.53,153.8 400.05,152.58 400.58,151.45 401.1,150.4 401.63,149.32 402.15,148.24 402.68,147.22 403.2,146.32 403.73,145.59 404.25,145.06 404.78,144.57 405.3,144.14 405.83,143.83 406.35,143.7 406.88,143.78 407.4,144.02 407.93,144.39 408.45,144.87 408.98,145.41 409.5,145.98 410.03,146.63 410.55,147.53 411.08,148.62 411.6,149.82 412.13,151.02 412.65,152.14 413.18,153.11 413.7,154.06 414.23,155.01 414.75,155.94 415.28,156.82 415.81,157.64 416.33,158.39 416.86,159.05 417.38,159.66 417.91,160.29 418.43,160.89 418.96,161.4 419.48,161.79 420.01,161.98 420.53,161.98 421.06,161.85 421.58,161.64 422.11,161.35 422.63,161.02 423.16,160.65 423.68,160.27 424.21,159.9 424.73,159.5 425.26,159.06 425.78,158.57 426.31,158.04 426.83,157.46 427.36,156.85 427.88,156.21 428.41,155.52 428.93,154.67 429.46,153.68 429.98,152.62 430.51,151.54 431.03,150.51 431.56,149.6 432.08,148.85 432.61,148.28 433.13,147.73 433.66,147.21 434.18,146.76 434.71,146.42 435.23,146.23 435.76,146.22 436.28,146.33 436.81,146.55 437.33,146.84 437.86,147.19 438.38,147.57 438.91,147.97 439.43,148.55 439.96,149.29 440.48,150.13 441.01,151.02 441.53,151.89 442.06,152.69 442.58,153.48 443.11,154.32 443.63,155.17 444.16,156 444.68,156.77 445.21,157.47 445.73,158.06 446.26,158.52 446.78,158.93 447.31,159.32 447.84,159.67 448.36,159.99 448.89,160.26 449.41,160.5 449.94,160.68 450.46,160.84 450.99,160.98 451.51,161.12 452.04,161.25 452.56,161.35 453.09,161.43 453.61,161.48 454.14,161.5 454.66,161.45 455.19,161.34 455.71,161.16 456.24,160.93 456.76,160.66 457.29,160.37 457.81,160.07 458.34,159.74 458.86,159.29 459.39,158.72 459.91,158.07 460.44,157.4 460.96,156.74 461.49,156.14 462.01,155.64 462.54,155.25 463.06,154.87 463.59,154.48 464.11,154.11 464.64,153.75 465.16,153.43 465.69,153.14 466.21,152.91 466.74,152.74 467.26,152.63 467.79,152.6 468.31,152.69 468.84,152.9 469.36,153.2 469.89,153.56 470.41,153.97 470.94,154.4 471.46,154.82 471.99,155.23 472.51,155.72 473.04,156.27 473.56,156.87 474.09,157.48 474.61,158.09 475.14,158.68 475.66,159.21 476.19,159.67 476.71,160.05 477.24,160.41 477.76,160.77 478.29,161.13 478.82,161.48 479.34,161.81 479.87,162.11 480.39,162.39 480.92,162.63 481.44,162.83 481.97,162.98 482.49,163.07 483.02,163.1 483.54,163.07 484.07,162.98 484.59,162.85 485.12,162.68 485.64,162.48 486.17,162.26 486.69,162.02 487.22,161.77 487.74,161.53 488.27,161.25 488.79,160.91 489.32,160.52 489.84,160.08 490.37,159.62 490.89,159.15 491.42,158.68 491.94,158.22 492.47,157.79 492.99,157.41 493.52,157.09 494.04,156.79 494.57,156.48 495.09,156.17 495.62,155.87 496.14,155.6 496.67,155.36 497.19,155.17 497.72,155.05 498.24,155 498.77,155.03 499.29,155.13 499.82,155.29 500.34,155.49 500.87,155.74 501.39,156.02 501.92,156.32 502.44,156.62 502.97,156.93 503.49,157.23 504.02,157.51 504.54,157.79 505.07,158.1 505.59,158.42 506.12,158.76 506.64,159.1 507.17,159.45 507.69,159.81 508.22,160.15 508.74,160.49 509.27,160.82 509.79,161.12 510.32,161.41 510.85,161.68 511.37,161.96 511.9,162.26 512.42,162.55 512.95,162.85 513.47,163.13 514,163.4 514.52,163.64 515.05,163.84 515.57,164.01 516.1,164.13 516.62,164.19 517.15,164.2 517.67,164.17 518.2,164.12 518.72,164.06 519.25,163.97 519.77,163.87 520.3,163.77 520.82,163.65 521.35,163.53 521.87,163.42 522.4,163.3 522.92,163.19 523.45,163.09 523.97,162.99 524.5,162.88 525.02,162.77 525.55,162.65 526.07,162.52 526.6,162.4 527.12,162.28 527.65,162.15 528.17,162.04 528.7,161.93 529.22,161.82 529.75,161.73 530.27,161.64 530.8,161.57 531.32,161.52 531.85,161.47 532.37,161.43 532.9,161.39 533.42,161.35 533.95,161.31 534.47,161.27 535,161.23 535.52,161.2 536.05,161.17 536.57,161.14 537.1,161.11 537.62,161.09 538.15,161.07 538.67,161.05 539.2,161.03 539.72,161.02 540.25,161.01 540.77,161 541.3,161" fill="none" stroke="#dc5a22" stroke-width="1.3" stroke-linejoin="round"/></g>
<rect x="384.3" y="104.6" width="157" height="72.9" fill="none" stroke="#adadad" stroke-width="0.7"/>
<circle cx="487" cy="109" r="1.2" fill="#12a2c6"/>
<path d="M485 117.4H489.4" stroke="#dc5a22" stroke-width="1.3"/>
<text x="489.4" y="110.6" font-size="7.6" text-anchor="start" fill="#484848" stroke="#484848" textLength="29.6" lengthAdjust="spacingAndGlyphs">Raw data</text>
<text x="489.4" y="119.2" font-size="7.6" text-anchor="start" fill="#484848" stroke="#484848" textLength="50.8" lengthAdjust="spacingAndGlyphs">Smoothed signal</text>
<text x="432.7" y="124.2" font-size="8.6" fill="#484848" stroke="#484848" textLength="47" lengthAdjust="spacingAndGlyphs">(f)30 mA/cm²</text>
<rect x="396" y="104.6" width="35.6" height="25.4" fill="#fff"/>
<clipPath id="ic6"><rect x="396" y="104.6" width="35.6" height="25.4"/></clipPath>
<text x="402" y="135.4" font-size="3.96" text-anchor="middle" fill="#6a6a6a" stroke="#6a6a6a" textLength="3.6" lengthAdjust="spacingAndGlyphs">50</text>
<text x="410" y="135.4" font-size="3.96" text-anchor="middle" fill="#6a6a6a" stroke="#6a6a6a" textLength="5.4" lengthAdjust="spacingAndGlyphs">100</text>
<text x="417.6" y="135.4" font-size="3.96" text-anchor="middle" fill="#6a6a6a" stroke="#6a6a6a" textLength="5.4" lengthAdjust="spacingAndGlyphs">150</text>
<text x="425.1" y="135.4" font-size="3.96" text-anchor="middle" fill="#6a6a6a" stroke="#6a6a6a" textLength="5.4" lengthAdjust="spacingAndGlyphs">200</text>
<text x="394.8" y="106.51" font-size="3.56" text-anchor="end" fill="#6a6a6a" stroke="#6a6a6a" textLength="4.05" lengthAdjust="spacingAndGlyphs">2.2</text>
<text x="394.8" y="112.11" font-size="3.56" text-anchor="end" fill="#6a6a6a" stroke="#6a6a6a" textLength="1.62" lengthAdjust="spacingAndGlyphs">2</text>
<text x="394.8" y="118.11" font-size="3.56" text-anchor="end" fill="#6a6a6a" stroke="#6a6a6a" textLength="4.05" lengthAdjust="spacingAndGlyphs">1.8</text>
<text x="394.8" y="123.51" font-size="3.56" text-anchor="end" fill="#6a6a6a" stroke="#6a6a6a" textLength="4.05" lengthAdjust="spacingAndGlyphs">1.6</text>
<text x="394.8" y="129.31" font-size="3.56" text-anchor="end" fill="#6a6a6a" stroke="#6a6a6a" textLength="4.05" lengthAdjust="spacingAndGlyphs">1.4</text>
<path d="M402 130v-1M402 104.6v1M410 130v-1M410 104.6v1M417.6 130v-1M417.6 104.6v1M425.1 130v-1M425.1 104.6v1M396 105.2h1M431.6 105.2h-1M396 110.8h1M431.6 110.8h-1M396 116.8h1M431.6 116.8h-1M396 122.2h1M431.6 122.2h-1M396 128h1M431.6 128h-1" stroke="#b0b0b0" stroke-width="0.4" fill="none"/>
<text x="416" y="139.6" font-size="4.2" text-anchor="middle" fill="#6a6a6a" stroke="#6a6a6a" textLength="12.5" lengthAdjust="spacingAndGlyphs">Time (s)</text>
<text x="388.1" y="120.3" font-size="3.6" text-anchor="middle" fill="#8a8a8a" stroke="#8a8a8a" textLength="30" lengthAdjust="spacingAndGlyphs" transform="rotate(-90 388.1 120.3)">PA amplitude (mV)</text>
<g clip-path="url(#ic6)"><polyline points="396,120.12 396.3,117.91 396.6,118.92 396.9,119.07 397.2,117.79 397.5,118.19 397.8,118.79 398.1,118.74 398.4,119.72 398.7,118.66 399,117.59 399.3,118.57 399.6,119.71 399.9,117.25 400.2,118.84 400.5,116.92 400.8,119.47 401.1,118.92 401.4,118.15 401.7,118 402,117.22 402.3,118 402.6,118.46 402.9,118.33 403.2,119.07 403.5,118.27 403.8,118.61 404.1,119.2 404.4,118.73 404.7,118.41 405,118.27 405.3,119.23 405.6,117.73 405.9,118.74 406.2,118.91 406.5,117.09 406.8,119.51 407.1,118.92 407.4,118.76 407.7,118.41 408,119.8 408.3,118.82 408.6,119.84 408.9,117.06 409.2,118.95 409.5,117.66 409.8,119.14 410.1,117.98 410.4,118.47 410.7,117.72 411,117.15 411.3,119.5 411.6,117.63 411.9,118.96 412.2,118.42 412.5,117.9 412.8,118.84 413.1,118.51 413.4,118.1 413.7,118.35 414,119.21 414.3,119.45 414.6,118.29 414.9,118.38 415.2,118.47 415.5,118.31 415.8,119.03 416.1,118.42 416.4,118.46 416.7,117.64 417,119.64 417.3,118.91 417.6,119.04 417.9,118.47 418.2,119.68 418.5,118.14 418.8,119.02 419.1,118.95 419.4,119.05 419.7,118.72 420,117.61 420.3,117.55 420.6,119.43 420.9,119.49 421.2,118.46 421.5,118.7 421.8,118.11 422.1,117.43 422.4,118.7 422.7,118.75 423,119.36 423.3,118.32 423.6,119.51 423.9,119.44 424.2,118.32" fill="none" stroke="#a6d2f0" stroke-width="2.61" stroke-linejoin="round"/><polyline points="396,119.07 396.3,118.58 396.6,118.66 396.9,118.52 397.2,118.41 397.5,119.18 397.8,119.03 398.1,118.11 398.4,119.02 398.7,118.17 399,118.82 399.3,118.46 399.6,119.05 399.9,118.24 400.2,117.89 400.5,118.78 400.8,118.74 401.1,118.3 401.4,119.11 401.7,118.97 402,118.29 402.3,118.4 402.6,118.58 402.9,119.17 403.2,119.28 403.5,118.8 403.8,118.66 404.1,118.22 404.4,119.13 404.7,118.13 405,119.5 405.3,118.56 405.6,118.66 405.9,118.62 406.2,119.6 406.5,118.47 406.8,118.88 407.1,118.73 407.4,118.49 407.7,119.04 408,118.35 408.3,118.74 408.6,118.54 408.9,119.28 409.2,119.12 409.5,119.26 409.8,118.43 410.1,119.12 410.4,119.36 410.7,119 411,119.63 411.3,119.76 411.6,118.28 411.9,118.8 412.2,118.65 412.5,118.47 412.8,118.62 413.1,118.83 413.4,118.37 413.7,118.9 414,118.56 414.3,118.18 414.6,119.17 414.9,119.24 415.2,118.96 415.5,118.46 415.8,119.23 416.1,118.66 416.4,118.92 416.7,118.53 417,119.63 417.3,119.1 417.6,119.22 417.9,118.92 418.2,118.84 418.5,119.47 418.8,118.2 419.1,118.77 419.4,118.32 419.7,118.4 420,118.9 420.3,118.83 420.6,118.82 420.9,118.56 421.2,119.19 421.5,119.45 421.8,119.58 422.1,118.93 422.4,118.5 422.7,118.07 423,117.99 423.3,118.57 423.6,118.28 423.9,119.69 424.2,118.72" fill="none" stroke="#5a9ad6" stroke-width="1.44" stroke-linejoin="round"/><polyline points="396,119 396.3,119 396.6,119 396.9,119.01 397.2,119.01 397.5,119.01 397.8,119.01 398.1,119.01 398.4,119.02 398.7,119.02 399,119.02 399.3,119.02 399.6,119.03 399.9,119.03 400.2,119.03 400.5,119.03 400.8,119.03 401.1,119.04 401.4,119.04 401.7,119.04 402,119.04 402.3,119.04 402.6,119.05 402.9,119.05 403.2,119.05 403.5,119.05 403.8,119.06 404.1,119.06 404.4,119.06 404.7,119.06 405,119.06 405.3,119.07 405.6,119.07 405.9,119.07 406.2,119.07 406.5,119.07 406.8,119.08 407.1,119.08 407.4,119.08 407.7,119.08 408,119.08 408.3,119.09 408.6,119.09 408.9,119.09 409.2,119.09 409.5,119.1 409.8,119.1 410.1,119.1 410.4,119.1 410.7,119.1 411,119.11 411.3,119.11 411.6,119.11 411.9,119.11 412.2,119.11 412.5,119.12 412.8,119.12 413.1,119.12 413.4,119.12 413.7,119.13 414,119.13 414.3,119.13 414.6,119.13 414.9,119.13 415.2,119.14 415.5,119.14 415.8,119.14 416.1,119.14 416.4,119.14 416.7,119.15 417,119.15 417.3,119.15 417.6,119.15 417.9,119.15 418.2,119.16 418.5,119.16 418.8,119.16 419.1,119.16 419.4,119.17 419.7,119.17 420,119.17 420.3,119.17 420.6,119.17 420.9,119.18 421.2,119.18 421.5,119.18 421.8,119.18 422.1,119.18 422.4,119.19 422.7,119.19 423,119.19 423.3,119.19 423.6,119.2 423.9,119.2 424.2,119.2" fill="none" stroke="#4d6688" stroke-width="0.3" opacity="0.5"/><polyline points="396,118.5 396.3,118.5 396.6,118.5 396.9,118.51 397.2,118.51 397.5,118.51 397.8,118.51 398.1,118.51 398.4,118.52 398.7,118.52 399,118.52 399.3,118.52 399.6,118.53 399.9,118.53 400.2,118.53 400.5,118.53 400.8,118.53 401.1,118.54 401.4,118.54 401.7,118.54 402,118.54 402.3,118.54 402.6,118.55 402.9,118.55 403.2,118.55 403.5,118.55 403.8,118.56 404.1,118.56 404.4,118.56 404.7,118.56 405,118.56 405.3,118.57 405.6,118.57 405.9,118.57 406.2,118.57 406.5,118.57 406.8,118.58 407.1,118.58 407.4,118.58 407.7,118.58 408,118.58 408.3,118.59 408.6,118.59 408.9,118.59 409.2,118.59 409.5,118.6 409.8,118.6 410.1,118.6 410.4,118.6 410.7,118.6 411,118.61 411.3,118.61 411.6,118.61 411.9,118.61 412.2,118.61 412.5,118.62 412.8,118.62 413.1,118.62 413.4,118.62 413.7,118.63 414,118.63 414.3,118.63 414.6,118.63 414.9,118.63 415.2,118.64 415.5,118.64 415.8,118.64 416.1,118.64 416.4,118.64 416.7,118.65 417,118.65 417.3,118.65 417.6,118.65 417.9,118.65 418.2,118.66 418.5,118.66 418.8,118.66 419.1,118.66 419.4,118.67 419.7,118.67 420,118.67 420.3,118.67 420.6,118.67 420.9,118.68 421.2,118.68 421.5,118.68 421.8,118.68 422.1,118.68 422.4,118.69 422.7,118.69 423,118.69 423.3,118.69 423.6,118.7 423.9,118.7 424.2,118.7" fill="none" stroke="#d46a42" stroke-width="0.7" opacity="0.9"/><polygon points="424.3,119.5 424.3,106.5 425.5,107 427,110 428.5,112.3 431.6,113.3 431.6,116.2 428,117.5 426,119" fill="#e0906c" opacity="0.72"/><polyline points="424.3,119 424.8,106.8 425.4,117.5 426,108 426.7,117 427.4,110 428.1,116.5 428.9,112.5 429.7,116 430.6,113.5 431.6,115" fill="none" stroke="#c85a3c" stroke-width="0.5" stroke-linejoin="round"/><polyline points="424.3,107 425.5,107.2 427,110 429,112.8 431.6,113.6" fill="none" stroke="#5aa0dc" stroke-width="0.9" stroke-linejoin="round"/><polyline points="426.5,118.5 429,117 431.6,116.2" fill="none" stroke="#5aa0dc" stroke-width="0.8" stroke-linejoin="round"/></g>
<rect x="396" y="104.6" width="35.6" height="25.4" fill="none" stroke="#a8a8a8" stroke-width="0.5"/>
<clipPath id="c7"><rect x="21.5" y="204.2" width="160.8" height="73.8"/></clipPath>
<path d="M21.5 277.5v-1.6M21.5 204.7v1.6M43.23 277.5v-1.6M43.23 204.7v1.6M64.96 277.5v-1.6M64.96 204.7v1.6M86.69 277.5v-1.6M86.69 204.7v1.6M108.42 277.5v-1.6M108.42 204.7v1.6M130.15 277.5v-1.6M130.15 204.7v1.6M151.88 277.5v-1.6M151.88 204.7v1.6M173.61 277.5v-1.6M173.61 204.7v1.6M21.5 274.3h1.6M182.3 274.3h-1.6M21.5 260.5h1.6M182.3 260.5h-1.6M21.5 246.6h1.6M182.3 246.6h-1.6M21.5 232.8h1.6M182.3 232.8h-1.6M21.5 219h1.6M182.3 219h-1.6M21.5 205.2h1.6M182.3 205.2h-1.6" stroke="#adadad" stroke-width="0.6" fill="none"/>
<text x="21.5" y="285.5" font-size="7.72" text-anchor="middle" fill="#484848" stroke="#484848" textLength="9.45" lengthAdjust="spacingAndGlyphs">198</text>
<text x="43.23" y="285.5" font-size="7.72" text-anchor="middle" fill="#484848" stroke="#484848" textLength="9.45" lengthAdjust="spacingAndGlyphs">203</text>
<text x="64.96" y="285.5" font-size="7.72" text-anchor="middle" fill="#484848" stroke="#484848" textLength="9.45" lengthAdjust="spacingAndGlyphs">208</text>
<text x="86.69" y="285.5" font-size="7.72" text-anchor="middle" fill="#484848" stroke="#484848" textLength="9.45" lengthAdjust="spacingAndGlyphs">213</text>
<text x="108.42" y="285.5" font-size="7.72" text-anchor="middle" fill="#484848" stroke="#484848" textLength="9.45" lengthAdjust="spacingAndGlyphs">218</text>
<text x="130.15" y="285.5" font-size="7.72" text-anchor="middle" fill="#484848" stroke="#484848" textLength="9.45" lengthAdjust="spacingAndGlyphs">223</text>
<text x="151.88" y="285.5" font-size="7.72" text-anchor="middle" fill="#484848" stroke="#484848" textLength="9.45" lengthAdjust="spacingAndGlyphs">228</text>
<text x="173.61" y="285.5" font-size="7.72" text-anchor="middle" fill="#484848" stroke="#484848" textLength="9.45" lengthAdjust="spacingAndGlyphs">233</text>
<text x="20.2" y="276.92" font-size="7.72" text-anchor="end" fill="#484848" stroke="#484848" textLength="7.88" lengthAdjust="spacingAndGlyphs">1.6</text>
<text x="20.2" y="263.12" font-size="7.72" text-anchor="end" fill="#484848" stroke="#484848" textLength="7.88" lengthAdjust="spacingAndGlyphs">1.8</text>
<text x="20.2" y="249.22" font-size="7.72" text-anchor="end" fill="#484848" stroke="#484848" textLength="3.15" lengthAdjust="spacingAndGlyphs">2</text>
<text x="20.2" y="235.42" font-size="7.72" text-anchor="end" fill="#484848" stroke="#484848" textLength="7.88" lengthAdjust="spacingAndGlyphs">2.2</text>
<text x="20.2" y="221.62" font-size="7.72" text-anchor="end" fill="#484848" stroke="#484848" textLength="7.88" lengthAdjust="spacingAndGlyphs">2.4</text>
<text x="20.2" y="207.82" font-size="7.72" text-anchor="end" fill="#484848" stroke="#484848" textLength="7.88" lengthAdjust="spacingAndGlyphs">2.6</text>
<text x="101.9" y="292.9" font-size="7.6" text-anchor="middle" fill="#484848" stroke="#484848" textLength="25.5" lengthAdjust="spacingAndGlyphs">Time (s)</text>
<text x="10.3" y="242" font-size="7" text-anchor="middle" fill="#484848" stroke="#484848" textLength="62.7" lengthAdjust="spacingAndGlyphs" transform="rotate(-90 10.3 242)">PA amplitude (mV)</text>
<g clip-path="url(#c7)"><polyline points="21.25,268.53 23.17,270.48 24.46,271.79 26,265 26.13,272.24 27.79,271.17 29.02,271.63 30.5,270.59 31.74,268.98 33,264.5 33.36,266.2 35,264.48 36.61,259.19 38.18,254.88 39.43,252.84 40.74,249.41 42.37,246.31 44.25,244.9 45.33,244.16 45.8,239.7 46.97,244.59 48.76,247.2 49.71,248.25 51.56,253.06 53.27,258.71 54.34,260.75 56.03,263.82 57.75,264.27 58.78,264.32 60.51,265.88 62.15,264.02 63.6,262.17 64.98,262.15 66.32,259.1 67.99,256.44 69.42,253.2 70.99,249.86 72.42,247.69 74.2,246.32 75.66,245.32 76.5,242.1 76.89,244.73 78.54,245.75 79.87,245.95 81.47,249.69 82.91,252.19 84.59,257.16 85.92,261.01 87.48,264.56 89.13,267.21 90.45,266.59 92.24,268.79 93.31,268.5 95.14,266.25 96.45,262.48 97.96,259.3 99.58,255.92 101.01,250.34 102.45,248.61 103.7,247.1 105.26,244.16 107.13,244.55 107.3,238.9 108.51,245.08 110.12,248.49 111.77,252.22 113.11,256.74 114.23,259.76 115.89,263.52 117.56,264.46 118.84,266.02 120.78,266.74 121.8,271.2 122.27,265.3 123.71,262.77 124.98,262.96 126.7,261.14 127.78,260.98 129.39,259.47 130.98,258.51 132.65,256.48 133.99,253.87 135.28,252.64 136.91,252.38 137.2,244.9 138.39,251.22 139.88,251.71 141.3,250.47 142.95,249.29 144.47,251.73 146.16,252.99 147.68,254.46 149.01,259.61 150.48,260.16 152.17,264.9 153.73,267.87 155.1,269.53 156.68,269.93 158.26,271.82 159.22,270.02 161.23,269.19 162.37,269.1 163.99,268.69 165.68,267.18 167.13,266.58 168.29,265.24 170.1,264.99 171.24,264.38 172.91,265.22 174.69,266.45 175.96,266.45 177.56,267.63 179.14,267.51 180.69,267.8 182.16,268.21" fill="none" stroke="#9dd6ea" stroke-width="0.35" opacity="0.7"/><g fill="#12a2c6"><circle cx="21.25" cy="268.53" r="1.3"/><circle cx="23.17" cy="270.48" r="1.3"/><circle cx="24.46" cy="271.79" r="1.3"/><circle cx="26" cy="265" r="1.3"/><circle cx="26.13" cy="272.24" r="1.3"/><circle cx="27.79" cy="271.17" r="1.3"/><circle cx="29.02" cy="271.63" r="1.3"/><circle cx="30.5" cy="270.59" r="1.3"/><circle cx="31.74" cy="268.98" r="1.3"/><circle cx="33" cy="264.5" r="1.3"/><circle cx="33.36" cy="266.2" r="1.3"/><circle cx="35" cy="264.48" r="1.3"/><circle cx="36.61" cy="259.19" r="1.3"/><circle cx="38.18" cy="254.88" r="1.3"/><circle cx="39.43" cy="252.84" r="1.3"/><circle cx="40.74" cy="249.41" r="1.3"/><circle cx="42.37" cy="246.31" r="1.3"/><circle cx="44.25" cy="244.9" r="1.3"/><circle cx="45.33" cy="244.16" r="1.3"/><circle cx="45.8" cy="239.7" r="1.3"/><circle cx="46.97" cy="244.59" r="1.3"/><circle cx="48.76" cy="247.2" r="1.3"/><circle cx="49.71" cy="248.25" r="1.3"/><circle cx="51.56" cy="253.06" r="1.3"/><circle cx="53.27" cy="258.71" r="1.3"/><circle cx="54.34" cy="260.75" r="1.3"/><circle cx="56.03" cy="263.82" r="1.3"/><circle cx="57.75" cy="264.27" r="1.3"/><circle cx="58.78" cy="264.32" r="1.3"/><circle cx="60.51" cy="265.88" r="1.3"/><circle cx="62.15" cy="264.02" r="1.3"/><circle cx="63.6" cy="262.17" r="1.3"/><circle cx="64.98" cy="262.15" r="1.3"/><circle cx="66.32" cy="259.1" r="1.3"/><circle cx="67.99" cy="256.44" r="1.3"/><circle cx="69.42" cy="253.2" r="1.3"/><circle cx="70.99" cy="249.86" r="1.3"/><circle cx="72.42" cy="247.69" r="1.3"/><circle cx="74.2" cy="246.32" r="1.3"/><circle cx="75.66" cy="245.32" r="1.3"/><circle cx="76.5" cy="242.1" r="1.3"/><circle cx="76.89" cy="244.73" r="1.3"/><circle cx="78.54" cy="245.75" r="1.3"/><circle cx="79.87" cy="245.95" r="1.3"/><circle cx="81.47" cy="249.69" r="1.3"/><circle cx="82.91" cy="252.19" r="1.3"/><circle cx="84.59" cy="257.16" r="1.3"/><circle cx="85.92" cy="261.01" r="1.3"/><circle cx="87.48" cy="264.56" r="1.3"/><circle cx="89.13" cy="267.21" r="1.3"/><circle cx="90.45" cy="266.59" r="1.3"/><circle cx="92.24" cy="268.79" r="1.3"/><circle cx="93.31" cy="268.5" r="1.3"/><circle cx="95.14" cy="266.25" r="1.3"/><circle cx="96.45" cy="262.48" r="1.3"/><circle cx="97.96" cy="259.3" r="1.3"/><circle cx="99.58" cy="255.92" r="1.3"/><circle cx="101.01" cy="250.34" r="1.3"/><circle cx="102.45" cy="248.61" r="1.3"/><circle cx="103.7" cy="247.1" r="1.3"/><circle cx="105.26" cy="244.16" r="1.3"/><circle cx="107.13" cy="244.55" r="1.3"/><circle cx="107.3" cy="238.9" r="1.3"/><circle cx="108.51" cy="245.08" r="1.3"/><circle cx="110.12" cy="248.49" r="1.3"/><circle cx="111.77" cy="252.22" r="1.3"/><circle cx="113.11" cy="256.74" r="1.3"/><circle cx="114.23" cy="259.76" r="1.3"/><circle cx="115.89" cy="263.52" r="1.3"/><circle cx="117.56" cy="264.46" r="1.3"/><circle cx="118.84" cy="266.02" r="1.3"/><circle cx="120.78" cy="266.74" r="1.3"/><circle cx="121.8" cy="271.2" r="1.3"/><circle cx="122.27" cy="265.3" r="1.3"/><circle cx="123.71" cy="262.77" r="1.3"/><circle cx="124.98" cy="262.96" r="1.3"/><circle cx="126.7" cy="261.14" r="1.3"/><circle cx="127.78" cy="260.98" r="1.3"/><circle cx="129.39" cy="259.47" r="1.3"/><circle cx="130.98" cy="258.51" r="1.3"/><circle cx="132.65" cy="256.48" r="1.3"/><circle cx="133.99" cy="253.87" r="1.3"/><circle cx="135.28" cy="252.64" r="1.3"/><circle cx="136.91" cy="252.38" r="1.3"/><circle cx="137.2" cy="244.9" r="1.3"/><circle cx="138.39" cy="251.22" r="1.3"/><circle cx="139.88" cy="251.71" r="1.3"/><circle cx="141.3" cy="250.47" r="1.3"/><circle cx="142.95" cy="249.29" r="1.3"/><circle cx="144.47" cy="251.73" r="1.3"/><circle cx="146.16" cy="252.99" r="1.3"/><circle cx="147.68" cy="254.46" r="1.3"/><circle cx="149.01" cy="259.61" r="1.3"/><circle cx="150.48" cy="260.16" r="1.3"/><circle cx="152.17" cy="264.9" r="1.3"/><circle cx="153.73" cy="267.87" r="1.3"/><circle cx="155.1" cy="269.53" r="1.3"/><circle cx="156.68" cy="269.93" r="1.3"/><circle cx="158.26" cy="271.82" r="1.3"/><circle cx="159.22" cy="270.02" r="1.3"/><circle cx="161.23" cy="269.19" r="1.3"/><circle cx="162.37" cy="269.1" r="1.3"/><circle cx="163.99" cy="268.69" r="1.3"/><circle cx="165.68" cy="267.18" r="1.3"/><circle cx="167.13" cy="266.58" r="1.3"/><circle cx="168.29" cy="265.24" r="1.3"/><circle cx="170.1" cy="264.99" r="1.3"/><circle cx="171.24" cy="264.38" r="1.3"/><circle cx="172.91" cy="265.22" r="1.3"/><circle cx="174.69" cy="266.45" r="1.3"/><circle cx="175.96" cy="266.45" r="1.3"/><circle cx="177.56" cy="267.63" r="1.3"/><circle cx="179.14" cy="267.51" r="1.3"/><circle cx="180.69" cy="267.8" r="1.3"/><circle cx="182.16" cy="268.21" r="1.3"/></g><polyline points="21.5,269.06 22.04,269.21 22.58,269.34 23.11,269.43 23.65,269.5 24.19,269.55 24.73,269.58 25.26,269.6 25.8,269.6 26.34,269.56 26.88,269.47 27.42,269.33 27.95,269.16 28.49,268.95 29.03,268.72 29.57,268.47 30.1,268.2 30.64,267.92 31.18,267.57 31.72,267.12 32.26,266.6 32.79,266.01 33.33,265.38 33.87,264.71 34.41,264.02 34.94,263.28 35.48,262.44 36.02,261.52 36.56,260.54 37.1,259.52 37.63,258.5 38.17,257.48 38.71,256.5 39.25,255.48 39.78,254.41 40.32,253.32 40.86,252.25 41.4,251.24 41.94,250.33 42.47,249.56 43.01,248.89 43.55,248.22 44.09,247.56 44.63,246.96 45.16,246.43 45.7,246.03 46.24,245.77 46.78,245.7 47.31,245.8 47.85,246.04 48.39,246.39 48.93,246.84 49.47,247.35 50,247.92 50.54,248.94 51.08,250.44 51.62,252.2 52.15,254.02 52.69,255.68 53.23,256.98 53.77,258.14 54.31,259.28 54.84,260.36 55.38,261.37 55.92,262.28 56.46,263.06 56.99,263.7 57.53,264.2 58.07,264.68 58.61,265.12 59.15,265.49 59.68,265.76 60.22,265.89 60.76,265.85 61.3,265.63 61.83,265.25 62.37,264.75 62.91,264.15 63.45,263.5 63.99,262.82 64.52,262.14 65.06,261.32 65.6,260.32 66.14,259.21 66.67,258.02 67.21,256.82 67.75,255.66 68.29,254.59 68.83,253.61 69.36,252.6 69.9,251.59 70.44,250.6 70.98,249.68 71.51,248.87 72.05,248.21 72.59,247.73 73.13,247.34 73.67,246.97 74.2,246.64 74.74,246.39 75.28,246.24 75.82,246.2 76.35,246.32 76.89,246.58 77.43,246.95 77.97,247.42 78.51,247.96 79.04,248.55 79.58,249.15 80.12,249.81 80.66,250.7 81.19,251.78 81.73,252.98 82.27,254.23 82.81,255.47 83.35,256.63 83.88,257.65 84.42,258.64 84.96,259.65 85.5,260.65 86.04,261.6 86.57,262.45 87.11,263.17 87.65,263.72 88.19,264.08 88.72,264.4 89.26,264.69 89.8,264.93 90.34,265.1 90.88,265.19 91.41,265.17 91.95,265 92.49,264.71 93.03,264.31 93.56,263.83 94.1,263.31 94.64,262.76 95.18,262.22 95.72,261.58 96.25,260.79 96.79,259.9 97.33,258.95 97.87,257.99 98.4,257.05 98.94,256.18 99.48,255.4 100.02,254.63 100.56,253.86 101.09,253.12 101.63,252.4 102.17,251.73 102.71,251.11 103.24,250.56 103.78,250.01 104.32,249.44 104.86,248.88 105.4,248.37 105.93,247.93 106.47,247.61 107.01,247.43 107.55,247.42 108.08,247.61 108.62,247.96 109.16,248.43 109.7,249.01 110.24,249.66 110.77,250.33 111.31,251.01 111.85,251.83 112.39,252.88 112.92,254.08 113.46,255.35 114,256.6 114.54,257.76 115.08,258.76 115.61,259.55 116.15,260.35 116.69,261.14 117.23,261.92 117.76,262.67 118.3,263.35 118.84,263.96 119.38,264.47 119.92,264.86 120.45,265.11 120.99,265.2 121.53,265.17 122.07,265.1 122.61,264.98 123.14,264.81 123.68,264.62 124.22,264.39 124.76,264.14 125.29,263.87 125.83,263.58 126.37,263.28 126.91,262.98 127.45,262.57 127.98,262.07 128.52,261.49 129.06,260.84 129.6,260.15 130.13,259.44 130.67,258.72 131.21,258.01 131.75,257.34 132.29,256.72 132.82,256.08 133.36,255.38 133.9,254.64 134.44,253.89 134.97,253.15 135.51,252.46 136.05,251.85 136.59,251.33 137.13,250.96 137.66,250.74 138.2,250.7 138.74,250.7 139.28,250.7 139.81,250.7 140.35,250.7 140.89,250.7 141.43,250.7 141.97,250.7 142.5,250.82 143.04,251.19 143.58,251.75 144.12,252.47 144.65,253.29 145.19,254.17 145.73,255.07 146.27,255.93 146.81,256.71 147.34,257.47 147.88,258.29 148.42,259.15 148.96,260.03 149.49,260.89 150.03,261.73 150.57,262.52 151.11,263.23 151.65,263.84 152.18,264.4 152.72,264.98 153.26,265.55 153.8,266.1 154.33,266.63 154.87,267.11 155.41,267.53 155.95,267.87 156.49,268.12 157.02,268.27 157.56,268.3 158.1,268.29 158.64,268.28 159.17,268.27 159.71,268.24 160.25,268.22 160.79,268.19 161.33,268.16 161.86,268.12 162.4,268.09 162.94,268.05 163.48,268.02 164.02,267.99 164.55,267.95 165.09,267.91 165.63,267.87 166.17,267.83 166.7,267.78 167.24,267.73 167.78,267.68 168.32,267.63 168.86,267.58 169.39,267.52 169.93,267.47 170.47,267.42 171.01,267.36 171.54,267.31 172.08,267.26 172.62,267.21 173.16,267.16 173.7,267.11 174.23,267.06 174.77,267.01 175.31,266.96 175.85,266.91 176.38,266.86 176.92,266.81 177.46,266.76 178,266.71 178.54,266.66 179.07,266.61 179.61,266.56 180.15,266.51 180.69,266.45 181.22,266.4 181.76,266.35 182.3,266.3" fill="none" stroke="#dc5a22" stroke-width="1.3" stroke-linejoin="round"/></g>
<rect x="21.5" y="204.7" width="160.8" height="72.8" fill="none" stroke="#adadad" stroke-width="0.7"/>
<circle cx="127" cy="211.8" r="1.2" fill="#12a2c6"/>
<path d="M125 220.6H129.8" stroke="#dc5a22" stroke-width="1.3"/>
<text x="129.8" y="213.4" font-size="7.6" text-anchor="start" fill="#484848" stroke="#484848" textLength="29.4" lengthAdjust="spacingAndGlyphs">Raw data</text>
<text x="129.8" y="222.6" font-size="7.6" text-anchor="start" fill="#484848" stroke="#484848" textLength="52" lengthAdjust="spacingAndGlyphs">Smoothed signal</text>
<text x="73.2" y="220.5" font-size="8.6" fill="#484848" stroke="#484848" textLength="46" lengthAdjust="spacingAndGlyphs">(g)35mA/cm²</text>
<rect x="33.3" y="204.8" width="36.1" height="26.5" fill="#fff"/>
<clipPath id="ic7"><rect x="33.3" y="204.8" width="36.1" height="26.5"/></clipPath>
<text x="33.8" y="236.8" font-size="4.18" text-anchor="middle" fill="#6a6a6a" stroke="#6a6a6a" textLength="1.9" lengthAdjust="spacingAndGlyphs">0</text>
<text x="44.9" y="236.8" font-size="4.18" text-anchor="middle" fill="#6a6a6a" stroke="#6a6a6a" textLength="3.8" lengthAdjust="spacingAndGlyphs">75</text>
<text x="56" y="236.8" font-size="4.18" text-anchor="middle" fill="#6a6a6a" stroke="#6a6a6a" textLength="5.7" lengthAdjust="spacingAndGlyphs">150</text>
<text x="66.6" y="236.8" font-size="4.18" text-anchor="middle" fill="#6a6a6a" stroke="#6a6a6a" textLength="5.7" lengthAdjust="spacingAndGlyphs">225</text>
<text x="32.1" y="207.08" font-size="3.76" text-anchor="end" fill="#6a6a6a" stroke="#6a6a6a" textLength="4.28" lengthAdjust="spacingAndGlyphs">2.2</text>
<text x="32.1" y="212.78" font-size="3.76" text-anchor="end" fill="#6a6a6a" stroke="#6a6a6a" textLength="1.71" lengthAdjust="spacingAndGlyphs">2</text>
<text x="32.1" y="218.48" font-size="3.76" text-anchor="end" fill="#6a6a6a" stroke="#6a6a6a" textLength="4.28" lengthAdjust="spacingAndGlyphs">1.8</text>
<text x="32.1" y="224.28" font-size="3.76" text-anchor="end" fill="#6a6a6a" stroke="#6a6a6a" textLength="4.28" lengthAdjust="spacingAndGlyphs">1.6</text>
<text x="32.1" y="229.88" font-size="3.76" text-anchor="end" fill="#6a6a6a" stroke="#6a6a6a" textLength="4.28" lengthAdjust="spacingAndGlyphs">1.4</text>
<path d="M33.8 231.3v-1M33.8 204.8v1M44.9 231.3v-1M44.9 204.8v1M56 231.3v-1M56 204.8v1M66.6 231.3v-1M66.6 204.8v1M33.3 205.7h1M69.4 205.7h-1M33.3 211.4h1M69.4 211.4h-1M33.3 217.1h1M69.4 217.1h-1M33.3 222.9h1M69.4 222.9h-1M33.3 228.5h1M69.4 228.5h-1" stroke="#b0b0b0" stroke-width="0.4" fill="none"/>
<text x="58.5" y="240.8" font-size="4.2" text-anchor="middle" fill="#6a6a6a" stroke="#6a6a6a" textLength="13.6" lengthAdjust="spacingAndGlyphs">Time (s)</text>
<text x="25.4" y="221.05" font-size="3.6" text-anchor="middle" fill="#8a8a8a" stroke="#8a8a8a" textLength="30" lengthAdjust="spacingAndGlyphs" transform="rotate(-90 25.4 221.05)">PA amplitude (mV)</text>
<g clip-path="url(#ic7)"><path d="M34.2 215.5V231.3" stroke="#eaa898" stroke-width="0.9"/><polyline points="33.3,220.32 33.6,220.05 33.9,219.86 34.2,220.33 34.5,220.02 34.8,220.16 35.1,220.2 35.4,220.27 35.7,220.46 36,219.97 36.3,220.13 36.6,220.52 36.9,220 37.2,220.38 37.5,220.54 37.8,220.55 38.1,220.46 38.4,220.23 38.7,220.44 39,220.27 39.3,220.43 39.6,219.9 39.9,220.09 40.2,220.49 40.5,220.75 40.8,220.53 41.1,220.81 41.4,220.6 41.7,221.2 42,220.79 42.3,220.93 42.6,220.37 42.9,221.12 43.2,220.78 43.5,220.81 43.8,220.63 44.1,220.85 44.4,220.69 44.7,221.13 45,221.02 45.3,220.84 45.6,220.67 45.9,220.6 46.2,220.74 46.5,221.18 46.8,220.77 47.1,220.46 47.4,220.93 47.7,220.56 48,220.51 48.3,220.81 48.6,220.68 48.9,220.94 49.2,220.79 49.5,220.69 49.8,221.09 50.1,220.84 50.4,220.94 50.7,221.33 51,220.98 51.3,221.17 51.6,220.79 51.9,221.04 52.2,220.98 52.5,221.23 52.8,220.7 53.1,221 53.4,220.32 53.7,220.63 54,220.58 54.3,220.92 54.6,220.57 54.9,220.93 55.2,221.14 55.5,220.48 55.8,220.45 56.1,221.19 56.4,220.66 56.7,220.73 57,220.58 57.3,220.65 57.6,220.76 57.9,220.42 58.2,220.61 58.5,220.36 58.8,221.3 59.1,221.01 59.4,220.42 59.7,220.18 60,220.8 60.3,220.77 60.6,220.51 60.9,220.63 61.2,220.73 61.5,220.67 61.8,220.94 62.1,220.87 62.4,220.28 62.7,220.53" fill="none" stroke="#a6d2f0" stroke-width="2.75" stroke-linejoin="round"/><polyline points="33.3,220.43 33.6,220.05 33.9,220.29 34.2,220.3 34.5,220.3 34.8,220.14 35.1,220.55 35.4,220.14 35.7,220.27 36,220.22 36.3,220.21 36.6,220.45 36.9,220.36 37.2,220.44 37.5,220.36 37.8,220.7 38.1,220.2 38.4,220.69 38.7,220.17 39,220.2 39.3,220.5 39.6,220.51 39.9,220.78 40.2,220.17 40.5,220.62 40.8,220.35 41.1,220.51 41.4,220.63 41.7,220.73 42,220.63 42.3,220.87 42.6,220.41 42.9,220.77 43.2,220.72 43.5,220.7 43.8,220.68 44.1,220.87 44.4,220.74 44.7,220.95 45,220.9 45.3,220.53 45.6,220.76 45.9,220.8 46.2,220.67 46.5,220.87 46.8,220.8 47.1,220.83 47.4,220.52 47.7,220.86 48,220.83 48.3,220.91 48.6,221.09 48.9,220.91 49.2,220.74 49.5,221.08 49.8,221.07 50.1,220.94 50.4,220.87 50.7,220.79 51,221.06 51.3,220.94 51.6,220.82 51.9,221.18 52.2,220.96 52.5,220.88 52.8,220.89 53.1,220.9 53.4,220.67 53.7,220.57 54,220.42 54.3,220.94 54.6,221.05 54.9,220.87 55.2,220.87 55.5,220.93 55.8,221.06 56.1,220.72 56.4,220.72 56.7,220.74 57,220.95 57.3,220.7 57.6,220.66 57.9,220.69 58.2,220.63 58.5,220.62 58.8,220.64 59.1,220.79 59.4,220.76 59.7,220.43 60,220.65 60.3,220.73 60.6,220.73 60.9,220.69 61.2,220.65 61.5,220.5 61.8,220.89 62.1,220.5 62.4,220.4 62.7,220.69" fill="none" stroke="#5a9ad6" stroke-width="1.52" stroke-linejoin="round"/><polyline points="33.3,220.6 33.6,220.61 33.9,220.63 34.2,220.64 34.5,220.66 34.8,220.67 35.1,220.69 35.4,220.7 35.7,220.71 36,220.73 36.3,220.74 36.6,220.76 36.9,220.77 37.2,220.79 37.5,220.8 37.8,220.82 38.1,220.83 38.4,220.84 38.7,220.86 39,220.87 39.3,220.89 39.6,220.9 39.9,220.92 40.2,220.93 40.5,220.94 40.8,220.96 41.1,220.97 41.4,220.99 41.7,221 42,221.02 42.3,221.03 42.6,221.05 42.9,221.06 43.2,221.07 43.5,221.09 43.8,221.1 44.1,221.12 44.4,221.13 44.7,221.15 45,221.16 45.3,221.17 45.6,221.19 45.9,221.2 46.2,221.22 46.5,221.23 46.8,221.25 47.1,221.26 47.4,221.28 47.7,221.29 48,221.3 48.3,221.32 48.6,221.33 48.9,221.35 49.2,221.36 49.5,221.38 49.8,221.39 50.1,221.4 50.4,221.38 50.7,221.37 51,221.36 51.3,221.35 51.6,221.34 51.9,221.33 52.2,221.31 52.5,221.3 52.8,221.29 53.1,221.28 53.4,221.27 53.7,221.26 54,221.24 54.3,221.23 54.6,221.22 54.9,221.21 55.2,221.2 55.5,221.19 55.8,221.17 56.1,221.16 56.4,221.15 56.7,221.14 57,221.13 57.3,221.11 57.6,221.1 57.9,221.09 58.2,221.08 58.5,221.07 58.8,221.06 59.1,221.04 59.4,221.03 59.7,221.02 60,221.01 60.3,221 60.6,220.99 60.9,220.97 61.2,220.96 61.5,220.95 61.8,220.94 62.1,220.93 62.4,220.92 62.7,220.9" fill="none" stroke="#4d6688" stroke-width="0.3" opacity="0.5"/><polyline points="33.3,220.1 33.6,220.11 33.9,220.13 34.2,220.14 34.5,220.16 34.8,220.17 35.1,220.19 35.4,220.2 35.7,220.21 36,220.23 36.3,220.24 36.6,220.26 36.9,220.27 37.2,220.29 37.5,220.3 37.8,220.32 38.1,220.33 38.4,220.34 38.7,220.36 39,220.37 39.3,220.39 39.6,220.4 39.9,220.42 40.2,220.43 40.5,220.44 40.8,220.46 41.1,220.47 41.4,220.49 41.7,220.5 42,220.52 42.3,220.53 42.6,220.55 42.9,220.56 43.2,220.57 43.5,220.59 43.8,220.6 44.1,220.62 44.4,220.63 44.7,220.65 45,220.66 45.3,220.67 45.6,220.69 45.9,220.7 46.2,220.72 46.5,220.73 46.8,220.75 47.1,220.76 47.4,220.78 47.7,220.79 48,220.8 48.3,220.82 48.6,220.83 48.9,220.85 49.2,220.86 49.5,220.88 49.8,220.89 50.1,220.9 50.4,220.88 50.7,220.87 51,220.86 51.3,220.85 51.6,220.84 51.9,220.83 52.2,220.81 52.5,220.8 52.8,220.79 53.1,220.78 53.4,220.77 53.7,220.76 54,220.74 54.3,220.73 54.6,220.72 54.9,220.71 55.2,220.7 55.5,220.69 55.8,220.67 56.1,220.66 56.4,220.65 56.7,220.64 57,220.63 57.3,220.61 57.6,220.6 57.9,220.59 58.2,220.58 58.5,220.57 58.8,220.56 59.1,220.54 59.4,220.53 59.7,220.52 60,220.51 60.3,220.5 60.6,220.49 60.9,220.47 61.2,220.46 61.5,220.45 61.8,220.44 62.1,220.43 62.4,220.42 62.7,220.4" fill="none" stroke="#d46a42" stroke-width="0.7" opacity="0.9"/><polygon points="62.8,220.5 62.8,208 64.5,208.5 66.4,211 66.4,220.5" fill="#eeb4a2" opacity="0.54"/><polyline points="62.8,218 63.2,208.2 63.8,219.5 64.4,208.8 65,219.5 65.6,210 66.2,219 66.4,220" fill="none" stroke="#d9705e" stroke-width="0.5" stroke-linejoin="round"/><polyline points="62.9,211 63.5,208.3 64.6,208.8" fill="none" stroke="#69b2e2" stroke-width="0.9" stroke-linejoin="round"/><polyline points="66.4,220.2 66.7,220.2 67,220.2 67.3,220.2 67.6,220.2 67.9,220.2 68.2,220.2 68.5,220.2 68.8,220.2 69.1,220.2 69.4,220.2" fill="none" stroke="#a6d2f0" stroke-width="2.32" stroke-linejoin="round"/><polyline points="66.4,220.2 66.7,220.2 67,220.2 67.3,220.2 67.6,220.2 67.9,220.2 68.2,220.2 68.5,220.2 68.8,220.2 69.1,220.2 69.4,220.2" fill="none" stroke="#5a9ad6" stroke-width="1.28" stroke-linejoin="round"/><polyline points="66.4,220.6 66.7,220.6 67,220.6 67.3,220.6 67.6,220.6 67.9,220.6 68.2,220.6 68.5,220.6 68.8,220.6 69.1,220.6 69.4,220.6" fill="none" stroke="#4d6688" stroke-width="0.3" opacity="0.5"/><polyline points="66.4,220.1 66.7,220.1 67,220.1 67.3,220.1 67.6,220.1 67.9,220.1 68.2,220.1 68.5,220.1 68.8,220.1 69.1,220.1 69.4,220.1" fill="none" stroke="#d46a42" stroke-width="0.7" opacity="0.9"/></g>
<rect x="33.3" y="204.8" width="36.1" height="26.5" fill="none" stroke="#a8a8a8" stroke-width="0.5"/>
<clipPath id="c8"><rect x="202.7" y="204.9" width="156.6" height="73.1"/></clipPath>
<path d="M207.75 277.5v-1.6M207.75 205.4v1.6M233.01 277.5v-1.6M233.01 205.4v1.6M258.27 277.5v-1.6M258.27 205.4v1.6M283.53 277.5v-1.6M283.53 205.4v1.6M308.79 277.5v-1.6M308.79 205.4v1.6M334.05 277.5v-1.6M334.05 205.4v1.6M359.31 277.5v-1.6M359.31 205.4v1.6M202.7 268.3h1.6M359.3 268.3h-1.6M202.7 247.9h1.6M359.3 247.9h-1.6M202.7 227.5h1.6M359.3 227.5h-1.6M202.7 207.1h1.6M359.3 207.1h-1.6" stroke="#adadad" stroke-width="0.6" fill="none"/>
<text x="207.75" y="285.5" font-size="7.6" text-anchor="middle" fill="#484848" stroke="#484848" textLength="9.3" lengthAdjust="spacingAndGlyphs">200</text>
<text x="233.01" y="285.5" font-size="7.6" text-anchor="middle" fill="#484848" stroke="#484848" textLength="9.3" lengthAdjust="spacingAndGlyphs">205</text>
<text x="258.27" y="285.5" font-size="7.6" text-anchor="middle" fill="#484848" stroke="#484848" textLength="9.3" lengthAdjust="spacingAndGlyphs">210</text>
<text x="283.53" y="285.5" font-size="7.6" text-anchor="middle" fill="#484848" stroke="#484848" textLength="9.3" lengthAdjust="spacingAndGlyphs">215</text>
<text x="308.79" y="285.5" font-size="7.6" text-anchor="middle" fill="#484848" stroke="#484848" textLength="9.3" lengthAdjust="spacingAndGlyphs">220</text>
<text x="334.05" y="285.5" font-size="7.6" text-anchor="middle" fill="#484848" stroke="#484848" textLength="9.3" lengthAdjust="spacingAndGlyphs">225</text>
<text x="359.31" y="285.5" font-size="7.6" text-anchor="middle" fill="#484848" stroke="#484848" textLength="9.3" lengthAdjust="spacingAndGlyphs">230</text>
<text x="201.4" y="270.88" font-size="7.6" text-anchor="end" fill="#484848" stroke="#484848" textLength="7.75" lengthAdjust="spacingAndGlyphs">1.4</text>
<text x="201.4" y="250.48" font-size="7.6" text-anchor="end" fill="#484848" stroke="#484848" textLength="7.75" lengthAdjust="spacingAndGlyphs">1.6</text>
<text x="201.4" y="230.08" font-size="7.6" text-anchor="end" fill="#484848" stroke="#484848" textLength="7.75" lengthAdjust="spacingAndGlyphs">1.8</text>
<text x="201.4" y="209.68" font-size="7.6" text-anchor="end" fill="#484848" stroke="#484848" textLength="3.1" lengthAdjust="spacingAndGlyphs">2</text>
<text x="281.6" y="292.9" font-size="7.6" text-anchor="middle" fill="#484848" stroke="#484848" textLength="25.1" lengthAdjust="spacingAndGlyphs">Time (s)</text>
<text x="190.2" y="241.5" font-size="7" text-anchor="middle" fill="#484848" stroke="#484848" textLength="62" lengthAdjust="spacingAndGlyphs" transform="rotate(-90 190.2 241.5)">PA amplitude (mV)</text>
<g clip-path="url(#c8)"><polyline points="202.94,272.73 204.6,273.51 206.14,270.2 207.5,275.2 207.52,268.49 208.93,266.76 210.39,263.5 212.26,258.51 213.84,253.78 215.51,249.99 217.09,247.82 218.74,244.11 220.33,242.87 220.4,237.3 222.07,244.04 222.5,238.5 223.64,245.32 225.18,243.3 226.65,247.37 228.17,250.98 230.2,253.94 231.39,256.46 232.92,261.53 234.42,264.36 236.61,268.18 237.66,269.58 239.39,270.24 240.83,269.45 242.52,270.13 244.23,267.64 246.15,262.36 247.4,258.81 249.41,255.44 250.4,253.57 252.21,251.02 253.5,246.2 253.82,251.54 255.5,247.5 255.67,253.23 257.38,253.63 258.58,254.29 260.26,256.56 261.75,261.05 263.69,262.63 265.19,266.24 266.42,266.98 268.37,267.09 270.09,268.7 271.2,269.76 273.07,270.82 274.89,271.44 276.61,272.65 277.95,271.76 279.2,269.11 281.07,266.91 282.5,264.45 284.38,262.15 285.72,260.81 287.28,257.81 287.5,257.5 289.12,259.47 290.44,260.33 292.45,263.01 294.18,266.43 295.78,270.51 297.02,272.28 298.76,274.63 300.4,273.68 301.91,274.65 303.48,273.9 304.79,271.99 306.42,271.2 308.26,272.34 309.86,273.72 311.3,272.06 313.12,271.56 314.76,270.68 316.44,270.1 317.78,268.89 319,262.5 319.44,266.68 321.31,266.75 322.76,266.95 324.43,266.48 325.91,268.64 327.71,271.49 329.24,273.25 330.93,274.25 332.11,276.08 333.77,274.54 335.48,271.5 337.1,267.94 338.77,265.98 340.5,263.29 341.92,261.38 343.78,260.61 345.24,261.53 346,255 346.49,261.13 348.38,261.91 349.94,260.2 351.67,260.85 353.3,261.1 354.57,258.94 356.07,259.7 357.99,256.06" fill="none" stroke="#9dd6ea" stroke-width="0.35" opacity="0.7"/><g fill="#12a2c6"><circle cx="202.94" cy="272.73" r="1.3"/><circle cx="204.6" cy="273.51" r="1.3"/><circle cx="206.14" cy="270.2" r="1.3"/><circle cx="207.5" cy="275.2" r="1.3"/><circle cx="207.52" cy="268.49" r="1.3"/><circle cx="208.93" cy="266.76" r="1.3"/><circle cx="210.39" cy="263.5" r="1.3"/><circle cx="212.26" cy="258.51" r="1.3"/><circle cx="213.84" cy="253.78" r="1.3"/><circle cx="215.51" cy="249.99" r="1.3"/><circle cx="217.09" cy="247.82" r="1.3"/><circle cx="218.74" cy="244.11" r="1.3"/><circle cx="220.33" cy="242.87" r="1.3"/><circle cx="220.4" cy="237.3" r="1.3"/><circle cx="222.07" cy="244.04" r="1.3"/><circle cx="222.5" cy="238.5" r="1.3"/><circle cx="223.64" cy="245.32" r="1.3"/><circle cx="225.18" cy="243.3" r="1.3"/><circle cx="226.65" cy="247.37" r="1.3"/><circle cx="228.17" cy="250.98" r="1.3"/><circle cx="230.2" cy="253.94" r="1.3"/><circle cx="231.39" cy="256.46" r="1.3"/><circle cx="232.92" cy="261.53" r="1.3"/><circle cx="234.42" cy="264.36" r="1.3"/><circle cx="236.61" cy="268.18" r="1.3"/><circle cx="237.66" cy="269.58" r="1.3"/><circle cx="239.39" cy="270.24" r="1.3"/><circle cx="240.83" cy="269.45" r="1.3"/><circle cx="242.52" cy="270.13" r="1.3"/><circle cx="244.23" cy="267.64" r="1.3"/><circle cx="246.15" cy="262.36" r="1.3"/><circle cx="247.4" cy="258.81" r="1.3"/><circle cx="249.41" cy="255.44" r="1.3"/><circle cx="250.4" cy="253.57" r="1.3"/><circle cx="252.21" cy="251.02" r="1.3"/><circle cx="253.5" cy="246.2" r="1.3"/><circle cx="253.82" cy="251.54" r="1.3"/><circle cx="255.5" cy="247.5" r="1.3"/><circle cx="255.67" cy="253.23" r="1.3"/><circle cx="257.38" cy="253.63" r="1.3"/><circle cx="258.58" cy="254.29" r="1.3"/><circle cx="260.26" cy="256.56" r="1.3"/><circle cx="261.75" cy="261.05" r="1.3"/><circle cx="263.69" cy="262.63" r="1.3"/><circle cx="265.19" cy="266.24" r="1.3"/><circle cx="266.42" cy="266.98" r="1.3"/><circle cx="268.37" cy="267.09" r="1.3"/><circle cx="270.09" cy="268.7" r="1.3"/><circle cx="271.2" cy="269.76" r="1.3"/><circle cx="273.07" cy="270.82" r="1.3"/><circle cx="274.89" cy="271.44" r="1.3"/><circle cx="276.61" cy="272.65" r="1.3"/><circle cx="277.95" cy="271.76" r="1.3"/><circle cx="279.2" cy="269.11" r="1.3"/><circle cx="281.07" cy="266.91" r="1.3"/><circle cx="282.5" cy="264.45" r="1.3"/><circle cx="284.38" cy="262.15" r="1.3"/><circle cx="285.72" cy="260.81" r="1.3"/><circle cx="287.28" cy="257.81" r="1.3"/><circle cx="287.5" cy="257.5" r="1.3"/><circle cx="289.12" cy="259.47" r="1.3"/><circle cx="290.44" cy="260.33" r="1.3"/><circle cx="292.45" cy="263.01" r="1.3"/><circle cx="294.18" cy="266.43" r="1.3"/><circle cx="295.78" cy="270.51" r="1.3"/><circle cx="297.02" cy="272.28" r="1.3"/><circle cx="298.76" cy="274.63" r="1.3"/><circle cx="300.4" cy="273.68" r="1.3"/><circle cx="301.91" cy="274.65" r="1.3"/><circle cx="303.48" cy="273.9" r="1.3"/><circle cx="304.79" cy="271.99" r="1.3"/><circle cx="306.42" cy="271.2" r="1.3"/><circle cx="308.26" cy="272.34" r="1.3"/><circle cx="309.86" cy="273.72" r="1.3"/><circle cx="311.3" cy="272.06" r="1.3"/><circle cx="313.12" cy="271.56" r="1.3"/><circle cx="314.76" cy="270.68" r="1.3"/><circle cx="316.44" cy="270.1" r="1.3"/><circle cx="317.78" cy="268.89" r="1.3"/><circle cx="319" cy="262.5" r="1.3"/><circle cx="319.44" cy="266.68" r="1.3"/><circle cx="321.31" cy="266.75" r="1.3"/><circle cx="322.76" cy="266.95" r="1.3"/><circle cx="324.43" cy="266.48" r="1.3"/><circle cx="325.91" cy="268.64" r="1.3"/><circle cx="327.71" cy="271.49" r="1.3"/><circle cx="329.24" cy="273.25" r="1.3"/><circle cx="330.93" cy="274.25" r="1.3"/><circle cx="332.11" cy="276.08" r="1.3"/><circle cx="333.77" cy="274.54" r="1.3"/><circle cx="335.48" cy="271.5" r="1.3"/><circle cx="337.1" cy="267.94" r="1.3"/><circle cx="338.77" cy="265.98" r="1.3"/><circle cx="340.5" cy="263.29" r="1.3"/><circle cx="341.92" cy="261.38" r="1.3"/><circle cx="343.78" cy="260.61" r="1.3"/><circle cx="345.24" cy="261.53" r="1.3"/><circle cx="346" cy="255" r="1.3"/><circle cx="346.49" cy="261.13" r="1.3"/><circle cx="348.38" cy="261.91" r="1.3"/><circle cx="349.94" cy="260.2" r="1.3"/><circle cx="351.67" cy="260.85" r="1.3"/><circle cx="353.3" cy="261.1" r="1.3"/><circle cx="354.57" cy="258.94" r="1.3"/><circle cx="356.07" cy="259.7" r="1.3"/><circle cx="357.99" cy="256.06" r="1.3"/></g><polyline points="202.7,270.4 203.22,270.35 203.75,270.23 204.27,270.06 204.79,269.84 205.32,269.58 205.84,269.3 206.37,269 206.89,268.68 207.41,268.28 207.94,267.78 208.46,267.19 208.98,266.52 209.51,265.78 210.03,264.98 210.56,264.14 211.08,263.19 211.6,262 212.13,260.64 212.65,259.19 213.17,257.72 213.7,256.31 214.22,254.98 214.75,253.6 215.27,252.2 215.79,250.83 216.32,249.56 216.84,248.45 217.36,247.53 217.89,246.64 218.41,245.75 218.94,244.92 219.46,244.17 219.98,243.56 220.51,243.13 221.03,242.91 221.55,242.93 222.08,243.06 222.6,243.28 223.13,243.57 223.65,243.93 224.17,244.32 224.7,244.8 225.22,245.57 225.74,246.59 226.27,247.76 226.79,248.99 227.32,250.19 227.84,251.28 228.36,252.35 228.89,253.45 229.41,254.55 229.93,255.64 230.46,256.72 230.98,257.76 231.51,258.75 232.03,259.7 232.55,260.7 233.08,261.71 233.6,262.68 234.12,263.59 234.65,264.39 235.17,265.04 235.7,265.5 236.22,265.84 236.74,266.16 237.27,266.46 237.79,266.74 238.31,266.98 238.84,267.18 239.36,267.34 239.89,267.44 240.41,267.5 240.93,267.48 241.46,267.37 241.98,267.19 242.5,266.93 243.03,266.62 243.55,266.27 244.08,265.89 244.6,265.5 245.12,264.99 245.65,264.3 246.17,263.46 246.69,262.53 247.22,261.57 247.74,260.63 248.27,259.75 248.79,258.98 249.31,258.23 249.84,257.46 250.36,256.7 250.88,255.97 251.41,255.32 251.93,254.77 252.46,254.34 252.98,254.06 253.5,253.8 254.03,253.56 254.55,253.35 255.07,253.17 255.6,253.03 256.12,252.94 256.65,252.9 257.17,252.99 257.69,253.27 258.22,253.71 258.74,254.26 259.26,254.89 259.79,255.54 260.31,256.24 260.84,257.19 261.36,258.32 261.88,259.53 262.41,260.73 262.93,261.81 263.45,262.73 263.98,263.62 264.5,264.51 265.03,265.35 265.55,266.14 266.07,266.85 266.6,267.46 267.12,267.94 267.64,268.33 268.17,268.71 268.69,269.07 269.22,269.4 269.74,269.7 270.26,269.96 270.79,270.17 271.31,270.31 271.83,270.39 272.36,270.4 272.88,270.38 273.41,270.33 273.93,270.27 274.45,270.19 274.98,270.09 275.5,269.98 276.02,269.85 276.55,269.7 277.07,269.53 277.6,269.16 278.12,268.59 278.64,267.92 279.17,267.23 279.69,266.6 280.21,266.11 280.74,265.66 281.26,265.22 281.79,264.81 282.31,264.44 282.83,264.1 283.36,263.82 283.88,263.54 284.4,263.25 284.93,262.99 285.45,262.74 285.98,262.54 286.5,262.39 287.02,262.31 287.55,262.31 288.07,262.39 288.59,262.53 289.12,262.73 289.64,262.97 290.17,263.25 290.69,263.54 291.21,263.85 291.74,264.21 292.26,264.71 292.78,265.32 293.31,266 293.83,266.72 294.36,267.45 294.88,268.15 295.4,268.8 295.93,269.36 296.45,269.81 296.97,270.25 297.5,270.71 298.02,271.16 298.55,271.59 299.07,272.01 299.59,272.4 300.12,272.75 300.64,273.05 301.16,273.29 301.69,273.47 302.21,273.58 302.74,273.6 303.26,273.6 303.78,273.59 304.31,273.57 304.83,273.55 305.35,273.52 305.88,273.49 306.4,273.46 306.93,273.42 307.45,273.38 307.97,273.33 308.5,273.27 309.02,273.12 309.54,272.87 310.07,272.54 310.59,272.16 311.12,271.73 311.64,271.29 312.16,270.84 312.69,270.41 313.21,270.02 313.73,269.69 314.26,269.41 314.78,269.11 315.31,268.81 315.83,268.51 316.35,268.23 316.88,267.98 317.4,267.77 317.92,267.61 318.45,267.52 318.97,267.5 319.5,267.55 320.02,267.64 320.54,267.77 321.07,267.92 321.59,268.09 322.11,268.27 322.64,268.45 323.16,268.62 323.69,268.84 324.21,269.08 324.73,269.34 325.26,269.6 325.78,269.87 326.3,270.13 326.83,270.37 327.35,270.58 327.88,270.76 328.4,270.93 328.92,271.11 329.45,271.28 329.97,271.44 330.49,271.56 331.02,271.65 331.54,271.7 332.07,271.68 332.59,271.59 333.11,271.44 333.64,271.23 334.16,270.98 334.68,270.7 335.21,270.39 335.73,270.07 336.26,269.75 336.78,269.42 337.3,269 337.83,268.5 338.35,267.95 338.87,267.36 339.4,266.75 339.92,266.16 340.45,265.59 340.97,265.07 341.49,264.63 342.02,264.21 342.54,263.8 343.06,263.41 343.59,263.02 344.11,262.65 344.64,262.29 345.16,261.95 345.68,261.62 346.21,261.3 346.73,261 347.25,260.72 347.78,260.46 348.3,260.21 348.83,259.96 349.35,259.71 349.87,259.47 350.4,259.24 350.92,259.03 351.44,258.83 351.97,258.65 352.49,258.5 353.02,258.38 353.54,258.29 354.06,258.22 354.59,258.15 355.11,258.09 355.63,258.03 356.16,257.97 356.68,257.92 357.21,257.88 357.73,257.85 358.25,257.82 358.78,257.81 359.3,257.8" fill="none" stroke="#dc5a22" stroke-width="1.3" stroke-linejoin="round"/></g>
<rect x="202.7" y="205.4" width="156.6" height="72.1" fill="none" stroke="#adadad" stroke-width="0.7"/>
<circle cx="305.4" cy="213.4" r="1.2" fill="#12a2c6"/>
<path d="M303 221.8H307.8" stroke="#dc5a22" stroke-width="1.3"/>
<text x="307.8" y="215.2" font-size="7.6" text-anchor="start" fill="#484848" stroke="#484848" textLength="29.2" lengthAdjust="spacingAndGlyphs">Raw data</text>
<text x="307.8" y="223.4" font-size="7.6" text-anchor="start" fill="#484848" stroke="#484848" textLength="49.8" lengthAdjust="spacingAndGlyphs">Smoothed signal</text>
<text x="250.5" y="220.7" font-size="8.6" fill="#484848" stroke="#484848" textLength="45.3" lengthAdjust="spacingAndGlyphs">(h)40mA/cm²</text>
<rect x="214.5" y="205.8" width="35.4" height="25.5" fill="#fff"/>
<clipPath id="ic8"><rect x="214.5" y="205.8" width="35.4" height="25.5"/></clipPath>
<text x="220.4" y="235.7" font-size="3.85" text-anchor="middle" fill="#6a6a6a" stroke="#6a6a6a" textLength="3.5" lengthAdjust="spacingAndGlyphs">50</text>
<text x="228" y="235.7" font-size="3.85" text-anchor="middle" fill="#6a6a6a" stroke="#6a6a6a" textLength="5.25" lengthAdjust="spacingAndGlyphs">100</text>
<text x="236.3" y="235.7" font-size="3.85" text-anchor="middle" fill="#6a6a6a" stroke="#6a6a6a" textLength="5.25" lengthAdjust="spacingAndGlyphs">150</text>
<text x="244" y="235.7" font-size="3.85" text-anchor="middle" fill="#6a6a6a" stroke="#6a6a6a" textLength="5.25" lengthAdjust="spacingAndGlyphs">200</text>
<text x="213.3" y="213.87" font-size="3.47" text-anchor="end" fill="#6a6a6a" stroke="#6a6a6a" textLength="3.94" lengthAdjust="spacingAndGlyphs">1.6</text>
<text x="213.3" y="219.87" font-size="3.47" text-anchor="end" fill="#6a6a6a" stroke="#6a6a6a" textLength="3.94" lengthAdjust="spacingAndGlyphs">1.4</text>
<text x="213.3" y="225.97" font-size="3.47" text-anchor="end" fill="#6a6a6a" stroke="#6a6a6a" textLength="3.94" lengthAdjust="spacingAndGlyphs">1.2</text>
<text x="213.3" y="232.07" font-size="3.47" text-anchor="end" fill="#6a6a6a" stroke="#6a6a6a" textLength="1.57" lengthAdjust="spacingAndGlyphs">1</text>
<path d="M220.4 231.3v-1M220.4 205.8v1M228 231.3v-1M228 205.8v1M236.3 231.3v-1M236.3 205.8v1M244 231.3v-1M244 205.8v1M214.5 212.6h1M249.9 212.6h-1M214.5 218.6h1M249.9 218.6h-1M214.5 224.7h1M249.9 224.7h-1M214.5 230.8h1M249.9 230.8h-1" stroke="#b0b0b0" stroke-width="0.4" fill="none"/>
<text x="232" y="239.6" font-size="4.2" text-anchor="middle" fill="#6a6a6a" stroke="#6a6a6a" textLength="13.4" lengthAdjust="spacingAndGlyphs">Time (s)</text>
<text x="206.6" y="221.55" font-size="3.6" text-anchor="middle" fill="#8a8a8a" stroke="#8a8a8a" textLength="30" lengthAdjust="spacingAndGlyphs" transform="rotate(-90 206.6 221.55)">PA amplitude (mV)</text>
<g clip-path="url(#ic8)"><path d="M215 220.5V231.3" stroke="#eaa898" stroke-width="0.6"/><polyline points="214.5,220.49 214.8,220.74 215.1,220.92 215.4,220.91 215.7,220.56 216,220.7 216.3,220.57 216.6,220.28 216.9,220.68 217.2,220.83 217.5,220.91 217.8,220.8 218.1,220.53 218.4,220.58 218.7,220.45 219,220.7 219.3,220.39 219.6,220.72 219.9,220.9 220.2,220.85 220.5,220.64 220.8,220.95 221.1,220.66 221.4,220.54 221.7,220.65 222,220.54 222.3,220.55 222.6,220.76 222.9,220.7 223.2,220.53 223.5,220.8 223.8,220.86 224.1,220.25 224.4,220.54 224.7,220.34 225,220.52 225.3,220.63 225.6,220.63 225.9,220.38 226.2,220.41 226.5,220.95 226.8,221.8 227.1,221.77 227.4,221.03 227.7,221.17 228,220.84 228.3,220.9 228.6,220.62 228.9,220.73 229.2,220.71 229.5,220.36 229.8,220.32 230.1,220.31 230.4,220.1 230.7,220.15 231,220.48 231.3,220.44 231.6,219.84 231.9,220 232.2,220.06 232.5,220.14 232.8,220.19 233.1,220.05 233.4,219.78 233.7,219.91 234,220.17 234.3,219.87 234.6,219.56 234.9,219.94 235.2,219.83 235.5,220 235.8,219.72 236.1,219.75 236.4,219.58 236.7,219.39 237,219.43 237.3,219.5 237.6,219.25 237.9,219.47 238.2,219.57 238.5,219.2 238.8,219.39 239.1,219.19 239.4,219.19 239.7,219.53 240,219.03 240.3,218.88 240.6,219.12 240.9,219.08 241.2,219.08 241.5,218.59 241.8,219.29 242.1,218.88 242.4,219.13 242.7,218.72 243,218.84 243.3,218.85 243.6,218.99" fill="none" stroke="#a6d2f0" stroke-width="2.46" stroke-linejoin="round"/><polyline points="214.5,220.63 214.8,220.72 215.1,220.61 215.4,220.73 215.7,220.55 216,220.6 216.3,220.79 216.6,220.67 216.9,220.78 217.2,220.75 217.5,220.71 217.8,220.63 218.1,220.8 218.4,220.42 218.7,220.88 219,220.36 219.3,220.64 219.6,220.54 219.9,220.54 220.2,220.47 220.5,220.55 220.8,220.83 221.1,220.63 221.4,220.59 221.7,220.61 222,220.58 222.3,220.74 222.6,220.59 222.9,220.61 223.2,220.66 223.5,220.49 223.8,220.46 224.1,220.52 224.4,220.45 224.7,220.4 225,220.39 225.3,220.71 225.6,220.38 225.9,220.48 226.2,220.42 226.5,221.02 226.8,221.53 227.1,221.54 227.4,221.41 227.7,220.9 228,220.74 228.3,220.52 228.6,220.74 228.9,220.69 229.2,220.59 229.5,220.55 229.8,220.38 230.1,220.38 230.4,220.36 230.7,220.26 231,220.18 231.3,220.24 231.6,220.01 231.9,220.19 232.2,220.17 232.5,220.1 232.8,219.9 233.1,220.05 233.4,220.04 233.7,220.04 234,219.86 234.3,219.79 234.6,219.88 234.9,219.9 235.2,219.55 235.5,219.84 235.8,219.79 236.1,219.57 236.4,219.57 236.7,219.56 237,219.57 237.3,219.33 237.6,219.51 237.9,219.44 238.2,219.33 238.5,219.43 238.8,219.25 239.1,219.14 239.4,219.11 239.7,219.02 240,219.09 240.3,219.23 240.6,218.95 240.9,219.17 241.2,219.03 241.5,218.96 241.8,218.63 242.1,218.75 242.4,218.87 242.7,218.77 243,218.83 243.3,218.61 243.6,218.84" fill="none" stroke="#5a9ad6" stroke-width="1.36" stroke-linejoin="round"/><polyline points="214.5,221.1 214.8,221.09 215.1,221.09 215.4,221.08 215.7,221.08 216,221.07 216.3,221.07 216.6,221.06 216.9,221.06 217.2,221.05 217.5,221.05 217.8,221.04 218.1,221.04 218.4,221.03 218.7,221.03 219,221.02 219.3,221.02 219.6,221.01 219.9,221.01 220.2,221 220.5,221 220.8,220.99 221.1,220.99 221.4,220.98 221.7,220.98 222,220.97 222.3,220.97 222.6,220.96 222.9,220.96 223.2,220.95 223.5,220.95 223.8,220.94 224.1,220.94 224.4,220.93 224.7,220.93 225,220.92 225.3,220.92 225.6,220.91 225.9,220.91 226.2,220.9 226.5,221.41 226.8,221.93 227.1,221.9 227.4,221.6 227.7,221.3 228,221 228.3,220.96 228.6,220.93 228.9,220.89 229.2,220.86 229.5,220.82 229.8,220.78 230.1,220.75 230.4,220.71 230.7,220.68 231,220.64 231.3,220.6 231.6,220.57 231.9,220.53 232.2,220.49 232.5,220.46 232.8,220.42 233.1,220.39 233.4,220.35 233.7,220.31 234,220.28 234.3,220.24 234.6,220.21 234.9,220.17 235.2,220.13 235.5,220.1 235.8,220.06 236.1,220.03 236.4,219.99 236.7,219.95 237,219.92 237.3,219.88 237.6,219.85 237.9,219.81 238.2,219.77 238.5,219.74 238.8,219.7 239.1,219.67 239.4,219.63 239.7,219.59 240,219.56 240.3,219.52 240.6,219.48 240.9,219.45 241.2,219.41 241.5,219.38 241.8,219.34 242.1,219.3 242.4,219.27 242.7,219.23 243,219.2 243.3,219.16 243.6,219.12" fill="none" stroke="#4d6688" stroke-width="0.3" opacity="0.5"/><polyline points="214.5,220.6 214.8,220.59 215.1,220.59 215.4,220.58 215.7,220.58 216,220.57 216.3,220.57 216.6,220.56 216.9,220.56 217.2,220.55 217.5,220.55 217.8,220.54 218.1,220.54 218.4,220.53 218.7,220.53 219,220.52 219.3,220.52 219.6,220.51 219.9,220.51 220.2,220.5 220.5,220.5 220.8,220.49 221.1,220.49 221.4,220.48 221.7,220.48 222,220.47 222.3,220.47 222.6,220.46 222.9,220.46 223.2,220.45 223.5,220.45 223.8,220.44 224.1,220.44 224.4,220.43 224.7,220.43 225,220.42 225.3,220.42 225.6,220.41 225.9,220.41 226.2,220.4 226.5,220.91 226.8,221.43 227.1,221.4 227.4,221.1 227.7,220.8 228,220.5 228.3,220.46 228.6,220.43 228.9,220.39 229.2,220.36 229.5,220.32 229.8,220.28 230.1,220.25 230.4,220.21 230.7,220.18 231,220.14 231.3,220.1 231.6,220.07 231.9,220.03 232.2,219.99 232.5,219.96 232.8,219.92 233.1,219.89 233.4,219.85 233.7,219.81 234,219.78 234.3,219.74 234.6,219.71 234.9,219.67 235.2,219.63 235.5,219.6 235.8,219.56 236.1,219.53 236.4,219.49 236.7,219.45 237,219.42 237.3,219.38 237.6,219.35 237.9,219.31 238.2,219.27 238.5,219.24 238.8,219.2 239.1,219.17 239.4,219.13 239.7,219.09 240,219.06 240.3,219.02 240.6,218.98 240.9,218.95 241.2,218.91 241.5,218.88 241.8,218.84 242.1,218.8 242.4,218.77 242.7,218.73 243,218.7 243.3,218.66 243.6,218.62" fill="none" stroke="#d46a42" stroke-width="0.7" opacity="0.9"/><polyline points="243.8,218.7 244.2,208 245,216 245.8,212 246.6,219 247.4,220.7 248.3,216.5 249.2,214 249.9,213.1" fill="none" stroke="#d9705e" stroke-width="0.9" stroke-linejoin="round"/><polyline points="244.2,208.5 245.2,212.5 246.2,216" fill="none" stroke="#69b2e2" stroke-width="0.9" stroke-linejoin="round"/><polyline points="248.6,216.5 249.9,213.1" fill="none" stroke="#69b2e2" stroke-width="1.1" stroke-linejoin="round"/></g>
<rect x="214.5" y="205.8" width="35.4" height="25.5" fill="none" stroke="#a8a8a8" stroke-width="0.5"/>
<clipPath id="c9"><rect x="384.3" y="204.9" width="156.7" height="73.4"/></clipPath>
<path d="M389.35 277.8v-1.6M389.35 205.4v1.6M414.62 277.8v-1.6M414.62 205.4v1.6M439.9 277.8v-1.6M439.9 205.4v1.6M465.18 277.8v-1.6M465.18 205.4v1.6M490.45 277.8v-1.6M490.45 205.4v1.6M515.73 277.8v-1.6M515.73 205.4v1.6M541 277.8v-1.6M541 205.4v1.6M384.3 277.8h1.6M541 277.8h-1.6M384.3 241.6h1.6M541 241.6h-1.6M384.3 205.4h1.6M541 205.4h-1.6" stroke="#adadad" stroke-width="0.6" fill="none"/>
<text x="389.35" y="285.5" font-size="7.6" text-anchor="middle" fill="#484848" stroke="#484848" textLength="9.3" lengthAdjust="spacingAndGlyphs">205</text>
<text x="414.62" y="285.5" font-size="7.6" text-anchor="middle" fill="#484848" stroke="#484848" textLength="9.3" lengthAdjust="spacingAndGlyphs">210</text>
<text x="439.9" y="285.5" font-size="7.6" text-anchor="middle" fill="#484848" stroke="#484848" textLength="9.3" lengthAdjust="spacingAndGlyphs">215</text>
<text x="465.18" y="285.5" font-size="7.6" text-anchor="middle" fill="#484848" stroke="#484848" textLength="9.3" lengthAdjust="spacingAndGlyphs">220</text>
<text x="490.45" y="285.5" font-size="7.6" text-anchor="middle" fill="#484848" stroke="#484848" textLength="9.3" lengthAdjust="spacingAndGlyphs">225</text>
<text x="515.73" y="285.5" font-size="7.6" text-anchor="middle" fill="#484848" stroke="#484848" textLength="9.3" lengthAdjust="spacingAndGlyphs">230</text>
<text x="541" y="285.5" font-size="7.6" text-anchor="middle" fill="#484848" stroke="#484848" textLength="9.3" lengthAdjust="spacingAndGlyphs">235</text>
<text x="383" y="280.38" font-size="7.6" text-anchor="end" fill="#484848" stroke="#484848" textLength="7.75" lengthAdjust="spacingAndGlyphs">1.5</text>
<text x="383" y="244.18" font-size="7.6" text-anchor="end" fill="#484848" stroke="#484848" textLength="3.1" lengthAdjust="spacingAndGlyphs">2</text>
<text x="383" y="207.98" font-size="7.6" text-anchor="end" fill="#484848" stroke="#484848" textLength="7.75" lengthAdjust="spacingAndGlyphs">2.5</text>
<text x="462.8" y="292.9" font-size="7.6" text-anchor="middle" fill="#484848" stroke="#484848" textLength="25.1" lengthAdjust="spacingAndGlyphs">Time (s)</text>
<text x="373" y="241.6" font-size="7" text-anchor="middle" fill="#484848" stroke="#484848" textLength="62" lengthAdjust="spacingAndGlyphs" transform="rotate(-90 373 241.6)">PA amplitude (mV)</text>
<g clip-path="url(#c9)"><polyline points="383.99,270.93 385.9,270.33 387.5,269.58 388.87,269.91 390.47,268.3 392.12,266.6 393,276.8 393.85,264.92 395.34,262.34 396.83,258.91 398.6,254.5 400.09,252.36 402.14,247.98 403.79,245.79 404.8,244.7 405.6,241.3 406.83,244.62 408.35,245.09 410.15,246.26 411.61,249.34 413.13,252.38 414.83,255.67 416.23,259.59 418.02,262.37 419.71,264.6 421.08,267.31 422.98,266.54 424.49,267.24 426.21,263.63 427.29,262.9 429.11,258.56 430.99,256.17 432.4,253.74 434.13,254.97 435.8,254.16 436.9,256.19 438.54,255.92 440.54,256.93 442.16,258.83 443.67,261.19 445,260.95 446.68,262.51 448.37,263.96 449.9,264.09 451.49,263.48 453.06,264.66 454.94,266.5 456.1,265.56 458.02,266.5 459.63,265.03 461.37,261.91 462.41,261.49 464.39,258.66 465.99,257.74 467.48,256.9 468.81,258.16 470.4,258.9 472.09,261.21 474.09,262.93 475.28,265.24 476.87,267.74 478.61,269.17 480.29,269.46 482.03,268.48 483.69,265.81 484.95,265 486.96,262.74 487.99,261.29 489.82,259.89 491.31,258.74 493,259.58 494.66,259.46 495.5,255.5 496.3,259.93 497.85,260.26 499.32,262.14 500.92,260.81 502.53,260.69 504.45,260.55 505.85,263.04 507.55,263.52 509.1,262.81 510.66,263.42 512.45,265.44 513,270.5 513.94,266.3 514.5,269 515.37,266.64 517.4,266.63 518.52,265.18 520.07,264.33 521.97,262.34 523.49,260.58 524.9,259.42 526.45,257.88 528.33,257.46 529.77,257.97 531.25,257.24 533.09,259.55 534.78,259.66 536,261 537.9,259.84 539.23,261.09" fill="none" stroke="#9dd6ea" stroke-width="0.35" opacity="0.7"/><g fill="#12a2c6"><circle cx="383.99" cy="270.93" r="1.3"/><circle cx="385.9" cy="270.33" r="1.3"/><circle cx="387.5" cy="269.58" r="1.3"/><circle cx="388.87" cy="269.91" r="1.3"/><circle cx="390.47" cy="268.3" r="1.3"/><circle cx="392.12" cy="266.6" r="1.3"/><circle cx="393" cy="276.8" r="1.3"/><circle cx="393.85" cy="264.92" r="1.3"/><circle cx="395.34" cy="262.34" r="1.3"/><circle cx="396.83" cy="258.91" r="1.3"/><circle cx="398.6" cy="254.5" r="1.3"/><circle cx="400.09" cy="252.36" r="1.3"/><circle cx="402.14" cy="247.98" r="1.3"/><circle cx="403.79" cy="245.79" r="1.3"/><circle cx="404.8" cy="244.7" r="1.3"/><circle cx="405.6" cy="241.3" r="1.3"/><circle cx="406.83" cy="244.62" r="1.3"/><circle cx="408.35" cy="245.09" r="1.3"/><circle cx="410.15" cy="246.26" r="1.3"/><circle cx="411.61" cy="249.34" r="1.3"/><circle cx="413.13" cy="252.38" r="1.3"/><circle cx="414.83" cy="255.67" r="1.3"/><circle cx="416.23" cy="259.59" r="1.3"/><circle cx="418.02" cy="262.37" r="1.3"/><circle cx="419.71" cy="264.6" r="1.3"/><circle cx="421.08" cy="267.31" r="1.3"/><circle cx="422.98" cy="266.54" r="1.3"/><circle cx="424.49" cy="267.24" r="1.3"/><circle cx="426.21" cy="263.63" r="1.3"/><circle cx="427.29" cy="262.9" r="1.3"/><circle cx="429.11" cy="258.56" r="1.3"/><circle cx="430.99" cy="256.17" r="1.3"/><circle cx="432.4" cy="253.74" r="1.3"/><circle cx="434.13" cy="254.97" r="1.3"/><circle cx="435.8" cy="254.16" r="1.3"/><circle cx="436.9" cy="256.19" r="1.3"/><circle cx="438.54" cy="255.92" r="1.3"/><circle cx="440.54" cy="256.93" r="1.3"/><circle cx="442.16" cy="258.83" r="1.3"/><circle cx="443.67" cy="261.19" r="1.3"/><circle cx="445" cy="260.95" r="1.3"/><circle cx="446.68" cy="262.51" r="1.3"/><circle cx="448.37" cy="263.96" r="1.3"/><circle cx="449.9" cy="264.09" r="1.3"/><circle cx="451.49" cy="263.48" r="1.3"/><circle cx="453.06" cy="264.66" r="1.3"/><circle cx="454.94" cy="266.5" r="1.3"/><circle cx="456.1" cy="265.56" r="1.3"/><circle cx="458.02" cy="266.5" r="1.3"/><circle cx="459.63" cy="265.03" r="1.3"/><circle cx="461.37" cy="261.91" r="1.3"/><circle cx="462.41" cy="261.49" r="1.3"/><circle cx="464.39" cy="258.66" r="1.3"/><circle cx="465.99" cy="257.74" r="1.3"/><circle cx="467.48" cy="256.9" r="1.3"/><circle cx="468.81" cy="258.16" r="1.3"/><circle cx="470.4" cy="258.9" r="1.3"/><circle cx="472.09" cy="261.21" r="1.3"/><circle cx="474.09" cy="262.93" r="1.3"/><circle cx="475.28" cy="265.24" r="1.3"/><circle cx="476.87" cy="267.74" r="1.3"/><circle cx="478.61" cy="269.17" r="1.3"/><circle cx="480.29" cy="269.46" r="1.3"/><circle cx="482.03" cy="268.48" r="1.3"/><circle cx="483.69" cy="265.81" r="1.3"/><circle cx="484.95" cy="265" r="1.3"/><circle cx="486.96" cy="262.74" r="1.3"/><circle cx="487.99" cy="261.29" r="1.3"/><circle cx="489.82" cy="259.89" r="1.3"/><circle cx="491.31" cy="258.74" r="1.3"/><circle cx="493" cy="259.58" r="1.3"/><circle cx="494.66" cy="259.46" r="1.3"/><circle cx="495.5" cy="255.5" r="1.3"/><circle cx="496.3" cy="259.93" r="1.3"/><circle cx="497.85" cy="260.26" r="1.3"/><circle cx="499.32" cy="262.14" r="1.3"/><circle cx="500.92" cy="260.81" r="1.3"/><circle cx="502.53" cy="260.69" r="1.3"/><circle cx="504.45" cy="260.55" r="1.3"/><circle cx="505.85" cy="263.04" r="1.3"/><circle cx="507.55" cy="263.52" r="1.3"/><circle cx="509.1" cy="262.81" r="1.3"/><circle cx="510.66" cy="263.42" r="1.3"/><circle cx="512.45" cy="265.44" r="1.3"/><circle cx="513" cy="270.5" r="1.3"/><circle cx="513.94" cy="266.3" r="1.3"/><circle cx="514.5" cy="269" r="1.3"/><circle cx="515.37" cy="266.64" r="1.3"/><circle cx="517.4" cy="266.63" r="1.3"/><circle cx="518.52" cy="265.18" r="1.3"/><circle cx="520.07" cy="264.33" r="1.3"/><circle cx="521.97" cy="262.34" r="1.3"/><circle cx="523.49" cy="260.58" r="1.3"/><circle cx="524.9" cy="259.42" r="1.3"/><circle cx="526.45" cy="257.88" r="1.3"/><circle cx="528.33" cy="257.46" r="1.3"/><circle cx="529.77" cy="257.97" r="1.3"/><circle cx="531.25" cy="257.24" r="1.3"/><circle cx="533.09" cy="259.55" r="1.3"/><circle cx="534.78" cy="259.66" r="1.3"/><circle cx="536" cy="261" r="1.3"/><circle cx="537.9" cy="259.84" r="1.3"/><circle cx="539.23" cy="261.09" r="1.3"/></g><polyline points="384.3,268 384.82,268.16 385.35,268.28 385.87,268.37 386.4,268.43 386.92,268.47 387.44,268.49 387.97,268.5 388.49,268.5 389.02,268.49 389.54,268.4 390.06,268.25 390.59,268.03 391.11,267.78 391.64,267.48 392.16,267.15 392.69,266.81 393.21,266.38 393.73,265.78 394.26,265.06 394.78,264.24 395.31,263.35 395.83,262.43 396.35,261.41 396.88,260.2 397.4,258.87 397.93,257.48 398.45,256.08 398.97,254.74 399.5,253.48 400.02,252.13 400.55,250.77 401.07,249.46 401.59,248.31 402.12,247.38 402.64,246.72 403.17,246.12 403.69,245.57 404.22,245.11 404.74,244.75 405.26,244.54 405.79,244.51 406.31,244.62 406.84,244.83 407.36,245.13 407.88,245.48 408.41,245.89 408.93,246.32 409.46,246.93 409.98,247.75 410.5,248.71 411.03,249.74 411.55,250.78 412.08,251.76 412.6,252.71 413.12,253.73 413.65,254.77 414.17,255.8 414.7,256.81 415.22,257.75 415.74,258.59 416.27,259.33 416.79,260.06 417.32,260.81 417.84,261.54 418.37,262.24 418.89,262.87 419.41,263.41 419.94,263.83 420.46,264.1 420.99,264.2 421.51,264.19 422.03,264.18 422.56,264.15 423.08,264.11 423.61,264.06 424.13,264.01 424.65,263.95 425.18,263.86 425.7,263.63 426.23,263.23 426.75,262.7 427.27,262.08 427.8,261.42 428.32,260.74 428.85,260.09 429.37,259.51 429.89,259.02 430.42,258.54 430.94,258.03 431.47,257.52 431.99,257.02 432.52,256.55 433.04,256.14 433.56,255.82 434.09,255.6 434.61,255.5 435.14,255.5 435.66,255.5 436.18,255.5 436.71,255.5 437.23,255.5 437.76,255.5 438.28,255.5 438.8,255.5 439.33,255.6 439.85,255.83 440.38,256.16 440.9,256.56 441.42,257.03 441.95,257.53 442.47,258.05 443,258.56 443.52,259.03 444.05,259.51 444.57,260.05 445.09,260.65 445.62,261.26 446.14,261.88 446.67,262.46 447.19,263 447.71,263.46 448.24,263.81 448.76,264.08 449.29,264.33 449.81,264.57 450.33,264.8 450.86,265.01 451.38,265.18 451.91,265.33 452.43,265.43 452.95,265.49 453.48,265.5 454,265.46 454.53,265.39 455.05,265.27 455.57,265.13 456.1,264.97 456.62,264.79 457.15,264.59 457.67,264.38 458.2,264.16 458.72,263.85 459.24,263.44 459.77,262.95 460.29,262.43 460.82,261.89 461.34,261.38 461.86,260.93 462.39,260.56 462.91,260.27 463.44,259.98 463.96,259.71 464.48,259.46 465.01,259.27 465.53,259.14 466.06,259.1 466.58,259.14 467.1,259.24 467.63,259.39 468.15,259.59 468.68,259.82 469.2,260.09 469.73,260.37 470.25,260.67 470.77,260.97 471.3,261.27 471.82,261.57 472.35,261.91 472.87,262.31 473.39,262.75 473.92,263.21 474.44,263.67 474.97,264.13 475.49,264.55 476.01,264.92 476.54,265.22 477.06,265.5 477.59,265.78 478.11,266.05 478.63,266.3 479.16,266.51 479.68,266.68 480.21,266.78 480.73,266.8 481.25,266.73 481.78,266.6 482.3,266.4 482.83,266.16 483.35,265.88 483.88,265.58 484.4,265.27 484.92,264.97 485.45,264.67 485.97,264.36 486.5,264 487.02,263.6 487.54,263.18 488.07,262.74 488.59,262.31 489.12,261.9 489.64,261.52 490.16,261.17 490.69,260.88 491.21,260.66 491.74,260.45 492.26,260.25 492.78,260.06 493.31,259.88 493.83,259.72 494.36,259.59 494.88,259.49 495.41,259.42 495.93,259.4 496.45,259.42 496.98,259.47 497.5,259.54 498.03,259.65 498.55,259.77 499.07,259.9 499.6,260.06 500.12,260.22 500.65,260.39 501.17,260.56 501.69,260.73 502.22,260.95 502.74,261.21 503.27,261.52 503.79,261.85 504.31,262.21 504.84,262.56 505.36,262.91 505.89,263.24 506.41,263.54 506.93,263.79 507.46,264 507.98,264.2 508.51,264.41 509.03,264.61 509.56,264.8 510.08,264.98 510.6,265.14 511.13,265.28 511.65,265.38 512.18,265.46 512.7,265.5 513.22,265.49 513.75,265.44 514.27,265.35 514.8,265.23 515.32,265.09 515.84,264.92 516.37,264.73 516.89,264.53 517.42,264.32 517.94,264.12 518.46,263.91 518.99,263.69 519.51,263.42 520.04,263.11 520.56,262.78 521.08,262.44 521.61,262.09 522.13,261.75 522.66,261.42 523.18,261.13 523.71,260.89 524.23,260.69 524.75,260.52 525.28,260.35 525.8,260.19 526.33,260.03 526.85,259.88 527.37,259.73 527.9,259.6 528.42,259.47 528.95,259.36 529.47,259.27 529.99,259.2 530.52,259.14 531.04,259.11 531.57,259.1 532.09,259.1 532.61,259.1 533.14,259.1 533.66,259.1 534.19,259.1 534.71,259.1 535.24,259.1 535.76,259.1 536.28,259.1 536.81,259.1 537.33,259.1 537.86,259.1 538.38,259.1 538.9,259.1 539.43,259.1 539.95,259.1 540.48,259.1 541,259.1" fill="none" stroke="#dc5a22" stroke-width="1.3" stroke-linejoin="round"/></g>
<rect x="384.3" y="205.4" width="156.7" height="72.4" fill="none" stroke="#adadad" stroke-width="0.7"/>
<circle cx="486.2" cy="211.8" r="1.2" fill="#12a2c6"/>
<path d="M484.2 220.4H488.6" stroke="#dc5a22" stroke-width="1.3"/>
<text x="488.6" y="213.2" font-size="7.6" text-anchor="start" fill="#484848" stroke="#484848" textLength="29.7" lengthAdjust="spacingAndGlyphs">Raw data</text>
<text x="488.6" y="222" font-size="7.6" text-anchor="start" fill="#484848" stroke="#484848" textLength="50.4" lengthAdjust="spacingAndGlyphs">Smoothed signal</text>
<text x="431.7" y="220.5" font-size="8.6" fill="#484848" stroke="#484848" textLength="44.1" lengthAdjust="spacingAndGlyphs">(i)50mA/cm²</text>
<rect x="396.3" y="206.2" width="35.3" height="25.1" fill="#fff"/>
<clipPath id="ic9"><rect x="396.3" y="206.2" width="35.3" height="25.1"/></clipPath>
<text x="402.4" y="236.8" font-size="3.85" text-anchor="middle" fill="#6a6a6a" stroke="#6a6a6a" textLength="3.5" lengthAdjust="spacingAndGlyphs">50</text>
<text x="410.3" y="236.8" font-size="3.85" text-anchor="middle" fill="#6a6a6a" stroke="#6a6a6a" textLength="5.25" lengthAdjust="spacingAndGlyphs">100</text>
<text x="417.6" y="236.8" font-size="3.85" text-anchor="middle" fill="#6a6a6a" stroke="#6a6a6a" textLength="5.25" lengthAdjust="spacingAndGlyphs">150</text>
<text x="424.8" y="236.8" font-size="3.85" text-anchor="middle" fill="#6a6a6a" stroke="#6a6a6a" textLength="5.25" lengthAdjust="spacingAndGlyphs">200</text>
<text x="395.1" y="209.37" font-size="3.47" text-anchor="end" fill="#6a6a6a" stroke="#6a6a6a" textLength="1.57" lengthAdjust="spacingAndGlyphs">2</text>
<text x="395.1" y="221.17" font-size="3.47" text-anchor="end" fill="#6a6a6a" stroke="#6a6a6a" textLength="3.94" lengthAdjust="spacingAndGlyphs">1.5</text>
<text x="395.1" y="232.87" font-size="3.47" text-anchor="end" fill="#6a6a6a" stroke="#6a6a6a" textLength="1.57" lengthAdjust="spacingAndGlyphs">1</text>
<path d="M402.4 231.3v-1M402.4 206.2v1M410.3 231.3v-1M410.3 206.2v1M417.6 231.3v-1M417.6 206.2v1M424.8 231.3v-1M424.8 206.2v1M396.3 208.1h1M431.6 208.1h-1M396.3 219.9h1M431.6 219.9h-1M396.3 231.6h1M431.6 231.6h-1" stroke="#b0b0b0" stroke-width="0.4" fill="none"/>
<text x="413.8" y="240.5" font-size="4.2" text-anchor="middle" fill="#6a6a6a" stroke="#6a6a6a" textLength="13" lengthAdjust="spacingAndGlyphs">Time (s)</text>
<text x="388.4" y="221.75" font-size="3.6" text-anchor="middle" fill="#8a8a8a" stroke="#8a8a8a" textLength="30" lengthAdjust="spacingAndGlyphs" transform="rotate(-90 388.4 221.75)">PA amplitude (mV)</text>
<g clip-path="url(#ic9)"><path d="M396.7 217.6V231.3" stroke="#6f8fb5" stroke-width="0.6"/><path d="M397.2 217.6V231.3" stroke="#eaa898" stroke-width="0.5"/><polyline points="396.3,217.6 425.8,216.1" fill="none" stroke="#9ccbee" stroke-width="1.6" stroke-linejoin="round"/><polyline points="396.3,217.7 425.8,216.2" fill="none" stroke="#4c5f80" stroke-width="0.7" stroke-linejoin="round"/><polyline points="396.3,217.4 425.8,215.9" fill="none" stroke="#d46a42" stroke-width="0.35" stroke-linejoin="round"/><polygon points="425.8,216.5 425.8,209 427.5,211.5 429.9,214 429.9,215.8" fill="#e8804a" opacity="0.9"/><polyline points="425.8,216 426.2,208 427.5,212 429,215.6 430.5,213.5 431.6,212.6" fill="none" stroke="#69b2e2" stroke-width="0.9" stroke-linejoin="round"/></g>
<rect x="396.3" y="206.2" width="35.3" height="25.1" fill="none" stroke="#a8a8a8" stroke-width="0.5"/>
</svg>
</body></html>
